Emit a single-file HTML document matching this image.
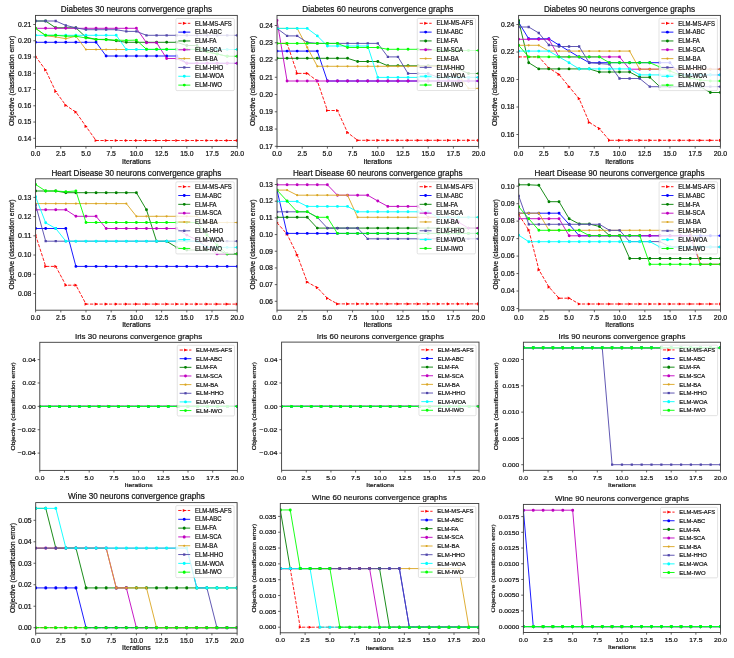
<!DOCTYPE html>
<html><head><meta charset="utf-8"><style>
html,body{margin:0;padding:0;background:#fff;}
svg{display:block;will-change:transform;}
text{font-family:"Liberation Sans", sans-serif;fill:#111;stroke:#111;stroke-width:0.2px;}
</style></head><body>
<svg width="734" height="658" viewBox="0 0 734 658">
<rect width="734" height="658" fill="#fff"/>
<text x="136.40" y="12.10" font-size="8.20" text-anchor="middle" textLength="151.21" lengthAdjust="spacingAndGlyphs">Diabetes 30 neurons convergence graphs</text>
<clipPath id="c0"><rect x="35.5" y="15.4" width="201.80" height="131.00"/></clipPath>
<g clip-path="url(#c0)">
<polyline points="35.50,56.30 45.59,70.00 55.68,91.50 65.77,105.30 75.86,112.10 85.95,126.40 96.04,140.50 106.13,140.50 116.22,140.50 126.31,140.50 136.40,140.50 146.49,140.50 156.58,140.50 166.67,140.50 176.76,140.50 186.85,140.50 196.94,140.50 207.03,140.50 217.12,140.50 227.21,140.50 237.30,140.50" fill="none" stroke="#ff0000" stroke-width="0.9" stroke-dasharray="3.3,1.45"/>
<path d="M34.10,54.70L37.20,56.30L34.10,57.90ZM44.19,68.40L47.29,70.00L44.19,71.60ZM54.28,89.90L57.38,91.50L54.28,93.10ZM64.37,103.70L67.47,105.30L64.37,106.90ZM74.46,110.50L77.56,112.10L74.46,113.70ZM84.55,124.80L87.65,126.40L84.55,128.00ZM94.64,138.90L97.74,140.50L94.64,142.10ZM104.73,138.90L107.83,140.50L104.73,142.10ZM114.82,138.90L117.92,140.50L114.82,142.10ZM124.91,138.90L128.01,140.50L124.91,142.10ZM135.00,138.90L138.10,140.50L135.00,142.10ZM145.09,138.90L148.19,140.50L145.09,142.10ZM155.18,138.90L158.28,140.50L155.18,142.10ZM165.27,138.90L168.37,140.50L165.27,142.10ZM175.36,138.90L178.46,140.50L175.36,142.10ZM185.45,138.90L188.55,140.50L185.45,142.10ZM195.54,138.90L198.64,140.50L195.54,142.10ZM205.63,138.90L208.73,140.50L205.63,142.10ZM215.72,138.90L218.82,140.50L215.72,142.10ZM225.81,138.90L228.91,140.50L225.81,142.10ZM235.90,138.90L239.00,140.50L235.90,142.10Z" fill="#ff0000"/>
<polyline points="35.50,42.30 45.59,42.30 55.68,42.30 65.77,42.30 75.86,42.30 85.95,42.30 96.04,42.30 106.13,56.00 116.22,56.00 126.31,56.00 136.40,56.00 146.49,56.00 156.58,56.00 166.67,56.00 176.76,56.00 186.85,63.30 196.94,63.30 207.03,63.30 217.12,63.30 227.21,63.30 237.30,63.30" fill="none" stroke="#0000ff" stroke-width="0.9"/>
<path d="M34.05,42.30a1.45,1.45 0 1,0 2.90,0a1.45,1.45 0 1,0 -2.90,0M44.14,42.30a1.45,1.45 0 1,0 2.90,0a1.45,1.45 0 1,0 -2.90,0M54.23,42.30a1.45,1.45 0 1,0 2.90,0a1.45,1.45 0 1,0 -2.90,0M64.32,42.30a1.45,1.45 0 1,0 2.90,0a1.45,1.45 0 1,0 -2.90,0M74.41,42.30a1.45,1.45 0 1,0 2.90,0a1.45,1.45 0 1,0 -2.90,0M84.50,42.30a1.45,1.45 0 1,0 2.90,0a1.45,1.45 0 1,0 -2.90,0M94.59,42.30a1.45,1.45 0 1,0 2.90,0a1.45,1.45 0 1,0 -2.90,0M104.68,56.00a1.45,1.45 0 1,0 2.90,0a1.45,1.45 0 1,0 -2.90,0M114.77,56.00a1.45,1.45 0 1,0 2.90,0a1.45,1.45 0 1,0 -2.90,0M124.86,56.00a1.45,1.45 0 1,0 2.90,0a1.45,1.45 0 1,0 -2.90,0M134.95,56.00a1.45,1.45 0 1,0 2.90,0a1.45,1.45 0 1,0 -2.90,0M145.04,56.00a1.45,1.45 0 1,0 2.90,0a1.45,1.45 0 1,0 -2.90,0M155.13,56.00a1.45,1.45 0 1,0 2.90,0a1.45,1.45 0 1,0 -2.90,0M165.22,56.00a1.45,1.45 0 1,0 2.90,0a1.45,1.45 0 1,0 -2.90,0M175.31,56.00a1.45,1.45 0 1,0 2.90,0a1.45,1.45 0 1,0 -2.90,0M185.40,63.30a1.45,1.45 0 1,0 2.90,0a1.45,1.45 0 1,0 -2.90,0M195.49,63.30a1.45,1.45 0 1,0 2.90,0a1.45,1.45 0 1,0 -2.90,0M205.58,63.30a1.45,1.45 0 1,0 2.90,0a1.45,1.45 0 1,0 -2.90,0M215.67,63.30a1.45,1.45 0 1,0 2.90,0a1.45,1.45 0 1,0 -2.90,0M225.76,63.30a1.45,1.45 0 1,0 2.90,0a1.45,1.45 0 1,0 -2.90,0M235.85,63.30a1.45,1.45 0 1,0 2.90,0a1.45,1.45 0 1,0 -2.90,0" fill="#0000ff"/>
<polyline points="35.50,21.00 45.59,21.00 55.68,27.80 65.77,27.80 75.86,27.80 85.95,37.20 96.04,39.40 106.13,39.40 116.22,40.80 126.31,42.30 136.40,42.30 146.49,42.30 156.58,42.30 166.67,42.30 176.76,42.30 186.85,45.50 196.94,45.50 207.03,51.80 217.12,54.00 227.21,56.30 237.30,56.30" fill="none" stroke="#008000" stroke-width="0.9"/>
<path d="M34.05,21.00a1.45,1.45 0 1,0 2.90,0a1.45,1.45 0 1,0 -2.90,0M44.14,21.00a1.45,1.45 0 1,0 2.90,0a1.45,1.45 0 1,0 -2.90,0M54.23,27.80a1.45,1.45 0 1,0 2.90,0a1.45,1.45 0 1,0 -2.90,0M64.32,27.80a1.45,1.45 0 1,0 2.90,0a1.45,1.45 0 1,0 -2.90,0M74.41,27.80a1.45,1.45 0 1,0 2.90,0a1.45,1.45 0 1,0 -2.90,0M84.50,37.20a1.45,1.45 0 1,0 2.90,0a1.45,1.45 0 1,0 -2.90,0M94.59,39.40a1.45,1.45 0 1,0 2.90,0a1.45,1.45 0 1,0 -2.90,0M104.68,39.40a1.45,1.45 0 1,0 2.90,0a1.45,1.45 0 1,0 -2.90,0M114.77,40.80a1.45,1.45 0 1,0 2.90,0a1.45,1.45 0 1,0 -2.90,0M124.86,42.30a1.45,1.45 0 1,0 2.90,0a1.45,1.45 0 1,0 -2.90,0M134.95,42.30a1.45,1.45 0 1,0 2.90,0a1.45,1.45 0 1,0 -2.90,0M145.04,42.30a1.45,1.45 0 1,0 2.90,0a1.45,1.45 0 1,0 -2.90,0M155.13,42.30a1.45,1.45 0 1,0 2.90,0a1.45,1.45 0 1,0 -2.90,0M165.22,42.30a1.45,1.45 0 1,0 2.90,0a1.45,1.45 0 1,0 -2.90,0M175.31,42.30a1.45,1.45 0 1,0 2.90,0a1.45,1.45 0 1,0 -2.90,0M185.40,45.50a1.45,1.45 0 1,0 2.90,0a1.45,1.45 0 1,0 -2.90,0M195.49,45.50a1.45,1.45 0 1,0 2.90,0a1.45,1.45 0 1,0 -2.90,0M205.58,51.80a1.45,1.45 0 1,0 2.90,0a1.45,1.45 0 1,0 -2.90,0M215.67,54.00a1.45,1.45 0 1,0 2.90,0a1.45,1.45 0 1,0 -2.90,0M225.76,56.30a1.45,1.45 0 1,0 2.90,0a1.45,1.45 0 1,0 -2.90,0M235.85,56.30a1.45,1.45 0 1,0 2.90,0a1.45,1.45 0 1,0 -2.90,0" fill="#008000"/>
<polyline points="35.50,28.30 45.59,28.30 55.68,28.30 65.77,28.30 75.86,28.30 85.95,28.30 96.04,28.30 106.13,28.30 116.22,28.30 126.31,28.30 136.40,28.30 146.49,42.70 156.58,42.70 166.67,58.50 176.76,58.50 186.85,63.30 196.94,63.30 207.03,63.30 217.12,63.30 227.21,63.30 237.30,63.30" fill="none" stroke="#c000c0" stroke-width="0.9"/>
<path d="M34.05,28.30a1.45,1.45 0 1,0 2.90,0a1.45,1.45 0 1,0 -2.90,0M44.14,28.30a1.45,1.45 0 1,0 2.90,0a1.45,1.45 0 1,0 -2.90,0M54.23,28.30a1.45,1.45 0 1,0 2.90,0a1.45,1.45 0 1,0 -2.90,0M64.32,28.30a1.45,1.45 0 1,0 2.90,0a1.45,1.45 0 1,0 -2.90,0M74.41,28.30a1.45,1.45 0 1,0 2.90,0a1.45,1.45 0 1,0 -2.90,0M84.50,28.30a1.45,1.45 0 1,0 2.90,0a1.45,1.45 0 1,0 -2.90,0M94.59,28.30a1.45,1.45 0 1,0 2.90,0a1.45,1.45 0 1,0 -2.90,0M104.68,28.30a1.45,1.45 0 1,0 2.90,0a1.45,1.45 0 1,0 -2.90,0M114.77,28.30a1.45,1.45 0 1,0 2.90,0a1.45,1.45 0 1,0 -2.90,0M124.86,28.30a1.45,1.45 0 1,0 2.90,0a1.45,1.45 0 1,0 -2.90,0M134.95,28.30a1.45,1.45 0 1,0 2.90,0a1.45,1.45 0 1,0 -2.90,0M145.04,42.70a1.45,1.45 0 1,0 2.90,0a1.45,1.45 0 1,0 -2.90,0M155.13,42.70a1.45,1.45 0 1,0 2.90,0a1.45,1.45 0 1,0 -2.90,0M165.22,58.50a1.45,1.45 0 1,0 2.90,0a1.45,1.45 0 1,0 -2.90,0M175.31,58.50a1.45,1.45 0 1,0 2.90,0a1.45,1.45 0 1,0 -2.90,0M185.40,63.30a1.45,1.45 0 1,0 2.90,0a1.45,1.45 0 1,0 -2.90,0M195.49,63.30a1.45,1.45 0 1,0 2.90,0a1.45,1.45 0 1,0 -2.90,0M205.58,63.30a1.45,1.45 0 1,0 2.90,0a1.45,1.45 0 1,0 -2.90,0M215.67,63.30a1.45,1.45 0 1,0 2.90,0a1.45,1.45 0 1,0 -2.90,0M225.76,63.30a1.45,1.45 0 1,0 2.90,0a1.45,1.45 0 1,0 -2.90,0M235.85,63.30a1.45,1.45 0 1,0 2.90,0a1.45,1.45 0 1,0 -2.90,0" fill="#c000c0"/>
<polyline points="35.50,28.30 45.59,35.80 55.68,36.90 65.77,38.70 75.86,36.20 85.95,49.50 96.04,49.50 106.13,49.50 116.22,49.50 126.31,49.50 136.40,49.50 146.49,49.50 156.58,49.50 166.67,49.50 176.76,49.50 186.85,49.50 196.94,49.50 207.03,49.50 217.12,49.50 227.21,49.50 237.30,49.50" fill="none" stroke="#daa520" stroke-width="0.9"/>
<path d="M34.40,28.30a1.10,1.10 0 1,0 2.20,0a1.10,1.10 0 1,0 -2.20,0M44.49,35.80a1.10,1.10 0 1,0 2.20,0a1.10,1.10 0 1,0 -2.20,0M54.58,36.90a1.10,1.10 0 1,0 2.20,0a1.10,1.10 0 1,0 -2.20,0M64.67,38.70a1.10,1.10 0 1,0 2.20,0a1.10,1.10 0 1,0 -2.20,0M74.76,36.20a1.10,1.10 0 1,0 2.20,0a1.10,1.10 0 1,0 -2.20,0M84.85,49.50a1.10,1.10 0 1,0 2.20,0a1.10,1.10 0 1,0 -2.20,0M94.94,49.50a1.10,1.10 0 1,0 2.20,0a1.10,1.10 0 1,0 -2.20,0M105.03,49.50a1.10,1.10 0 1,0 2.20,0a1.10,1.10 0 1,0 -2.20,0M115.12,49.50a1.10,1.10 0 1,0 2.20,0a1.10,1.10 0 1,0 -2.20,0M125.21,49.50a1.10,1.10 0 1,0 2.20,0a1.10,1.10 0 1,0 -2.20,0M135.30,49.50a1.10,1.10 0 1,0 2.20,0a1.10,1.10 0 1,0 -2.20,0M145.39,49.50a1.10,1.10 0 1,0 2.20,0a1.10,1.10 0 1,0 -2.20,0M155.48,49.50a1.10,1.10 0 1,0 2.20,0a1.10,1.10 0 1,0 -2.20,0M165.57,49.50a1.10,1.10 0 1,0 2.20,0a1.10,1.10 0 1,0 -2.20,0M175.66,49.50a1.10,1.10 0 1,0 2.20,0a1.10,1.10 0 1,0 -2.20,0M185.75,49.50a1.10,1.10 0 1,0 2.20,0a1.10,1.10 0 1,0 -2.20,0M195.84,49.50a1.10,1.10 0 1,0 2.20,0a1.10,1.10 0 1,0 -2.20,0M205.93,49.50a1.10,1.10 0 1,0 2.20,0a1.10,1.10 0 1,0 -2.20,0M216.02,49.50a1.10,1.10 0 1,0 2.20,0a1.10,1.10 0 1,0 -2.20,0M226.11,49.50a1.10,1.10 0 1,0 2.20,0a1.10,1.10 0 1,0 -2.20,0M236.20,49.50a1.10,1.10 0 1,0 2.20,0a1.10,1.10 0 1,0 -2.20,0" fill="#daa520"/>
<polyline points="35.50,21.00 45.59,21.00 55.68,21.00 65.77,25.40 75.86,27.80 85.95,29.70 96.04,29.70 106.13,29.70 116.22,29.70 126.31,31.40 136.40,31.40 146.49,35.30 156.58,35.30 166.67,35.30 176.76,35.30 186.85,35.30 196.94,35.30 207.03,35.30 217.12,35.30 227.21,35.30 237.30,35.30" fill="none" stroke="#5046aa" stroke-width="0.9"/>
<path d="M34.35,19.85h2.30v2.30h-2.30ZM44.44,19.85h2.30v2.30h-2.30ZM54.53,19.85h2.30v2.30h-2.30ZM64.62,24.25h2.30v2.30h-2.30ZM74.71,26.65h2.30v2.30h-2.30ZM84.80,28.55h2.30v2.30h-2.30ZM94.89,28.55h2.30v2.30h-2.30ZM104.98,28.55h2.30v2.30h-2.30ZM115.07,28.55h2.30v2.30h-2.30ZM125.16,30.25h2.30v2.30h-2.30ZM135.25,30.25h2.30v2.30h-2.30ZM145.34,34.15h2.30v2.30h-2.30ZM155.43,34.15h2.30v2.30h-2.30ZM165.52,34.15h2.30v2.30h-2.30ZM175.61,34.15h2.30v2.30h-2.30ZM185.70,34.15h2.30v2.30h-2.30ZM195.79,34.15h2.30v2.30h-2.30ZM205.88,34.15h2.30v2.30h-2.30ZM215.97,34.15h2.30v2.30h-2.30ZM226.06,34.15h2.30v2.30h-2.30ZM236.15,34.15h2.30v2.30h-2.30Z" fill="#5046aa"/>
<polyline points="35.50,35.30 45.59,35.30 55.68,35.30 65.77,35.30 75.86,35.30 85.95,35.30 96.04,35.30 106.13,35.30 116.22,35.30 126.31,49.50 136.40,49.50 146.49,49.50 156.58,49.50 166.67,49.50 176.76,49.50 186.85,49.50 196.94,49.50 207.03,49.50 217.12,49.50 227.21,49.50 237.30,49.50" fill="none" stroke="#00ffff" stroke-width="0.9"/>
<path d="M34.05,35.30a1.45,1.45 0 1,0 2.90,0a1.45,1.45 0 1,0 -2.90,0M44.14,35.30a1.45,1.45 0 1,0 2.90,0a1.45,1.45 0 1,0 -2.90,0M54.23,35.30a1.45,1.45 0 1,0 2.90,0a1.45,1.45 0 1,0 -2.90,0M64.32,35.30a1.45,1.45 0 1,0 2.90,0a1.45,1.45 0 1,0 -2.90,0M74.41,35.30a1.45,1.45 0 1,0 2.90,0a1.45,1.45 0 1,0 -2.90,0M84.50,35.30a1.45,1.45 0 1,0 2.90,0a1.45,1.45 0 1,0 -2.90,0M94.59,35.30a1.45,1.45 0 1,0 2.90,0a1.45,1.45 0 1,0 -2.90,0M104.68,35.30a1.45,1.45 0 1,0 2.90,0a1.45,1.45 0 1,0 -2.90,0M114.77,35.30a1.45,1.45 0 1,0 2.90,0a1.45,1.45 0 1,0 -2.90,0M124.86,49.50a1.45,1.45 0 1,0 2.90,0a1.45,1.45 0 1,0 -2.90,0M134.95,49.50a1.45,1.45 0 1,0 2.90,0a1.45,1.45 0 1,0 -2.90,0M145.04,49.50a1.45,1.45 0 1,0 2.90,0a1.45,1.45 0 1,0 -2.90,0M155.13,49.50a1.45,1.45 0 1,0 2.90,0a1.45,1.45 0 1,0 -2.90,0M165.22,49.50a1.45,1.45 0 1,0 2.90,0a1.45,1.45 0 1,0 -2.90,0M175.31,49.50a1.45,1.45 0 1,0 2.90,0a1.45,1.45 0 1,0 -2.90,0M185.40,49.50a1.45,1.45 0 1,0 2.90,0a1.45,1.45 0 1,0 -2.90,0M195.49,49.50a1.45,1.45 0 1,0 2.90,0a1.45,1.45 0 1,0 -2.90,0M205.58,49.50a1.45,1.45 0 1,0 2.90,0a1.45,1.45 0 1,0 -2.90,0M215.67,49.50a1.45,1.45 0 1,0 2.90,0a1.45,1.45 0 1,0 -2.90,0M225.76,49.50a1.45,1.45 0 1,0 2.90,0a1.45,1.45 0 1,0 -2.90,0M235.85,49.50a1.45,1.45 0 1,0 2.90,0a1.45,1.45 0 1,0 -2.90,0" fill="#00ffff"/>
<polyline points="35.50,28.30 45.59,35.30 55.68,35.30 65.77,36.20 75.86,36.20 85.95,38.00 96.04,39.40 106.13,39.80 116.22,40.10 126.31,40.40 136.40,40.10 146.49,49.30 156.58,49.30 166.67,49.30 176.76,49.30 186.85,49.30 196.94,49.30 207.03,51.80 217.12,54.00 227.21,56.30 237.30,56.30" fill="none" stroke="#00ff00" stroke-width="0.9"/>
<path d="M34.05,28.30a1.45,1.45 0 1,0 2.90,0a1.45,1.45 0 1,0 -2.90,0M44.14,35.30a1.45,1.45 0 1,0 2.90,0a1.45,1.45 0 1,0 -2.90,0M54.23,35.30a1.45,1.45 0 1,0 2.90,0a1.45,1.45 0 1,0 -2.90,0M64.32,36.20a1.45,1.45 0 1,0 2.90,0a1.45,1.45 0 1,0 -2.90,0M74.41,36.20a1.45,1.45 0 1,0 2.90,0a1.45,1.45 0 1,0 -2.90,0M84.50,38.00a1.45,1.45 0 1,0 2.90,0a1.45,1.45 0 1,0 -2.90,0M94.59,39.40a1.45,1.45 0 1,0 2.90,0a1.45,1.45 0 1,0 -2.90,0M104.68,39.80a1.45,1.45 0 1,0 2.90,0a1.45,1.45 0 1,0 -2.90,0M114.77,40.10a1.45,1.45 0 1,0 2.90,0a1.45,1.45 0 1,0 -2.90,0M124.86,40.40a1.45,1.45 0 1,0 2.90,0a1.45,1.45 0 1,0 -2.90,0M134.95,40.10a1.45,1.45 0 1,0 2.90,0a1.45,1.45 0 1,0 -2.90,0M145.04,49.30a1.45,1.45 0 1,0 2.90,0a1.45,1.45 0 1,0 -2.90,0M155.13,49.30a1.45,1.45 0 1,0 2.90,0a1.45,1.45 0 1,0 -2.90,0M165.22,49.30a1.45,1.45 0 1,0 2.90,0a1.45,1.45 0 1,0 -2.90,0M175.31,49.30a1.45,1.45 0 1,0 2.90,0a1.45,1.45 0 1,0 -2.90,0M185.40,49.30a1.45,1.45 0 1,0 2.90,0a1.45,1.45 0 1,0 -2.90,0M195.49,49.30a1.45,1.45 0 1,0 2.90,0a1.45,1.45 0 1,0 -2.90,0M205.58,51.80a1.45,1.45 0 1,0 2.90,0a1.45,1.45 0 1,0 -2.90,0M215.67,54.00a1.45,1.45 0 1,0 2.90,0a1.45,1.45 0 1,0 -2.90,0M225.76,56.30a1.45,1.45 0 1,0 2.90,0a1.45,1.45 0 1,0 -2.90,0M235.85,56.30a1.45,1.45 0 1,0 2.90,0a1.45,1.45 0 1,0 -2.90,0" fill="#00ff00"/>
</g>
<rect x="35.5" y="15.4" width="201.80" height="131.00" fill="none" stroke="#3a3a3a" stroke-width="0.9"/>
<line x1="35.50" y1="146.4" x2="35.50" y2="148.60" stroke="#3a3a3a" stroke-width="0.8"/>
<text x="35.50" y="156.00" font-size="6.30" text-anchor="middle" textLength="9.54" lengthAdjust="spacingAndGlyphs">0.0</text>
<line x1="60.73" y1="146.4" x2="60.73" y2="148.60" stroke="#3a3a3a" stroke-width="0.8"/>
<text x="60.73" y="156.00" font-size="6.30" text-anchor="middle" textLength="9.54" lengthAdjust="spacingAndGlyphs">2.5</text>
<line x1="85.95" y1="146.4" x2="85.95" y2="148.60" stroke="#3a3a3a" stroke-width="0.8"/>
<text x="85.95" y="156.00" font-size="6.30" text-anchor="middle" textLength="9.54" lengthAdjust="spacingAndGlyphs">5.0</text>
<line x1="111.18" y1="146.4" x2="111.18" y2="148.60" stroke="#3a3a3a" stroke-width="0.8"/>
<text x="111.18" y="156.00" font-size="6.30" text-anchor="middle" textLength="9.54" lengthAdjust="spacingAndGlyphs">7.5</text>
<line x1="136.40" y1="146.4" x2="136.40" y2="148.60" stroke="#3a3a3a" stroke-width="0.8"/>
<text x="136.40" y="156.00" font-size="6.30" text-anchor="middle" textLength="13.36" lengthAdjust="spacingAndGlyphs">10.0</text>
<line x1="161.62" y1="146.4" x2="161.62" y2="148.60" stroke="#3a3a3a" stroke-width="0.8"/>
<text x="161.62" y="156.00" font-size="6.30" text-anchor="middle" textLength="13.36" lengthAdjust="spacingAndGlyphs">12.5</text>
<line x1="186.85" y1="146.4" x2="186.85" y2="148.60" stroke="#3a3a3a" stroke-width="0.8"/>
<text x="186.85" y="156.00" font-size="6.30" text-anchor="middle" textLength="13.36" lengthAdjust="spacingAndGlyphs">15.0</text>
<line x1="212.08" y1="146.4" x2="212.08" y2="148.60" stroke="#3a3a3a" stroke-width="0.8"/>
<text x="212.08" y="156.00" font-size="6.30" text-anchor="middle" textLength="13.36" lengthAdjust="spacingAndGlyphs">17.5</text>
<line x1="237.30" y1="146.4" x2="237.30" y2="148.60" stroke="#3a3a3a" stroke-width="0.8"/>
<text x="237.30" y="156.00" font-size="6.30" text-anchor="middle" textLength="13.36" lengthAdjust="spacingAndGlyphs">20.0</text>
<text x="136.40" y="163.60" font-size="6.30" text-anchor="middle" textLength="28.58" lengthAdjust="spacingAndGlyphs">Iterations</text>
<line x1="33.30" y1="138.30" x2="35.5" y2="138.30" stroke="#3a3a3a" stroke-width="0.8"/>
<text x="31.30" y="140.60" font-size="6.30" text-anchor="end" textLength="13.36" lengthAdjust="spacingAndGlyphs">0.14</text>
<line x1="33.30" y1="122.04" x2="35.5" y2="122.04" stroke="#3a3a3a" stroke-width="0.8"/>
<text x="31.30" y="124.34" font-size="6.30" text-anchor="end" textLength="13.36" lengthAdjust="spacingAndGlyphs">0.15</text>
<line x1="33.30" y1="105.79" x2="35.5" y2="105.79" stroke="#3a3a3a" stroke-width="0.8"/>
<text x="31.30" y="108.09" font-size="6.30" text-anchor="end" textLength="13.36" lengthAdjust="spacingAndGlyphs">0.16</text>
<line x1="33.30" y1="89.53" x2="35.5" y2="89.53" stroke="#3a3a3a" stroke-width="0.8"/>
<text x="31.30" y="91.83" font-size="6.30" text-anchor="end" textLength="13.36" lengthAdjust="spacingAndGlyphs">0.17</text>
<line x1="33.30" y1="73.27" x2="35.5" y2="73.27" stroke="#3a3a3a" stroke-width="0.8"/>
<text x="31.30" y="75.57" font-size="6.30" text-anchor="end" textLength="13.36" lengthAdjust="spacingAndGlyphs">0.18</text>
<line x1="33.30" y1="57.01" x2="35.5" y2="57.01" stroke="#3a3a3a" stroke-width="0.8"/>
<text x="31.30" y="59.31" font-size="6.30" text-anchor="end" textLength="13.36" lengthAdjust="spacingAndGlyphs">0.19</text>
<line x1="33.30" y1="40.76" x2="35.5" y2="40.76" stroke="#3a3a3a" stroke-width="0.8"/>
<text x="31.30" y="43.06" font-size="6.30" text-anchor="end" textLength="13.36" lengthAdjust="spacingAndGlyphs">0.20</text>
<line x1="33.30" y1="24.50" x2="35.5" y2="24.50" stroke="#3a3a3a" stroke-width="0.8"/>
<text x="31.30" y="26.80" font-size="6.30" text-anchor="end" textLength="13.36" lengthAdjust="spacingAndGlyphs">0.21</text>
<g><text x="0" y="0" font-size="6.30" text-anchor="middle" textLength="90.28" lengthAdjust="spacingAndGlyphs" transform="translate(14.30,80.90) rotate(-90)">Objective (classification error)</text></g>
<rect x="175.90" y="18.40" width="58.40" height="72.20" rx="1.2" fill="#fff" fill-opacity="0.8" stroke="#ccc" stroke-opacity="0.8" stroke-width="0.7"/>
<line x1="178.30" y1="23.30" x2="190.30" y2="23.30" stroke="#ff0000" stroke-width="0.9" stroke-dasharray="3.3,1.45"/>
<path d="M182.90,21.70L186.00,23.30L182.90,24.90Z" fill="#ff0000"/>
<text x="195.10" y="25.50" font-size="6.30" text-anchor="start" textLength="36.75" lengthAdjust="spacingAndGlyphs">ELM-MS-AFS</text>
<line x1="178.30" y1="32.13" x2="190.30" y2="32.13" stroke="#0000ff" stroke-width="0.9"/>
<path d="M182.85,32.13a1.45,1.45 0 1,0 2.90,0a1.45,1.45 0 1,0 -2.90,0" fill="#0000ff"/>
<text x="195.10" y="34.33" font-size="6.30" text-anchor="start" textLength="26.65" lengthAdjust="spacingAndGlyphs">ELM-ABC</text>
<line x1="178.30" y1="40.96" x2="190.30" y2="40.96" stroke="#008000" stroke-width="0.9"/>
<path d="M182.85,40.96a1.45,1.45 0 1,0 2.90,0a1.45,1.45 0 1,0 -2.90,0" fill="#008000"/>
<text x="195.10" y="43.16" font-size="6.30" text-anchor="start" textLength="21.48" lengthAdjust="spacingAndGlyphs">ELM-FA</text>
<line x1="178.30" y1="49.79" x2="190.30" y2="49.79" stroke="#c000c0" stroke-width="0.9"/>
<path d="M182.85,49.79a1.45,1.45 0 1,0 2.90,0a1.45,1.45 0 1,0 -2.90,0" fill="#c000c0"/>
<text x="195.10" y="51.99" font-size="6.30" text-anchor="start" textLength="26.58" lengthAdjust="spacingAndGlyphs">ELM-SCA</text>
<line x1="178.30" y1="58.62" x2="190.30" y2="58.62" stroke="#daa520" stroke-width="0.9"/>
<path d="M183.20,58.62a1.10,1.10 0 1,0 2.20,0a1.10,1.10 0 1,0 -2.20,0" fill="#daa520"/>
<text x="195.10" y="60.82" font-size="6.30" text-anchor="start" textLength="22.48" lengthAdjust="spacingAndGlyphs">ELM-BA</text>
<line x1="178.30" y1="67.45" x2="190.30" y2="67.45" stroke="#5046aa" stroke-width="0.9"/>
<path d="M183.15,66.30h2.30v2.30h-2.30Z" fill="#5046aa"/>
<text x="195.10" y="69.65" font-size="6.30" text-anchor="start" textLength="28.22" lengthAdjust="spacingAndGlyphs">ELM-HHO</text>
<line x1="178.30" y1="76.28" x2="190.30" y2="76.28" stroke="#00ffff" stroke-width="0.9"/>
<path d="M182.85,76.28a1.45,1.45 0 1,0 2.90,0a1.45,1.45 0 1,0 -2.90,0" fill="#00ffff"/>
<text x="195.10" y="78.48" font-size="6.30" text-anchor="start" textLength="28.89" lengthAdjust="spacingAndGlyphs">ELM-WOA</text>
<line x1="178.30" y1="85.11" x2="190.30" y2="85.11" stroke="#00ff00" stroke-width="0.9"/>
<path d="M182.85,85.11a1.45,1.45 0 1,0 2.90,0a1.45,1.45 0 1,0 -2.90,0" fill="#00ff00"/>
<text x="195.10" y="87.31" font-size="6.30" text-anchor="start" textLength="26.90" lengthAdjust="spacingAndGlyphs">ELM-IWO</text>
<text x="377.80" y="12.10" font-size="8.19" text-anchor="middle" textLength="151.06" lengthAdjust="spacingAndGlyphs">Diabetes 60 neurons convergence graphs</text>
<clipPath id="c1"><rect x="277.0" y="15.4" width="201.60" height="131.00"/></clipPath>
<g clip-path="url(#c1)">
<polyline points="277.00,43.40 287.08,43.40 297.16,73.40 307.24,73.40 317.32,80.90 327.40,110.50 337.48,110.50 347.56,132.60 357.64,140.30 367.72,140.30 377.80,140.30 387.88,140.30 397.96,140.30 408.04,140.30 418.12,140.30 428.20,140.30 438.28,140.30 448.36,140.30 458.44,140.30 468.52,140.30 478.60,140.30" fill="none" stroke="#ff0000" stroke-width="0.9" stroke-dasharray="3.3,1.45"/>
<path d="M275.60,41.80L278.70,43.40L275.60,45.00ZM285.68,41.80L288.78,43.40L285.68,45.00ZM295.76,71.80L298.86,73.40L295.76,75.00ZM305.84,71.80L308.94,73.40L305.84,75.00ZM315.92,79.30L319.02,80.90L315.92,82.50ZM326.00,108.90L329.10,110.50L326.00,112.10ZM336.08,108.90L339.18,110.50L336.08,112.10ZM346.16,131.00L349.26,132.60L346.16,134.20ZM356.24,138.70L359.34,140.30L356.24,141.90ZM366.32,138.70L369.42,140.30L366.32,141.90ZM376.40,138.70L379.50,140.30L376.40,141.90ZM386.48,138.70L389.58,140.30L386.48,141.90ZM396.56,138.70L399.66,140.30L396.56,141.90ZM406.64,138.70L409.74,140.30L406.64,141.90ZM416.72,138.70L419.82,140.30L416.72,141.90ZM426.80,138.70L429.90,140.30L426.80,141.90ZM436.88,138.70L439.98,140.30L436.88,141.90ZM446.96,138.70L450.06,140.30L446.96,141.90ZM457.04,138.70L460.14,140.30L457.04,141.90ZM467.12,138.70L470.22,140.30L467.12,141.90ZM477.20,138.70L480.30,140.30L477.20,141.90Z" fill="#ff0000"/>
<polyline points="277.00,51.10 287.08,51.10 297.16,51.10 307.24,51.10 317.32,51.10 327.40,81.00 337.48,81.00 347.56,81.00 357.64,81.00 367.72,81.00 377.80,81.00 387.88,81.00 397.96,81.00 408.04,81.00 418.12,81.00 428.20,81.00 438.28,81.00 448.36,81.00 458.44,81.00 468.52,81.00 478.60,81.00" fill="none" stroke="#0000ff" stroke-width="0.9"/>
<path d="M275.55,51.10a1.45,1.45 0 1,0 2.90,0a1.45,1.45 0 1,0 -2.90,0M285.63,51.10a1.45,1.45 0 1,0 2.90,0a1.45,1.45 0 1,0 -2.90,0M295.71,51.10a1.45,1.45 0 1,0 2.90,0a1.45,1.45 0 1,0 -2.90,0M305.79,51.10a1.45,1.45 0 1,0 2.90,0a1.45,1.45 0 1,0 -2.90,0M315.87,51.10a1.45,1.45 0 1,0 2.90,0a1.45,1.45 0 1,0 -2.90,0M325.95,81.00a1.45,1.45 0 1,0 2.90,0a1.45,1.45 0 1,0 -2.90,0M336.03,81.00a1.45,1.45 0 1,0 2.90,0a1.45,1.45 0 1,0 -2.90,0M346.11,81.00a1.45,1.45 0 1,0 2.90,0a1.45,1.45 0 1,0 -2.90,0M356.19,81.00a1.45,1.45 0 1,0 2.90,0a1.45,1.45 0 1,0 -2.90,0M366.27,81.00a1.45,1.45 0 1,0 2.90,0a1.45,1.45 0 1,0 -2.90,0M376.35,81.00a1.45,1.45 0 1,0 2.90,0a1.45,1.45 0 1,0 -2.90,0M386.43,81.00a1.45,1.45 0 1,0 2.90,0a1.45,1.45 0 1,0 -2.90,0M396.51,81.00a1.45,1.45 0 1,0 2.90,0a1.45,1.45 0 1,0 -2.90,0M406.59,81.00a1.45,1.45 0 1,0 2.90,0a1.45,1.45 0 1,0 -2.90,0M416.67,81.00a1.45,1.45 0 1,0 2.90,0a1.45,1.45 0 1,0 -2.90,0M426.75,81.00a1.45,1.45 0 1,0 2.90,0a1.45,1.45 0 1,0 -2.90,0M436.83,81.00a1.45,1.45 0 1,0 2.90,0a1.45,1.45 0 1,0 -2.90,0M446.91,81.00a1.45,1.45 0 1,0 2.90,0a1.45,1.45 0 1,0 -2.90,0M456.99,81.00a1.45,1.45 0 1,0 2.90,0a1.45,1.45 0 1,0 -2.90,0M467.07,81.00a1.45,1.45 0 1,0 2.90,0a1.45,1.45 0 1,0 -2.90,0M477.15,81.00a1.45,1.45 0 1,0 2.90,0a1.45,1.45 0 1,0 -2.90,0" fill="#0000ff"/>
<polyline points="277.00,58.30 287.08,58.30 297.16,58.30 307.24,58.30 317.32,58.30 327.40,58.30 337.48,58.30 347.56,58.30 357.64,61.50 367.72,61.50 377.80,61.50 387.88,65.80 397.96,65.80 408.04,65.80 418.12,65.80 428.20,65.80 438.28,65.80 448.36,65.80 458.44,69.00 468.52,73.50 478.60,73.50" fill="none" stroke="#008000" stroke-width="0.9"/>
<path d="M275.55,58.30a1.45,1.45 0 1,0 2.90,0a1.45,1.45 0 1,0 -2.90,0M285.63,58.30a1.45,1.45 0 1,0 2.90,0a1.45,1.45 0 1,0 -2.90,0M295.71,58.30a1.45,1.45 0 1,0 2.90,0a1.45,1.45 0 1,0 -2.90,0M305.79,58.30a1.45,1.45 0 1,0 2.90,0a1.45,1.45 0 1,0 -2.90,0M315.87,58.30a1.45,1.45 0 1,0 2.90,0a1.45,1.45 0 1,0 -2.90,0M325.95,58.30a1.45,1.45 0 1,0 2.90,0a1.45,1.45 0 1,0 -2.90,0M336.03,58.30a1.45,1.45 0 1,0 2.90,0a1.45,1.45 0 1,0 -2.90,0M346.11,58.30a1.45,1.45 0 1,0 2.90,0a1.45,1.45 0 1,0 -2.90,0M356.19,61.50a1.45,1.45 0 1,0 2.90,0a1.45,1.45 0 1,0 -2.90,0M366.27,61.50a1.45,1.45 0 1,0 2.90,0a1.45,1.45 0 1,0 -2.90,0M376.35,61.50a1.45,1.45 0 1,0 2.90,0a1.45,1.45 0 1,0 -2.90,0M386.43,65.80a1.45,1.45 0 1,0 2.90,0a1.45,1.45 0 1,0 -2.90,0M396.51,65.80a1.45,1.45 0 1,0 2.90,0a1.45,1.45 0 1,0 -2.90,0M406.59,65.80a1.45,1.45 0 1,0 2.90,0a1.45,1.45 0 1,0 -2.90,0M416.67,65.80a1.45,1.45 0 1,0 2.90,0a1.45,1.45 0 1,0 -2.90,0M426.75,65.80a1.45,1.45 0 1,0 2.90,0a1.45,1.45 0 1,0 -2.90,0M436.83,65.80a1.45,1.45 0 1,0 2.90,0a1.45,1.45 0 1,0 -2.90,0M446.91,65.80a1.45,1.45 0 1,0 2.90,0a1.45,1.45 0 1,0 -2.90,0M456.99,69.00a1.45,1.45 0 1,0 2.90,0a1.45,1.45 0 1,0 -2.90,0M467.07,73.50a1.45,1.45 0 1,0 2.90,0a1.45,1.45 0 1,0 -2.90,0M477.15,73.50a1.45,1.45 0 1,0 2.90,0a1.45,1.45 0 1,0 -2.90,0" fill="#008000"/>
<polyline points="277.00,20.50 287.08,81.00 297.16,81.00 307.24,81.00 317.32,81.00 327.40,81.00 337.48,81.00 347.56,81.00 357.64,81.00 367.72,81.00 377.80,81.00 387.88,81.00 397.96,81.00 408.04,81.00 418.12,81.00 428.20,81.00 438.28,81.00 448.36,81.00 458.44,81.00 468.52,81.00 478.60,81.00" fill="none" stroke="#c000c0" stroke-width="0.9"/>
<path d="M275.55,20.50a1.45,1.45 0 1,0 2.90,0a1.45,1.45 0 1,0 -2.90,0M285.63,81.00a1.45,1.45 0 1,0 2.90,0a1.45,1.45 0 1,0 -2.90,0M295.71,81.00a1.45,1.45 0 1,0 2.90,0a1.45,1.45 0 1,0 -2.90,0M305.79,81.00a1.45,1.45 0 1,0 2.90,0a1.45,1.45 0 1,0 -2.90,0M315.87,81.00a1.45,1.45 0 1,0 2.90,0a1.45,1.45 0 1,0 -2.90,0M325.95,81.00a1.45,1.45 0 1,0 2.90,0a1.45,1.45 0 1,0 -2.90,0M336.03,81.00a1.45,1.45 0 1,0 2.90,0a1.45,1.45 0 1,0 -2.90,0M346.11,81.00a1.45,1.45 0 1,0 2.90,0a1.45,1.45 0 1,0 -2.90,0M356.19,81.00a1.45,1.45 0 1,0 2.90,0a1.45,1.45 0 1,0 -2.90,0M366.27,81.00a1.45,1.45 0 1,0 2.90,0a1.45,1.45 0 1,0 -2.90,0M376.35,81.00a1.45,1.45 0 1,0 2.90,0a1.45,1.45 0 1,0 -2.90,0M386.43,81.00a1.45,1.45 0 1,0 2.90,0a1.45,1.45 0 1,0 -2.90,0M396.51,81.00a1.45,1.45 0 1,0 2.90,0a1.45,1.45 0 1,0 -2.90,0M406.59,81.00a1.45,1.45 0 1,0 2.90,0a1.45,1.45 0 1,0 -2.90,0M416.67,81.00a1.45,1.45 0 1,0 2.90,0a1.45,1.45 0 1,0 -2.90,0M426.75,81.00a1.45,1.45 0 1,0 2.90,0a1.45,1.45 0 1,0 -2.90,0M436.83,81.00a1.45,1.45 0 1,0 2.90,0a1.45,1.45 0 1,0 -2.90,0M446.91,81.00a1.45,1.45 0 1,0 2.90,0a1.45,1.45 0 1,0 -2.90,0M456.99,81.00a1.45,1.45 0 1,0 2.90,0a1.45,1.45 0 1,0 -2.90,0M467.07,81.00a1.45,1.45 0 1,0 2.90,0a1.45,1.45 0 1,0 -2.90,0M477.15,81.00a1.45,1.45 0 1,0 2.90,0a1.45,1.45 0 1,0 -2.90,0" fill="#c000c0"/>
<polyline points="277.00,28.40 287.08,28.40 297.16,28.40 307.24,47.40 317.32,66.30 327.40,66.30 337.48,66.30 347.56,66.30 357.64,66.30 367.72,66.30 377.80,66.30 387.88,66.30 397.96,66.30 408.04,66.30 418.12,66.30 428.20,66.30 438.28,66.30 448.36,66.30 458.44,75.00 468.52,88.40 478.60,88.40" fill="none" stroke="#daa520" stroke-width="0.9"/>
<path d="M275.90,28.40a1.10,1.10 0 1,0 2.20,0a1.10,1.10 0 1,0 -2.20,0M285.98,28.40a1.10,1.10 0 1,0 2.20,0a1.10,1.10 0 1,0 -2.20,0M296.06,28.40a1.10,1.10 0 1,0 2.20,0a1.10,1.10 0 1,0 -2.20,0M306.14,47.40a1.10,1.10 0 1,0 2.20,0a1.10,1.10 0 1,0 -2.20,0M316.22,66.30a1.10,1.10 0 1,0 2.20,0a1.10,1.10 0 1,0 -2.20,0M326.30,66.30a1.10,1.10 0 1,0 2.20,0a1.10,1.10 0 1,0 -2.20,0M336.38,66.30a1.10,1.10 0 1,0 2.20,0a1.10,1.10 0 1,0 -2.20,0M346.46,66.30a1.10,1.10 0 1,0 2.20,0a1.10,1.10 0 1,0 -2.20,0M356.54,66.30a1.10,1.10 0 1,0 2.20,0a1.10,1.10 0 1,0 -2.20,0M366.62,66.30a1.10,1.10 0 1,0 2.20,0a1.10,1.10 0 1,0 -2.20,0M376.70,66.30a1.10,1.10 0 1,0 2.20,0a1.10,1.10 0 1,0 -2.20,0M386.78,66.30a1.10,1.10 0 1,0 2.20,0a1.10,1.10 0 1,0 -2.20,0M396.86,66.30a1.10,1.10 0 1,0 2.20,0a1.10,1.10 0 1,0 -2.20,0M406.94,66.30a1.10,1.10 0 1,0 2.20,0a1.10,1.10 0 1,0 -2.20,0M417.02,66.30a1.10,1.10 0 1,0 2.20,0a1.10,1.10 0 1,0 -2.20,0M427.10,66.30a1.10,1.10 0 1,0 2.20,0a1.10,1.10 0 1,0 -2.20,0M437.18,66.30a1.10,1.10 0 1,0 2.20,0a1.10,1.10 0 1,0 -2.20,0M447.26,66.30a1.10,1.10 0 1,0 2.20,0a1.10,1.10 0 1,0 -2.20,0M457.34,75.00a1.10,1.10 0 1,0 2.20,0a1.10,1.10 0 1,0 -2.20,0M467.42,88.40a1.10,1.10 0 1,0 2.20,0a1.10,1.10 0 1,0 -2.20,0M477.50,88.40a1.10,1.10 0 1,0 2.20,0a1.10,1.10 0 1,0 -2.20,0" fill="#daa520"/>
<polyline points="277.00,28.40 287.08,35.90 297.16,35.90 307.24,42.40 317.32,43.40 327.40,43.40 337.48,43.40 347.56,43.40 357.64,43.40 367.72,43.40 377.80,43.40 387.88,56.90 397.96,56.90 408.04,73.50 418.12,73.50 428.20,73.50 438.28,77.40 448.36,77.40 458.44,77.40 468.52,77.40 478.60,77.40" fill="none" stroke="#5046aa" stroke-width="0.9"/>
<path d="M275.85,27.25h2.30v2.30h-2.30ZM285.93,34.75h2.30v2.30h-2.30ZM296.01,34.75h2.30v2.30h-2.30ZM306.09,41.25h2.30v2.30h-2.30ZM316.17,42.25h2.30v2.30h-2.30ZM326.25,42.25h2.30v2.30h-2.30ZM336.33,42.25h2.30v2.30h-2.30ZM346.41,42.25h2.30v2.30h-2.30ZM356.49,42.25h2.30v2.30h-2.30ZM366.57,42.25h2.30v2.30h-2.30ZM376.65,42.25h2.30v2.30h-2.30ZM386.73,55.75h2.30v2.30h-2.30ZM396.81,55.75h2.30v2.30h-2.30ZM406.89,72.35h2.30v2.30h-2.30ZM416.97,72.35h2.30v2.30h-2.30ZM427.05,72.35h2.30v2.30h-2.30ZM437.13,76.25h2.30v2.30h-2.30ZM447.21,76.25h2.30v2.30h-2.30ZM457.29,76.25h2.30v2.30h-2.30ZM467.37,76.25h2.30v2.30h-2.30ZM477.45,76.25h2.30v2.30h-2.30Z" fill="#5046aa"/>
<polyline points="277.00,28.40 287.08,28.40 297.16,28.40 307.24,28.40 317.32,35.90 327.40,46.00 337.48,46.00 347.56,46.00 357.64,46.00 367.72,46.00 377.80,77.40 387.88,77.40 397.96,77.40 408.04,77.40 418.12,77.40 428.20,77.40 438.28,77.40 448.36,77.40 458.44,77.40 468.52,77.40 478.60,77.40" fill="none" stroke="#00ffff" stroke-width="0.9"/>
<path d="M275.55,28.40a1.45,1.45 0 1,0 2.90,0a1.45,1.45 0 1,0 -2.90,0M285.63,28.40a1.45,1.45 0 1,0 2.90,0a1.45,1.45 0 1,0 -2.90,0M295.71,28.40a1.45,1.45 0 1,0 2.90,0a1.45,1.45 0 1,0 -2.90,0M305.79,28.40a1.45,1.45 0 1,0 2.90,0a1.45,1.45 0 1,0 -2.90,0M315.87,35.90a1.45,1.45 0 1,0 2.90,0a1.45,1.45 0 1,0 -2.90,0M325.95,46.00a1.45,1.45 0 1,0 2.90,0a1.45,1.45 0 1,0 -2.90,0M336.03,46.00a1.45,1.45 0 1,0 2.90,0a1.45,1.45 0 1,0 -2.90,0M346.11,46.00a1.45,1.45 0 1,0 2.90,0a1.45,1.45 0 1,0 -2.90,0M356.19,46.00a1.45,1.45 0 1,0 2.90,0a1.45,1.45 0 1,0 -2.90,0M366.27,46.00a1.45,1.45 0 1,0 2.90,0a1.45,1.45 0 1,0 -2.90,0M376.35,77.40a1.45,1.45 0 1,0 2.90,0a1.45,1.45 0 1,0 -2.90,0M386.43,77.40a1.45,1.45 0 1,0 2.90,0a1.45,1.45 0 1,0 -2.90,0M396.51,77.40a1.45,1.45 0 1,0 2.90,0a1.45,1.45 0 1,0 -2.90,0M406.59,77.40a1.45,1.45 0 1,0 2.90,0a1.45,1.45 0 1,0 -2.90,0M416.67,77.40a1.45,1.45 0 1,0 2.90,0a1.45,1.45 0 1,0 -2.90,0M426.75,77.40a1.45,1.45 0 1,0 2.90,0a1.45,1.45 0 1,0 -2.90,0M436.83,77.40a1.45,1.45 0 1,0 2.90,0a1.45,1.45 0 1,0 -2.90,0M446.91,77.40a1.45,1.45 0 1,0 2.90,0a1.45,1.45 0 1,0 -2.90,0M456.99,77.40a1.45,1.45 0 1,0 2.90,0a1.45,1.45 0 1,0 -2.90,0M467.07,77.40a1.45,1.45 0 1,0 2.90,0a1.45,1.45 0 1,0 -2.90,0M477.15,77.40a1.45,1.45 0 1,0 2.90,0a1.45,1.45 0 1,0 -2.90,0" fill="#00ffff"/>
<polyline points="277.00,43.40 287.08,43.40 297.16,43.40 307.24,43.40 317.32,43.40 327.40,43.40 337.48,43.40 347.56,47.50 357.64,47.50 367.72,47.50 377.80,47.50 387.88,49.30 397.96,49.30 408.04,49.30 418.12,49.30 428.20,49.30 438.28,50.50 448.36,50.50 458.44,50.50 468.52,50.50 478.60,50.50" fill="none" stroke="#00ff00" stroke-width="0.9"/>
<path d="M275.55,43.40a1.45,1.45 0 1,0 2.90,0a1.45,1.45 0 1,0 -2.90,0M285.63,43.40a1.45,1.45 0 1,0 2.90,0a1.45,1.45 0 1,0 -2.90,0M295.71,43.40a1.45,1.45 0 1,0 2.90,0a1.45,1.45 0 1,0 -2.90,0M305.79,43.40a1.45,1.45 0 1,0 2.90,0a1.45,1.45 0 1,0 -2.90,0M315.87,43.40a1.45,1.45 0 1,0 2.90,0a1.45,1.45 0 1,0 -2.90,0M325.95,43.40a1.45,1.45 0 1,0 2.90,0a1.45,1.45 0 1,0 -2.90,0M336.03,43.40a1.45,1.45 0 1,0 2.90,0a1.45,1.45 0 1,0 -2.90,0M346.11,47.50a1.45,1.45 0 1,0 2.90,0a1.45,1.45 0 1,0 -2.90,0M356.19,47.50a1.45,1.45 0 1,0 2.90,0a1.45,1.45 0 1,0 -2.90,0M366.27,47.50a1.45,1.45 0 1,0 2.90,0a1.45,1.45 0 1,0 -2.90,0M376.35,47.50a1.45,1.45 0 1,0 2.90,0a1.45,1.45 0 1,0 -2.90,0M386.43,49.30a1.45,1.45 0 1,0 2.90,0a1.45,1.45 0 1,0 -2.90,0M396.51,49.30a1.45,1.45 0 1,0 2.90,0a1.45,1.45 0 1,0 -2.90,0M406.59,49.30a1.45,1.45 0 1,0 2.90,0a1.45,1.45 0 1,0 -2.90,0M416.67,49.30a1.45,1.45 0 1,0 2.90,0a1.45,1.45 0 1,0 -2.90,0M426.75,49.30a1.45,1.45 0 1,0 2.90,0a1.45,1.45 0 1,0 -2.90,0M436.83,50.50a1.45,1.45 0 1,0 2.90,0a1.45,1.45 0 1,0 -2.90,0M446.91,50.50a1.45,1.45 0 1,0 2.90,0a1.45,1.45 0 1,0 -2.90,0M456.99,50.50a1.45,1.45 0 1,0 2.90,0a1.45,1.45 0 1,0 -2.90,0M467.07,50.50a1.45,1.45 0 1,0 2.90,0a1.45,1.45 0 1,0 -2.90,0M477.15,50.50a1.45,1.45 0 1,0 2.90,0a1.45,1.45 0 1,0 -2.90,0" fill="#00ff00"/>
</g>
<rect x="277.0" y="15.4" width="201.60" height="131.00" fill="none" stroke="#3a3a3a" stroke-width="0.9"/>
<line x1="277.00" y1="146.4" x2="277.00" y2="148.60" stroke="#3a3a3a" stroke-width="0.8"/>
<text x="277.00" y="155.99" font-size="6.29" text-anchor="middle" textLength="9.53" lengthAdjust="spacingAndGlyphs">0.0</text>
<line x1="302.20" y1="146.4" x2="302.20" y2="148.60" stroke="#3a3a3a" stroke-width="0.8"/>
<text x="302.20" y="155.99" font-size="6.29" text-anchor="middle" textLength="9.53" lengthAdjust="spacingAndGlyphs">2.5</text>
<line x1="327.40" y1="146.4" x2="327.40" y2="148.60" stroke="#3a3a3a" stroke-width="0.8"/>
<text x="327.40" y="155.99" font-size="6.29" text-anchor="middle" textLength="9.53" lengthAdjust="spacingAndGlyphs">5.0</text>
<line x1="352.60" y1="146.4" x2="352.60" y2="148.60" stroke="#3a3a3a" stroke-width="0.8"/>
<text x="352.60" y="155.99" font-size="6.29" text-anchor="middle" textLength="9.53" lengthAdjust="spacingAndGlyphs">7.5</text>
<line x1="377.80" y1="146.4" x2="377.80" y2="148.60" stroke="#3a3a3a" stroke-width="0.8"/>
<text x="377.80" y="155.99" font-size="6.29" text-anchor="middle" textLength="13.35" lengthAdjust="spacingAndGlyphs">10.0</text>
<line x1="403.00" y1="146.4" x2="403.00" y2="148.60" stroke="#3a3a3a" stroke-width="0.8"/>
<text x="403.00" y="155.99" font-size="6.29" text-anchor="middle" textLength="13.35" lengthAdjust="spacingAndGlyphs">12.5</text>
<line x1="428.20" y1="146.4" x2="428.20" y2="148.60" stroke="#3a3a3a" stroke-width="0.8"/>
<text x="428.20" y="155.99" font-size="6.29" text-anchor="middle" textLength="13.35" lengthAdjust="spacingAndGlyphs">15.0</text>
<line x1="453.40" y1="146.4" x2="453.40" y2="148.60" stroke="#3a3a3a" stroke-width="0.8"/>
<text x="453.40" y="155.99" font-size="6.29" text-anchor="middle" textLength="13.35" lengthAdjust="spacingAndGlyphs">17.5</text>
<line x1="478.60" y1="146.4" x2="478.60" y2="148.60" stroke="#3a3a3a" stroke-width="0.8"/>
<text x="478.60" y="155.99" font-size="6.29" text-anchor="middle" textLength="13.35" lengthAdjust="spacingAndGlyphs">20.0</text>
<text x="377.80" y="163.58" font-size="6.29" text-anchor="middle" textLength="28.55" lengthAdjust="spacingAndGlyphs">Iterations</text>
<line x1="274.80" y1="146.30" x2="277.0" y2="146.30" stroke="#3a3a3a" stroke-width="0.8"/>
<text x="272.80" y="148.60" font-size="6.29" text-anchor="end" textLength="13.35" lengthAdjust="spacingAndGlyphs">0.17</text>
<line x1="274.80" y1="129.04" x2="277.0" y2="129.04" stroke="#3a3a3a" stroke-width="0.8"/>
<text x="272.80" y="131.34" font-size="6.29" text-anchor="end" textLength="13.35" lengthAdjust="spacingAndGlyphs">0.18</text>
<line x1="274.80" y1="111.79" x2="277.0" y2="111.79" stroke="#3a3a3a" stroke-width="0.8"/>
<text x="272.80" y="114.08" font-size="6.29" text-anchor="end" textLength="13.35" lengthAdjust="spacingAndGlyphs">0.19</text>
<line x1="274.80" y1="94.53" x2="277.0" y2="94.53" stroke="#3a3a3a" stroke-width="0.8"/>
<text x="272.80" y="96.83" font-size="6.29" text-anchor="end" textLength="13.35" lengthAdjust="spacingAndGlyphs">0.20</text>
<line x1="274.80" y1="77.27" x2="277.0" y2="77.27" stroke="#3a3a3a" stroke-width="0.8"/>
<text x="272.80" y="79.57" font-size="6.29" text-anchor="end" textLength="13.35" lengthAdjust="spacingAndGlyphs">0.21</text>
<line x1="274.80" y1="60.01" x2="277.0" y2="60.01" stroke="#3a3a3a" stroke-width="0.8"/>
<text x="272.80" y="62.31" font-size="6.29" text-anchor="end" textLength="13.35" lengthAdjust="spacingAndGlyphs">0.22</text>
<line x1="274.80" y1="42.76" x2="277.0" y2="42.76" stroke="#3a3a3a" stroke-width="0.8"/>
<text x="272.80" y="45.05" font-size="6.29" text-anchor="end" textLength="13.35" lengthAdjust="spacingAndGlyphs">0.23</text>
<line x1="274.80" y1="25.50" x2="277.0" y2="25.50" stroke="#3a3a3a" stroke-width="0.8"/>
<text x="272.80" y="27.80" font-size="6.29" text-anchor="end" textLength="13.35" lengthAdjust="spacingAndGlyphs">0.24</text>
<g><text x="0" y="0" font-size="6.29" text-anchor="middle" textLength="90.19" lengthAdjust="spacingAndGlyphs" transform="translate(255.30,80.90) rotate(-90)">Objective (classification error)</text></g>
<rect x="417.26" y="18.40" width="58.34" height="72.13" rx="1.2" fill="#fff" fill-opacity="0.8" stroke="#ccc" stroke-opacity="0.8" stroke-width="0.7"/>
<line x1="419.66" y1="23.29" x2="431.65" y2="23.29" stroke="#ff0000" stroke-width="0.9" stroke-dasharray="3.3,1.45"/>
<path d="M424.25,21.69L427.35,23.29L424.25,24.89Z" fill="#ff0000"/>
<text x="436.44" y="25.49" font-size="6.29" text-anchor="start" textLength="36.72" lengthAdjust="spacingAndGlyphs">ELM-MS-AFS</text>
<line x1="419.66" y1="32.11" x2="431.65" y2="32.11" stroke="#0000ff" stroke-width="0.9"/>
<path d="M424.20,32.11a1.45,1.45 0 1,0 2.90,0a1.45,1.45 0 1,0 -2.90,0" fill="#0000ff"/>
<text x="436.44" y="34.31" font-size="6.29" text-anchor="start" textLength="26.62" lengthAdjust="spacingAndGlyphs">ELM-ABC</text>
<line x1="419.66" y1="40.93" x2="431.65" y2="40.93" stroke="#008000" stroke-width="0.9"/>
<path d="M424.20,40.93a1.45,1.45 0 1,0 2.90,0a1.45,1.45 0 1,0 -2.90,0" fill="#008000"/>
<text x="436.44" y="43.13" font-size="6.29" text-anchor="start" textLength="21.46" lengthAdjust="spacingAndGlyphs">ELM-FA</text>
<line x1="419.66" y1="49.76" x2="431.65" y2="49.76" stroke="#c000c0" stroke-width="0.9"/>
<path d="M424.20,49.76a1.45,1.45 0 1,0 2.90,0a1.45,1.45 0 1,0 -2.90,0" fill="#c000c0"/>
<text x="436.44" y="51.95" font-size="6.29" text-anchor="start" textLength="26.55" lengthAdjust="spacingAndGlyphs">ELM-SCA</text>
<line x1="419.66" y1="58.58" x2="431.65" y2="58.58" stroke="#daa520" stroke-width="0.9"/>
<path d="M424.55,58.58a1.10,1.10 0 1,0 2.20,0a1.10,1.10 0 1,0 -2.20,0" fill="#daa520"/>
<text x="436.44" y="60.77" font-size="6.29" text-anchor="start" textLength="22.46" lengthAdjust="spacingAndGlyphs">ELM-BA</text>
<line x1="419.66" y1="67.40" x2="431.65" y2="67.40" stroke="#5046aa" stroke-width="0.9"/>
<path d="M424.50,66.25h2.30v2.30h-2.30Z" fill="#5046aa"/>
<text x="436.44" y="69.60" font-size="6.29" text-anchor="start" textLength="28.19" lengthAdjust="spacingAndGlyphs">ELM-HHO</text>
<line x1="419.66" y1="76.22" x2="431.65" y2="76.22" stroke="#00ffff" stroke-width="0.9"/>
<path d="M424.20,76.22a1.45,1.45 0 1,0 2.90,0a1.45,1.45 0 1,0 -2.90,0" fill="#00ffff"/>
<text x="436.44" y="78.42" font-size="6.29" text-anchor="start" textLength="28.86" lengthAdjust="spacingAndGlyphs">ELM-WOA</text>
<line x1="419.66" y1="85.04" x2="431.65" y2="85.04" stroke="#00ff00" stroke-width="0.9"/>
<path d="M424.20,85.04a1.45,1.45 0 1,0 2.90,0a1.45,1.45 0 1,0 -2.90,0" fill="#00ff00"/>
<text x="436.44" y="87.24" font-size="6.29" text-anchor="start" textLength="26.87" lengthAdjust="spacingAndGlyphs">ELM-IWO</text>
<text x="619.50" y="12.10" font-size="8.20" text-anchor="middle" textLength="151.21" lengthAdjust="spacingAndGlyphs">Diabetes 90 neurons convergence graphs</text>
<clipPath id="c2"><rect x="518.6" y="15.4" width="201.80" height="131.00"/></clipPath>
<g clip-path="url(#c2)">
<polyline points="518.60,56.90 528.69,56.90 538.78,56.90 548.87,68.00 558.96,74.40 569.05,86.70 579.14,98.70 589.23,122.40 599.32,128.60 609.41,140.30 619.50,140.30 629.59,140.30 639.68,140.30 649.77,140.30 659.86,140.30 669.95,140.30 680.04,140.30 690.13,140.30 700.22,140.30 710.31,140.30 720.40,140.30" fill="none" stroke="#ff0000" stroke-width="0.9" stroke-dasharray="3.3,1.45"/>
<path d="M517.20,55.30L520.30,56.90L517.20,58.50ZM527.29,55.30L530.39,56.90L527.29,58.50ZM537.38,55.30L540.48,56.90L537.38,58.50ZM547.47,66.40L550.57,68.00L547.47,69.60ZM557.56,72.80L560.66,74.40L557.56,76.00ZM567.65,85.10L570.75,86.70L567.65,88.30ZM577.74,97.10L580.84,98.70L577.74,100.30ZM587.83,120.80L590.93,122.40L587.83,124.00ZM597.92,127.00L601.02,128.60L597.92,130.20ZM608.01,138.70L611.11,140.30L608.01,141.90ZM618.10,138.70L621.20,140.30L618.10,141.90ZM628.19,138.70L631.29,140.30L628.19,141.90ZM638.28,138.70L641.38,140.30L638.28,141.90ZM648.37,138.70L651.47,140.30L648.37,141.90ZM658.46,138.70L661.56,140.30L658.46,141.90ZM668.55,138.70L671.65,140.30L668.55,141.90ZM678.64,138.70L681.74,140.30L678.64,141.90ZM688.73,138.70L691.83,140.30L688.73,141.90ZM698.82,138.70L701.92,140.30L698.82,141.90ZM708.91,138.70L712.01,140.30L708.91,141.90ZM719.00,138.70L722.10,140.30L719.00,141.90Z" fill="#ff0000"/>
<polyline points="518.60,22.20 528.69,38.80 538.78,38.80 548.87,38.80 558.96,45.00 569.05,51.00 579.14,57.00 589.23,62.70 599.32,62.70 609.41,62.70 619.50,62.70 629.59,62.70 639.68,62.70 649.77,62.70 659.86,62.70 669.95,62.70 680.04,74.90 690.13,74.90 700.22,74.90 710.31,74.90 720.40,74.90" fill="none" stroke="#0000ff" stroke-width="0.9"/>
<path d="M517.15,22.20a1.45,1.45 0 1,0 2.90,0a1.45,1.45 0 1,0 -2.90,0M527.24,38.80a1.45,1.45 0 1,0 2.90,0a1.45,1.45 0 1,0 -2.90,0M537.33,38.80a1.45,1.45 0 1,0 2.90,0a1.45,1.45 0 1,0 -2.90,0M547.42,38.80a1.45,1.45 0 1,0 2.90,0a1.45,1.45 0 1,0 -2.90,0M557.51,45.00a1.45,1.45 0 1,0 2.90,0a1.45,1.45 0 1,0 -2.90,0M567.60,51.00a1.45,1.45 0 1,0 2.90,0a1.45,1.45 0 1,0 -2.90,0M577.69,57.00a1.45,1.45 0 1,0 2.90,0a1.45,1.45 0 1,0 -2.90,0M587.78,62.70a1.45,1.45 0 1,0 2.90,0a1.45,1.45 0 1,0 -2.90,0M597.87,62.70a1.45,1.45 0 1,0 2.90,0a1.45,1.45 0 1,0 -2.90,0M607.96,62.70a1.45,1.45 0 1,0 2.90,0a1.45,1.45 0 1,0 -2.90,0M618.05,62.70a1.45,1.45 0 1,0 2.90,0a1.45,1.45 0 1,0 -2.90,0M628.14,62.70a1.45,1.45 0 1,0 2.90,0a1.45,1.45 0 1,0 -2.90,0M638.23,62.70a1.45,1.45 0 1,0 2.90,0a1.45,1.45 0 1,0 -2.90,0M648.32,62.70a1.45,1.45 0 1,0 2.90,0a1.45,1.45 0 1,0 -2.90,0M658.41,62.70a1.45,1.45 0 1,0 2.90,0a1.45,1.45 0 1,0 -2.90,0M668.50,62.70a1.45,1.45 0 1,0 2.90,0a1.45,1.45 0 1,0 -2.90,0M678.59,74.90a1.45,1.45 0 1,0 2.90,0a1.45,1.45 0 1,0 -2.90,0M688.68,74.90a1.45,1.45 0 1,0 2.90,0a1.45,1.45 0 1,0 -2.90,0M698.77,74.90a1.45,1.45 0 1,0 2.90,0a1.45,1.45 0 1,0 -2.90,0M708.86,74.90a1.45,1.45 0 1,0 2.90,0a1.45,1.45 0 1,0 -2.90,0M718.95,74.90a1.45,1.45 0 1,0 2.90,0a1.45,1.45 0 1,0 -2.90,0" fill="#0000ff"/>
<polyline points="518.60,20.50 528.69,62.70 538.78,68.90 548.87,68.90 558.96,68.90 569.05,68.90 579.14,68.90 589.23,68.90 599.32,72.00 609.41,72.00 619.50,72.00 629.59,72.00 639.68,77.30 649.77,77.30 659.86,86.70 669.95,86.70 680.04,86.70 690.13,86.70 700.22,86.70 710.31,92.50 720.40,92.50" fill="none" stroke="#008000" stroke-width="0.9"/>
<path d="M517.15,20.50a1.45,1.45 0 1,0 2.90,0a1.45,1.45 0 1,0 -2.90,0M527.24,62.70a1.45,1.45 0 1,0 2.90,0a1.45,1.45 0 1,0 -2.90,0M537.33,68.90a1.45,1.45 0 1,0 2.90,0a1.45,1.45 0 1,0 -2.90,0M547.42,68.90a1.45,1.45 0 1,0 2.90,0a1.45,1.45 0 1,0 -2.90,0M557.51,68.90a1.45,1.45 0 1,0 2.90,0a1.45,1.45 0 1,0 -2.90,0M567.60,68.90a1.45,1.45 0 1,0 2.90,0a1.45,1.45 0 1,0 -2.90,0M577.69,68.90a1.45,1.45 0 1,0 2.90,0a1.45,1.45 0 1,0 -2.90,0M587.78,68.90a1.45,1.45 0 1,0 2.90,0a1.45,1.45 0 1,0 -2.90,0M597.87,72.00a1.45,1.45 0 1,0 2.90,0a1.45,1.45 0 1,0 -2.90,0M607.96,72.00a1.45,1.45 0 1,0 2.90,0a1.45,1.45 0 1,0 -2.90,0M618.05,72.00a1.45,1.45 0 1,0 2.90,0a1.45,1.45 0 1,0 -2.90,0M628.14,72.00a1.45,1.45 0 1,0 2.90,0a1.45,1.45 0 1,0 -2.90,0M638.23,77.30a1.45,1.45 0 1,0 2.90,0a1.45,1.45 0 1,0 -2.90,0M648.32,77.30a1.45,1.45 0 1,0 2.90,0a1.45,1.45 0 1,0 -2.90,0M658.41,86.70a1.45,1.45 0 1,0 2.90,0a1.45,1.45 0 1,0 -2.90,0M668.50,86.70a1.45,1.45 0 1,0 2.90,0a1.45,1.45 0 1,0 -2.90,0M678.59,86.70a1.45,1.45 0 1,0 2.90,0a1.45,1.45 0 1,0 -2.90,0M688.68,86.70a1.45,1.45 0 1,0 2.90,0a1.45,1.45 0 1,0 -2.90,0M698.77,86.70a1.45,1.45 0 1,0 2.90,0a1.45,1.45 0 1,0 -2.90,0M708.86,92.50a1.45,1.45 0 1,0 2.90,0a1.45,1.45 0 1,0 -2.90,0M718.95,92.50a1.45,1.45 0 1,0 2.90,0a1.45,1.45 0 1,0 -2.90,0" fill="#008000"/>
<polyline points="518.60,39.30 528.69,39.30 538.78,39.30 548.87,39.30 558.96,56.90 569.05,56.90 579.14,56.90 589.23,56.90 599.32,56.90 609.41,56.90 619.50,56.90 629.59,69.20 639.68,69.20 649.77,69.20 659.86,69.20 669.95,69.20 680.04,69.20 690.13,69.20 700.22,69.20 710.31,69.20 720.40,69.20" fill="none" stroke="#c000c0" stroke-width="0.9"/>
<path d="M517.15,39.30a1.45,1.45 0 1,0 2.90,0a1.45,1.45 0 1,0 -2.90,0M527.24,39.30a1.45,1.45 0 1,0 2.90,0a1.45,1.45 0 1,0 -2.90,0M537.33,39.30a1.45,1.45 0 1,0 2.90,0a1.45,1.45 0 1,0 -2.90,0M547.42,39.30a1.45,1.45 0 1,0 2.90,0a1.45,1.45 0 1,0 -2.90,0M557.51,56.90a1.45,1.45 0 1,0 2.90,0a1.45,1.45 0 1,0 -2.90,0M567.60,56.90a1.45,1.45 0 1,0 2.90,0a1.45,1.45 0 1,0 -2.90,0M577.69,56.90a1.45,1.45 0 1,0 2.90,0a1.45,1.45 0 1,0 -2.90,0M587.78,56.90a1.45,1.45 0 1,0 2.90,0a1.45,1.45 0 1,0 -2.90,0M597.87,56.90a1.45,1.45 0 1,0 2.90,0a1.45,1.45 0 1,0 -2.90,0M607.96,56.90a1.45,1.45 0 1,0 2.90,0a1.45,1.45 0 1,0 -2.90,0M618.05,56.90a1.45,1.45 0 1,0 2.90,0a1.45,1.45 0 1,0 -2.90,0M628.14,69.20a1.45,1.45 0 1,0 2.90,0a1.45,1.45 0 1,0 -2.90,0M638.23,69.20a1.45,1.45 0 1,0 2.90,0a1.45,1.45 0 1,0 -2.90,0M648.32,69.20a1.45,1.45 0 1,0 2.90,0a1.45,1.45 0 1,0 -2.90,0M658.41,69.20a1.45,1.45 0 1,0 2.90,0a1.45,1.45 0 1,0 -2.90,0M668.50,69.20a1.45,1.45 0 1,0 2.90,0a1.45,1.45 0 1,0 -2.90,0M678.59,69.20a1.45,1.45 0 1,0 2.90,0a1.45,1.45 0 1,0 -2.90,0M688.68,69.20a1.45,1.45 0 1,0 2.90,0a1.45,1.45 0 1,0 -2.90,0M698.77,69.20a1.45,1.45 0 1,0 2.90,0a1.45,1.45 0 1,0 -2.90,0M708.86,69.20a1.45,1.45 0 1,0 2.90,0a1.45,1.45 0 1,0 -2.90,0M718.95,69.20a1.45,1.45 0 1,0 2.90,0a1.45,1.45 0 1,0 -2.90,0" fill="#c000c0"/>
<polyline points="518.60,45.30 528.69,45.30 538.78,45.30 548.87,51.10 558.96,51.10 569.05,51.10 579.14,51.10 589.23,51.10 599.32,51.10 609.41,51.10 619.50,51.10 629.59,51.10 639.68,69.20 649.77,69.20 659.86,69.20 669.95,69.20 680.04,69.20 690.13,69.20 700.22,69.20 710.31,69.20 720.40,69.20" fill="none" stroke="#daa520" stroke-width="0.9"/>
<path d="M517.50,45.30a1.10,1.10 0 1,0 2.20,0a1.10,1.10 0 1,0 -2.20,0M527.59,45.30a1.10,1.10 0 1,0 2.20,0a1.10,1.10 0 1,0 -2.20,0M537.68,45.30a1.10,1.10 0 1,0 2.20,0a1.10,1.10 0 1,0 -2.20,0M547.77,51.10a1.10,1.10 0 1,0 2.20,0a1.10,1.10 0 1,0 -2.20,0M557.86,51.10a1.10,1.10 0 1,0 2.20,0a1.10,1.10 0 1,0 -2.20,0M567.95,51.10a1.10,1.10 0 1,0 2.20,0a1.10,1.10 0 1,0 -2.20,0M578.04,51.10a1.10,1.10 0 1,0 2.20,0a1.10,1.10 0 1,0 -2.20,0M588.13,51.10a1.10,1.10 0 1,0 2.20,0a1.10,1.10 0 1,0 -2.20,0M598.22,51.10a1.10,1.10 0 1,0 2.20,0a1.10,1.10 0 1,0 -2.20,0M608.31,51.10a1.10,1.10 0 1,0 2.20,0a1.10,1.10 0 1,0 -2.20,0M618.40,51.10a1.10,1.10 0 1,0 2.20,0a1.10,1.10 0 1,0 -2.20,0M628.49,51.10a1.10,1.10 0 1,0 2.20,0a1.10,1.10 0 1,0 -2.20,0M638.58,69.20a1.10,1.10 0 1,0 2.20,0a1.10,1.10 0 1,0 -2.20,0M648.67,69.20a1.10,1.10 0 1,0 2.20,0a1.10,1.10 0 1,0 -2.20,0M658.76,69.20a1.10,1.10 0 1,0 2.20,0a1.10,1.10 0 1,0 -2.20,0M668.85,69.20a1.10,1.10 0 1,0 2.20,0a1.10,1.10 0 1,0 -2.20,0M678.94,69.20a1.10,1.10 0 1,0 2.20,0a1.10,1.10 0 1,0 -2.20,0M689.03,69.20a1.10,1.10 0 1,0 2.20,0a1.10,1.10 0 1,0 -2.20,0M699.12,69.20a1.10,1.10 0 1,0 2.20,0a1.10,1.10 0 1,0 -2.20,0M709.21,69.20a1.10,1.10 0 1,0 2.20,0a1.10,1.10 0 1,0 -2.20,0M719.30,69.20a1.10,1.10 0 1,0 2.20,0a1.10,1.10 0 1,0 -2.20,0" fill="#daa520"/>
<polyline points="518.60,27.00 528.69,27.00 538.78,33.00 548.87,45.00 558.96,46.50 569.05,46.50 579.14,46.50 589.23,62.70 599.32,63.50 609.41,64.30 619.50,78.50 629.59,78.50 639.68,78.50 649.77,86.70 659.86,86.70 669.95,86.70 680.04,86.70 690.13,86.70 700.22,86.70 710.31,86.70 720.40,86.70" fill="none" stroke="#5046aa" stroke-width="0.9"/>
<path d="M517.45,25.85h2.30v2.30h-2.30ZM527.54,25.85h2.30v2.30h-2.30ZM537.63,31.85h2.30v2.30h-2.30ZM547.72,43.85h2.30v2.30h-2.30ZM557.81,45.35h2.30v2.30h-2.30ZM567.90,45.35h2.30v2.30h-2.30ZM577.99,45.35h2.30v2.30h-2.30ZM588.08,61.55h2.30v2.30h-2.30ZM598.17,62.35h2.30v2.30h-2.30ZM608.26,63.15h2.30v2.30h-2.30ZM618.35,77.35h2.30v2.30h-2.30ZM628.44,77.35h2.30v2.30h-2.30ZM638.53,77.35h2.30v2.30h-2.30ZM648.62,85.55h2.30v2.30h-2.30ZM658.71,85.55h2.30v2.30h-2.30ZM668.80,85.55h2.30v2.30h-2.30ZM678.89,85.55h2.30v2.30h-2.30ZM688.98,85.55h2.30v2.30h-2.30ZM699.07,85.55h2.30v2.30h-2.30ZM709.16,85.55h2.30v2.30h-2.30ZM719.25,85.55h2.30v2.30h-2.30Z" fill="#5046aa"/>
<polyline points="518.60,51.10 528.69,51.10 538.78,51.10 548.87,51.10 558.96,56.90 569.05,62.70 579.14,68.90 589.23,68.90 599.32,68.90 609.41,68.90 619.50,68.90 629.59,68.90 639.68,74.90 649.77,74.90 659.86,74.90 669.95,74.90 680.04,74.90 690.13,74.90 700.22,74.90 710.31,74.90 720.40,74.90" fill="none" stroke="#00ffff" stroke-width="0.9"/>
<path d="M517.15,51.10a1.45,1.45 0 1,0 2.90,0a1.45,1.45 0 1,0 -2.90,0M527.24,51.10a1.45,1.45 0 1,0 2.90,0a1.45,1.45 0 1,0 -2.90,0M537.33,51.10a1.45,1.45 0 1,0 2.90,0a1.45,1.45 0 1,0 -2.90,0M547.42,51.10a1.45,1.45 0 1,0 2.90,0a1.45,1.45 0 1,0 -2.90,0M557.51,56.90a1.45,1.45 0 1,0 2.90,0a1.45,1.45 0 1,0 -2.90,0M567.60,62.70a1.45,1.45 0 1,0 2.90,0a1.45,1.45 0 1,0 -2.90,0M577.69,68.90a1.45,1.45 0 1,0 2.90,0a1.45,1.45 0 1,0 -2.90,0M587.78,68.90a1.45,1.45 0 1,0 2.90,0a1.45,1.45 0 1,0 -2.90,0M597.87,68.90a1.45,1.45 0 1,0 2.90,0a1.45,1.45 0 1,0 -2.90,0M607.96,68.90a1.45,1.45 0 1,0 2.90,0a1.45,1.45 0 1,0 -2.90,0M618.05,68.90a1.45,1.45 0 1,0 2.90,0a1.45,1.45 0 1,0 -2.90,0M628.14,68.90a1.45,1.45 0 1,0 2.90,0a1.45,1.45 0 1,0 -2.90,0M638.23,74.90a1.45,1.45 0 1,0 2.90,0a1.45,1.45 0 1,0 -2.90,0M648.32,74.90a1.45,1.45 0 1,0 2.90,0a1.45,1.45 0 1,0 -2.90,0M658.41,74.90a1.45,1.45 0 1,0 2.90,0a1.45,1.45 0 1,0 -2.90,0M668.50,74.90a1.45,1.45 0 1,0 2.90,0a1.45,1.45 0 1,0 -2.90,0M678.59,74.90a1.45,1.45 0 1,0 2.90,0a1.45,1.45 0 1,0 -2.90,0M688.68,74.90a1.45,1.45 0 1,0 2.90,0a1.45,1.45 0 1,0 -2.90,0M698.77,74.90a1.45,1.45 0 1,0 2.90,0a1.45,1.45 0 1,0 -2.90,0M708.86,74.90a1.45,1.45 0 1,0 2.90,0a1.45,1.45 0 1,0 -2.90,0M718.95,74.90a1.45,1.45 0 1,0 2.90,0a1.45,1.45 0 1,0 -2.90,0" fill="#00ffff"/>
<polyline points="518.60,45.30 528.69,56.90 538.78,56.90 548.87,56.90 558.96,56.90 569.05,56.90 579.14,56.90 589.23,56.90 599.32,56.90 609.41,62.70 619.50,62.70 629.59,62.70 639.68,62.70 649.77,62.70 659.86,67.00 669.95,71.00 680.04,75.00 690.13,78.00 700.22,80.00 710.31,81.00 720.40,81.00" fill="none" stroke="#00ff00" stroke-width="0.9"/>
<path d="M517.15,45.30a1.45,1.45 0 1,0 2.90,0a1.45,1.45 0 1,0 -2.90,0M527.24,56.90a1.45,1.45 0 1,0 2.90,0a1.45,1.45 0 1,0 -2.90,0M537.33,56.90a1.45,1.45 0 1,0 2.90,0a1.45,1.45 0 1,0 -2.90,0M547.42,56.90a1.45,1.45 0 1,0 2.90,0a1.45,1.45 0 1,0 -2.90,0M557.51,56.90a1.45,1.45 0 1,0 2.90,0a1.45,1.45 0 1,0 -2.90,0M567.60,56.90a1.45,1.45 0 1,0 2.90,0a1.45,1.45 0 1,0 -2.90,0M577.69,56.90a1.45,1.45 0 1,0 2.90,0a1.45,1.45 0 1,0 -2.90,0M587.78,56.90a1.45,1.45 0 1,0 2.90,0a1.45,1.45 0 1,0 -2.90,0M597.87,56.90a1.45,1.45 0 1,0 2.90,0a1.45,1.45 0 1,0 -2.90,0M607.96,62.70a1.45,1.45 0 1,0 2.90,0a1.45,1.45 0 1,0 -2.90,0M618.05,62.70a1.45,1.45 0 1,0 2.90,0a1.45,1.45 0 1,0 -2.90,0M628.14,62.70a1.45,1.45 0 1,0 2.90,0a1.45,1.45 0 1,0 -2.90,0M638.23,62.70a1.45,1.45 0 1,0 2.90,0a1.45,1.45 0 1,0 -2.90,0M648.32,62.70a1.45,1.45 0 1,0 2.90,0a1.45,1.45 0 1,0 -2.90,0M658.41,67.00a1.45,1.45 0 1,0 2.90,0a1.45,1.45 0 1,0 -2.90,0M668.50,71.00a1.45,1.45 0 1,0 2.90,0a1.45,1.45 0 1,0 -2.90,0M678.59,75.00a1.45,1.45 0 1,0 2.90,0a1.45,1.45 0 1,0 -2.90,0M688.68,78.00a1.45,1.45 0 1,0 2.90,0a1.45,1.45 0 1,0 -2.90,0M698.77,80.00a1.45,1.45 0 1,0 2.90,0a1.45,1.45 0 1,0 -2.90,0M708.86,81.00a1.45,1.45 0 1,0 2.90,0a1.45,1.45 0 1,0 -2.90,0M718.95,81.00a1.45,1.45 0 1,0 2.90,0a1.45,1.45 0 1,0 -2.90,0" fill="#00ff00"/>
</g>
<rect x="518.6" y="15.4" width="201.80" height="131.00" fill="none" stroke="#3a3a3a" stroke-width="0.9"/>
<line x1="518.60" y1="146.4" x2="518.60" y2="148.60" stroke="#3a3a3a" stroke-width="0.8"/>
<text x="518.60" y="156.00" font-size="6.30" text-anchor="middle" textLength="9.54" lengthAdjust="spacingAndGlyphs">0.0</text>
<line x1="543.83" y1="146.4" x2="543.83" y2="148.60" stroke="#3a3a3a" stroke-width="0.8"/>
<text x="543.83" y="156.00" font-size="6.30" text-anchor="middle" textLength="9.54" lengthAdjust="spacingAndGlyphs">2.5</text>
<line x1="569.05" y1="146.4" x2="569.05" y2="148.60" stroke="#3a3a3a" stroke-width="0.8"/>
<text x="569.05" y="156.00" font-size="6.30" text-anchor="middle" textLength="9.54" lengthAdjust="spacingAndGlyphs">5.0</text>
<line x1="594.27" y1="146.4" x2="594.27" y2="148.60" stroke="#3a3a3a" stroke-width="0.8"/>
<text x="594.27" y="156.00" font-size="6.30" text-anchor="middle" textLength="9.54" lengthAdjust="spacingAndGlyphs">7.5</text>
<line x1="619.50" y1="146.4" x2="619.50" y2="148.60" stroke="#3a3a3a" stroke-width="0.8"/>
<text x="619.50" y="156.00" font-size="6.30" text-anchor="middle" textLength="13.36" lengthAdjust="spacingAndGlyphs">10.0</text>
<line x1="644.73" y1="146.4" x2="644.73" y2="148.60" stroke="#3a3a3a" stroke-width="0.8"/>
<text x="644.73" y="156.00" font-size="6.30" text-anchor="middle" textLength="13.36" lengthAdjust="spacingAndGlyphs">12.5</text>
<line x1="669.95" y1="146.4" x2="669.95" y2="148.60" stroke="#3a3a3a" stroke-width="0.8"/>
<text x="669.95" y="156.00" font-size="6.30" text-anchor="middle" textLength="13.36" lengthAdjust="spacingAndGlyphs">15.0</text>
<line x1="695.17" y1="146.4" x2="695.17" y2="148.60" stroke="#3a3a3a" stroke-width="0.8"/>
<text x="695.17" y="156.00" font-size="6.30" text-anchor="middle" textLength="13.36" lengthAdjust="spacingAndGlyphs">17.5</text>
<line x1="720.40" y1="146.4" x2="720.40" y2="148.60" stroke="#3a3a3a" stroke-width="0.8"/>
<text x="720.40" y="156.00" font-size="6.30" text-anchor="middle" textLength="13.36" lengthAdjust="spacingAndGlyphs">20.0</text>
<text x="619.50" y="163.60" font-size="6.30" text-anchor="middle" textLength="28.58" lengthAdjust="spacingAndGlyphs">Iterations</text>
<line x1="516.40" y1="134.50" x2="518.6" y2="134.50" stroke="#3a3a3a" stroke-width="0.8"/>
<text x="514.40" y="136.80" font-size="6.30" text-anchor="end" textLength="13.36" lengthAdjust="spacingAndGlyphs">0.16</text>
<line x1="516.40" y1="107.00" x2="518.6" y2="107.00" stroke="#3a3a3a" stroke-width="0.8"/>
<text x="514.40" y="109.30" font-size="6.30" text-anchor="end" textLength="13.36" lengthAdjust="spacingAndGlyphs">0.18</text>
<line x1="516.40" y1="79.50" x2="518.6" y2="79.50" stroke="#3a3a3a" stroke-width="0.8"/>
<text x="514.40" y="81.80" font-size="6.30" text-anchor="end" textLength="13.36" lengthAdjust="spacingAndGlyphs">0.20</text>
<line x1="516.40" y1="52.00" x2="518.6" y2="52.00" stroke="#3a3a3a" stroke-width="0.8"/>
<text x="514.40" y="54.30" font-size="6.30" text-anchor="end" textLength="13.36" lengthAdjust="spacingAndGlyphs">0.22</text>
<line x1="516.40" y1="24.50" x2="518.6" y2="24.50" stroke="#3a3a3a" stroke-width="0.8"/>
<text x="514.40" y="26.80" font-size="6.30" text-anchor="end" textLength="13.36" lengthAdjust="spacingAndGlyphs">0.24</text>
<g><text x="0" y="0" font-size="6.30" text-anchor="middle" textLength="90.28" lengthAdjust="spacingAndGlyphs" transform="translate(497.10,80.90) rotate(-90)">Objective (classification error)</text></g>
<rect x="659.00" y="18.40" width="58.40" height="72.20" rx="1.2" fill="#fff" fill-opacity="0.8" stroke="#ccc" stroke-opacity="0.8" stroke-width="0.7"/>
<line x1="661.40" y1="23.30" x2="673.40" y2="23.30" stroke="#ff0000" stroke-width="0.9" stroke-dasharray="3.3,1.45"/>
<path d="M666.00,21.70L669.10,23.30L666.00,24.90Z" fill="#ff0000"/>
<text x="678.20" y="25.50" font-size="6.30" text-anchor="start" textLength="36.75" lengthAdjust="spacingAndGlyphs">ELM-MS-AFS</text>
<line x1="661.40" y1="32.13" x2="673.40" y2="32.13" stroke="#0000ff" stroke-width="0.9"/>
<path d="M665.95,32.13a1.45,1.45 0 1,0 2.90,0a1.45,1.45 0 1,0 -2.90,0" fill="#0000ff"/>
<text x="678.20" y="34.33" font-size="6.30" text-anchor="start" textLength="26.65" lengthAdjust="spacingAndGlyphs">ELM-ABC</text>
<line x1="661.40" y1="40.96" x2="673.40" y2="40.96" stroke="#008000" stroke-width="0.9"/>
<path d="M665.95,40.96a1.45,1.45 0 1,0 2.90,0a1.45,1.45 0 1,0 -2.90,0" fill="#008000"/>
<text x="678.20" y="43.16" font-size="6.30" text-anchor="start" textLength="21.48" lengthAdjust="spacingAndGlyphs">ELM-FA</text>
<line x1="661.40" y1="49.79" x2="673.40" y2="49.79" stroke="#c000c0" stroke-width="0.9"/>
<path d="M665.95,49.79a1.45,1.45 0 1,0 2.90,0a1.45,1.45 0 1,0 -2.90,0" fill="#c000c0"/>
<text x="678.20" y="51.99" font-size="6.30" text-anchor="start" textLength="26.58" lengthAdjust="spacingAndGlyphs">ELM-SCA</text>
<line x1="661.40" y1="58.62" x2="673.40" y2="58.62" stroke="#daa520" stroke-width="0.9"/>
<path d="M666.30,58.62a1.10,1.10 0 1,0 2.20,0a1.10,1.10 0 1,0 -2.20,0" fill="#daa520"/>
<text x="678.20" y="60.82" font-size="6.30" text-anchor="start" textLength="22.48" lengthAdjust="spacingAndGlyphs">ELM-BA</text>
<line x1="661.40" y1="67.45" x2="673.40" y2="67.45" stroke="#5046aa" stroke-width="0.9"/>
<path d="M666.25,66.30h2.30v2.30h-2.30Z" fill="#5046aa"/>
<text x="678.20" y="69.65" font-size="6.30" text-anchor="start" textLength="28.22" lengthAdjust="spacingAndGlyphs">ELM-HHO</text>
<line x1="661.40" y1="76.28" x2="673.40" y2="76.28" stroke="#00ffff" stroke-width="0.9"/>
<path d="M665.95,76.28a1.45,1.45 0 1,0 2.90,0a1.45,1.45 0 1,0 -2.90,0" fill="#00ffff"/>
<text x="678.20" y="78.48" font-size="6.30" text-anchor="start" textLength="28.89" lengthAdjust="spacingAndGlyphs">ELM-WOA</text>
<line x1="661.40" y1="85.11" x2="673.40" y2="85.11" stroke="#00ff00" stroke-width="0.9"/>
<path d="M665.95,85.11a1.45,1.45 0 1,0 2.90,0a1.45,1.45 0 1,0 -2.90,0" fill="#00ff00"/>
<text x="678.20" y="87.31" font-size="6.30" text-anchor="start" textLength="26.90" lengthAdjust="spacingAndGlyphs">ELM-IWO</text>
<text x="136.40" y="175.50" font-size="8.19" text-anchor="middle" textLength="169.81" lengthAdjust="spacingAndGlyphs">Heart Disease 30 neurons convergence graphs</text>
<clipPath id="c3"><rect x="35.6" y="178.8" width="201.60" height="131.40"/></clipPath>
<g clip-path="url(#c3)">
<polyline points="35.60,235.10 45.68,266.40 55.76,266.40 65.84,285.20 75.92,285.20 86.00,304.10 96.08,304.10 106.16,304.10 116.24,304.10 126.32,304.10 136.40,304.10 146.48,304.10 156.56,304.10 166.64,304.10 176.72,304.10 186.80,304.10 196.88,304.10 206.96,304.10 217.04,304.10 227.12,304.10 237.20,304.10" fill="none" stroke="#ff0000" stroke-width="0.9" stroke-dasharray="3.3,1.45"/>
<path d="M34.20,233.50L37.30,235.10L34.20,236.70ZM44.28,264.80L47.38,266.40L44.28,268.00ZM54.36,264.80L57.46,266.40L54.36,268.00ZM64.44,283.60L67.54,285.20L64.44,286.80ZM74.52,283.60L77.62,285.20L74.52,286.80ZM84.60,302.50L87.70,304.10L84.60,305.70ZM94.68,302.50L97.78,304.10L94.68,305.70ZM104.76,302.50L107.86,304.10L104.76,305.70ZM114.84,302.50L117.94,304.10L114.84,305.70ZM124.92,302.50L128.02,304.10L124.92,305.70ZM135.00,302.50L138.10,304.10L135.00,305.70ZM145.08,302.50L148.18,304.10L145.08,305.70ZM155.16,302.50L158.26,304.10L155.16,305.70ZM165.24,302.50L168.34,304.10L165.24,305.70ZM175.32,302.50L178.42,304.10L175.32,305.70ZM185.40,302.50L188.50,304.10L185.40,305.70ZM195.48,302.50L198.58,304.10L195.48,305.70ZM205.56,302.50L208.66,304.10L205.56,305.70ZM215.64,302.50L218.74,304.10L215.64,305.70ZM225.72,302.50L228.82,304.10L225.72,305.70ZM235.80,302.50L238.90,304.10L235.80,305.70Z" fill="#ff0000"/>
<polyline points="35.60,228.50 45.68,228.50 55.76,228.50 65.84,228.50 75.92,266.40 86.00,266.40 96.08,266.40 106.16,266.40 116.24,266.40 126.32,266.40 136.40,266.40 146.48,266.40 156.56,266.40 166.64,266.40 176.72,266.40 186.80,266.40 196.88,266.40 206.96,266.40 217.04,266.40 227.12,266.40 237.20,266.40" fill="none" stroke="#0000ff" stroke-width="0.9"/>
<path d="M34.15,228.50a1.45,1.45 0 1,0 2.90,0a1.45,1.45 0 1,0 -2.90,0M44.23,228.50a1.45,1.45 0 1,0 2.90,0a1.45,1.45 0 1,0 -2.90,0M54.31,228.50a1.45,1.45 0 1,0 2.90,0a1.45,1.45 0 1,0 -2.90,0M64.39,228.50a1.45,1.45 0 1,0 2.90,0a1.45,1.45 0 1,0 -2.90,0M74.47,266.40a1.45,1.45 0 1,0 2.90,0a1.45,1.45 0 1,0 -2.90,0M84.55,266.40a1.45,1.45 0 1,0 2.90,0a1.45,1.45 0 1,0 -2.90,0M94.63,266.40a1.45,1.45 0 1,0 2.90,0a1.45,1.45 0 1,0 -2.90,0M104.71,266.40a1.45,1.45 0 1,0 2.90,0a1.45,1.45 0 1,0 -2.90,0M114.79,266.40a1.45,1.45 0 1,0 2.90,0a1.45,1.45 0 1,0 -2.90,0M124.87,266.40a1.45,1.45 0 1,0 2.90,0a1.45,1.45 0 1,0 -2.90,0M134.95,266.40a1.45,1.45 0 1,0 2.90,0a1.45,1.45 0 1,0 -2.90,0M145.03,266.40a1.45,1.45 0 1,0 2.90,0a1.45,1.45 0 1,0 -2.90,0M155.11,266.40a1.45,1.45 0 1,0 2.90,0a1.45,1.45 0 1,0 -2.90,0M165.19,266.40a1.45,1.45 0 1,0 2.90,0a1.45,1.45 0 1,0 -2.90,0M175.27,266.40a1.45,1.45 0 1,0 2.90,0a1.45,1.45 0 1,0 -2.90,0M185.35,266.40a1.45,1.45 0 1,0 2.90,0a1.45,1.45 0 1,0 -2.90,0M195.43,266.40a1.45,1.45 0 1,0 2.90,0a1.45,1.45 0 1,0 -2.90,0M205.51,266.40a1.45,1.45 0 1,0 2.90,0a1.45,1.45 0 1,0 -2.90,0M215.59,266.40a1.45,1.45 0 1,0 2.90,0a1.45,1.45 0 1,0 -2.90,0M225.67,266.40a1.45,1.45 0 1,0 2.90,0a1.45,1.45 0 1,0 -2.90,0M235.75,266.40a1.45,1.45 0 1,0 2.90,0a1.45,1.45 0 1,0 -2.90,0" fill="#0000ff"/>
<polyline points="35.60,191.00 45.68,191.00 55.76,191.00 65.84,192.70 75.92,192.70 86.00,192.70 96.08,192.70 106.16,192.70 116.24,192.70 126.32,192.70 136.40,192.70 146.48,209.80 156.56,241.30 166.64,241.30 176.72,247.40 186.80,250.00 196.88,250.00 206.96,250.00 217.04,250.00 227.12,253.90 237.20,253.90" fill="none" stroke="#008000" stroke-width="0.9"/>
<path d="M34.15,191.00a1.45,1.45 0 1,0 2.90,0a1.45,1.45 0 1,0 -2.90,0M44.23,191.00a1.45,1.45 0 1,0 2.90,0a1.45,1.45 0 1,0 -2.90,0M54.31,191.00a1.45,1.45 0 1,0 2.90,0a1.45,1.45 0 1,0 -2.90,0M64.39,192.70a1.45,1.45 0 1,0 2.90,0a1.45,1.45 0 1,0 -2.90,0M74.47,192.70a1.45,1.45 0 1,0 2.90,0a1.45,1.45 0 1,0 -2.90,0M84.55,192.70a1.45,1.45 0 1,0 2.90,0a1.45,1.45 0 1,0 -2.90,0M94.63,192.70a1.45,1.45 0 1,0 2.90,0a1.45,1.45 0 1,0 -2.90,0M104.71,192.70a1.45,1.45 0 1,0 2.90,0a1.45,1.45 0 1,0 -2.90,0M114.79,192.70a1.45,1.45 0 1,0 2.90,0a1.45,1.45 0 1,0 -2.90,0M124.87,192.70a1.45,1.45 0 1,0 2.90,0a1.45,1.45 0 1,0 -2.90,0M134.95,192.70a1.45,1.45 0 1,0 2.90,0a1.45,1.45 0 1,0 -2.90,0M145.03,209.80a1.45,1.45 0 1,0 2.90,0a1.45,1.45 0 1,0 -2.90,0M155.11,241.30a1.45,1.45 0 1,0 2.90,0a1.45,1.45 0 1,0 -2.90,0M165.19,241.30a1.45,1.45 0 1,0 2.90,0a1.45,1.45 0 1,0 -2.90,0M175.27,247.40a1.45,1.45 0 1,0 2.90,0a1.45,1.45 0 1,0 -2.90,0M185.35,250.00a1.45,1.45 0 1,0 2.90,0a1.45,1.45 0 1,0 -2.90,0M195.43,250.00a1.45,1.45 0 1,0 2.90,0a1.45,1.45 0 1,0 -2.90,0M205.51,250.00a1.45,1.45 0 1,0 2.90,0a1.45,1.45 0 1,0 -2.90,0M215.59,250.00a1.45,1.45 0 1,0 2.90,0a1.45,1.45 0 1,0 -2.90,0M225.67,253.90a1.45,1.45 0 1,0 2.90,0a1.45,1.45 0 1,0 -2.90,0M235.75,253.90a1.45,1.45 0 1,0 2.90,0a1.45,1.45 0 1,0 -2.90,0" fill="#008000"/>
<polyline points="35.60,209.80 45.68,209.80 55.76,209.80 65.84,209.80 75.92,216.30 86.00,216.30 96.08,216.30 106.16,228.50 116.24,228.50 126.32,228.50 136.40,228.50 146.48,228.50 156.56,228.50 166.64,228.50 176.72,228.50 186.80,235.10 196.88,240.00 206.96,247.00 217.04,253.90 227.12,253.90 237.20,253.90" fill="none" stroke="#c000c0" stroke-width="0.9"/>
<path d="M34.15,209.80a1.45,1.45 0 1,0 2.90,0a1.45,1.45 0 1,0 -2.90,0M44.23,209.80a1.45,1.45 0 1,0 2.90,0a1.45,1.45 0 1,0 -2.90,0M54.31,209.80a1.45,1.45 0 1,0 2.90,0a1.45,1.45 0 1,0 -2.90,0M64.39,209.80a1.45,1.45 0 1,0 2.90,0a1.45,1.45 0 1,0 -2.90,0M74.47,216.30a1.45,1.45 0 1,0 2.90,0a1.45,1.45 0 1,0 -2.90,0M84.55,216.30a1.45,1.45 0 1,0 2.90,0a1.45,1.45 0 1,0 -2.90,0M94.63,216.30a1.45,1.45 0 1,0 2.90,0a1.45,1.45 0 1,0 -2.90,0M104.71,228.50a1.45,1.45 0 1,0 2.90,0a1.45,1.45 0 1,0 -2.90,0M114.79,228.50a1.45,1.45 0 1,0 2.90,0a1.45,1.45 0 1,0 -2.90,0M124.87,228.50a1.45,1.45 0 1,0 2.90,0a1.45,1.45 0 1,0 -2.90,0M134.95,228.50a1.45,1.45 0 1,0 2.90,0a1.45,1.45 0 1,0 -2.90,0M145.03,228.50a1.45,1.45 0 1,0 2.90,0a1.45,1.45 0 1,0 -2.90,0M155.11,228.50a1.45,1.45 0 1,0 2.90,0a1.45,1.45 0 1,0 -2.90,0M165.19,228.50a1.45,1.45 0 1,0 2.90,0a1.45,1.45 0 1,0 -2.90,0M175.27,228.50a1.45,1.45 0 1,0 2.90,0a1.45,1.45 0 1,0 -2.90,0M185.35,235.10a1.45,1.45 0 1,0 2.90,0a1.45,1.45 0 1,0 -2.90,0M195.43,240.00a1.45,1.45 0 1,0 2.90,0a1.45,1.45 0 1,0 -2.90,0M205.51,247.00a1.45,1.45 0 1,0 2.90,0a1.45,1.45 0 1,0 -2.90,0M215.59,253.90a1.45,1.45 0 1,0 2.90,0a1.45,1.45 0 1,0 -2.90,0M225.67,253.90a1.45,1.45 0 1,0 2.90,0a1.45,1.45 0 1,0 -2.90,0M235.75,253.90a1.45,1.45 0 1,0 2.90,0a1.45,1.45 0 1,0 -2.90,0" fill="#c000c0"/>
<polyline points="35.60,203.60 45.68,203.60 55.76,203.60 65.84,203.60 75.92,203.60 86.00,203.60 96.08,203.60 106.16,203.60 116.24,203.60 126.32,203.60 136.40,216.30 146.48,216.30 156.56,216.30 166.64,216.30 176.72,216.30 186.80,216.30 196.88,216.30 206.96,222.50 217.04,222.50 227.12,222.50 237.20,222.50" fill="none" stroke="#daa520" stroke-width="0.9"/>
<path d="M34.50,203.60a1.10,1.10 0 1,0 2.20,0a1.10,1.10 0 1,0 -2.20,0M44.58,203.60a1.10,1.10 0 1,0 2.20,0a1.10,1.10 0 1,0 -2.20,0M54.66,203.60a1.10,1.10 0 1,0 2.20,0a1.10,1.10 0 1,0 -2.20,0M64.74,203.60a1.10,1.10 0 1,0 2.20,0a1.10,1.10 0 1,0 -2.20,0M74.82,203.60a1.10,1.10 0 1,0 2.20,0a1.10,1.10 0 1,0 -2.20,0M84.90,203.60a1.10,1.10 0 1,0 2.20,0a1.10,1.10 0 1,0 -2.20,0M94.98,203.60a1.10,1.10 0 1,0 2.20,0a1.10,1.10 0 1,0 -2.20,0M105.06,203.60a1.10,1.10 0 1,0 2.20,0a1.10,1.10 0 1,0 -2.20,0M115.14,203.60a1.10,1.10 0 1,0 2.20,0a1.10,1.10 0 1,0 -2.20,0M125.22,203.60a1.10,1.10 0 1,0 2.20,0a1.10,1.10 0 1,0 -2.20,0M135.30,216.30a1.10,1.10 0 1,0 2.20,0a1.10,1.10 0 1,0 -2.20,0M145.38,216.30a1.10,1.10 0 1,0 2.20,0a1.10,1.10 0 1,0 -2.20,0M155.46,216.30a1.10,1.10 0 1,0 2.20,0a1.10,1.10 0 1,0 -2.20,0M165.54,216.30a1.10,1.10 0 1,0 2.20,0a1.10,1.10 0 1,0 -2.20,0M175.62,216.30a1.10,1.10 0 1,0 2.20,0a1.10,1.10 0 1,0 -2.20,0M185.70,216.30a1.10,1.10 0 1,0 2.20,0a1.10,1.10 0 1,0 -2.20,0M195.78,216.30a1.10,1.10 0 1,0 2.20,0a1.10,1.10 0 1,0 -2.20,0M205.86,222.50a1.10,1.10 0 1,0 2.20,0a1.10,1.10 0 1,0 -2.20,0M215.94,222.50a1.10,1.10 0 1,0 2.20,0a1.10,1.10 0 1,0 -2.20,0M226.02,222.50a1.10,1.10 0 1,0 2.20,0a1.10,1.10 0 1,0 -2.20,0M236.10,222.50a1.10,1.10 0 1,0 2.20,0a1.10,1.10 0 1,0 -2.20,0" fill="#daa520"/>
<polyline points="35.60,205.00 45.68,241.20 55.76,241.20 65.84,241.20 75.92,241.20 86.00,241.20 96.08,241.20 106.16,241.20 116.24,241.20 126.32,241.20 136.40,241.20 146.48,241.20 156.56,241.20 166.64,241.20 176.72,241.20 186.80,241.20 196.88,241.20 206.96,241.20 217.04,241.20 227.12,241.20 237.20,241.20" fill="none" stroke="#5046aa" stroke-width="0.9"/>
<path d="M34.45,203.85h2.30v2.30h-2.30ZM44.53,240.05h2.30v2.30h-2.30ZM54.61,240.05h2.30v2.30h-2.30ZM64.69,240.05h2.30v2.30h-2.30ZM74.77,240.05h2.30v2.30h-2.30ZM84.85,240.05h2.30v2.30h-2.30ZM94.93,240.05h2.30v2.30h-2.30ZM105.01,240.05h2.30v2.30h-2.30ZM115.09,240.05h2.30v2.30h-2.30ZM125.17,240.05h2.30v2.30h-2.30ZM135.25,240.05h2.30v2.30h-2.30ZM145.33,240.05h2.30v2.30h-2.30ZM155.41,240.05h2.30v2.30h-2.30ZM165.49,240.05h2.30v2.30h-2.30ZM175.57,240.05h2.30v2.30h-2.30ZM185.65,240.05h2.30v2.30h-2.30ZM195.73,240.05h2.30v2.30h-2.30ZM205.81,240.05h2.30v2.30h-2.30ZM215.89,240.05h2.30v2.30h-2.30ZM225.97,240.05h2.30v2.30h-2.30ZM236.05,240.05h2.30v2.30h-2.30Z" fill="#5046aa"/>
<polyline points="35.60,196.80 45.68,222.80 55.76,228.50 65.84,241.20 75.92,241.20 86.00,241.20 96.08,241.20 106.16,241.20 116.24,241.20 126.32,241.20 136.40,241.20 146.48,241.20 156.56,241.20 166.64,241.20 176.72,241.20 186.80,241.20 196.88,241.20 206.96,247.40 217.04,247.40 227.12,247.40 237.20,247.40" fill="none" stroke="#00ffff" stroke-width="0.9"/>
<path d="M34.15,196.80a1.45,1.45 0 1,0 2.90,0a1.45,1.45 0 1,0 -2.90,0M44.23,222.80a1.45,1.45 0 1,0 2.90,0a1.45,1.45 0 1,0 -2.90,0M54.31,228.50a1.45,1.45 0 1,0 2.90,0a1.45,1.45 0 1,0 -2.90,0M64.39,241.20a1.45,1.45 0 1,0 2.90,0a1.45,1.45 0 1,0 -2.90,0M74.47,241.20a1.45,1.45 0 1,0 2.90,0a1.45,1.45 0 1,0 -2.90,0M84.55,241.20a1.45,1.45 0 1,0 2.90,0a1.45,1.45 0 1,0 -2.90,0M94.63,241.20a1.45,1.45 0 1,0 2.90,0a1.45,1.45 0 1,0 -2.90,0M104.71,241.20a1.45,1.45 0 1,0 2.90,0a1.45,1.45 0 1,0 -2.90,0M114.79,241.20a1.45,1.45 0 1,0 2.90,0a1.45,1.45 0 1,0 -2.90,0M124.87,241.20a1.45,1.45 0 1,0 2.90,0a1.45,1.45 0 1,0 -2.90,0M134.95,241.20a1.45,1.45 0 1,0 2.90,0a1.45,1.45 0 1,0 -2.90,0M145.03,241.20a1.45,1.45 0 1,0 2.90,0a1.45,1.45 0 1,0 -2.90,0M155.11,241.20a1.45,1.45 0 1,0 2.90,0a1.45,1.45 0 1,0 -2.90,0M165.19,241.20a1.45,1.45 0 1,0 2.90,0a1.45,1.45 0 1,0 -2.90,0M175.27,241.20a1.45,1.45 0 1,0 2.90,0a1.45,1.45 0 1,0 -2.90,0M185.35,241.20a1.45,1.45 0 1,0 2.90,0a1.45,1.45 0 1,0 -2.90,0M195.43,241.20a1.45,1.45 0 1,0 2.90,0a1.45,1.45 0 1,0 -2.90,0M205.51,247.40a1.45,1.45 0 1,0 2.90,0a1.45,1.45 0 1,0 -2.90,0M215.59,247.40a1.45,1.45 0 1,0 2.90,0a1.45,1.45 0 1,0 -2.90,0M225.67,247.40a1.45,1.45 0 1,0 2.90,0a1.45,1.45 0 1,0 -2.90,0M235.75,247.40a1.45,1.45 0 1,0 2.90,0a1.45,1.45 0 1,0 -2.90,0" fill="#00ffff"/>
<polyline points="35.60,184.50 45.68,191.00 55.76,191.00 65.84,191.70 75.92,191.00 86.00,222.50 96.08,222.50 106.16,222.50 116.24,222.50 126.32,222.50 136.40,222.50 146.48,222.50 156.56,222.50 166.64,222.50 176.72,222.50 186.80,222.50 196.88,222.50 206.96,235.00 217.04,245.00 227.12,253.90 237.20,253.90" fill="none" stroke="#00ff00" stroke-width="0.9"/>
<path d="M34.15,184.50a1.45,1.45 0 1,0 2.90,0a1.45,1.45 0 1,0 -2.90,0M44.23,191.00a1.45,1.45 0 1,0 2.90,0a1.45,1.45 0 1,0 -2.90,0M54.31,191.00a1.45,1.45 0 1,0 2.90,0a1.45,1.45 0 1,0 -2.90,0M64.39,191.70a1.45,1.45 0 1,0 2.90,0a1.45,1.45 0 1,0 -2.90,0M74.47,191.00a1.45,1.45 0 1,0 2.90,0a1.45,1.45 0 1,0 -2.90,0M84.55,222.50a1.45,1.45 0 1,0 2.90,0a1.45,1.45 0 1,0 -2.90,0M94.63,222.50a1.45,1.45 0 1,0 2.90,0a1.45,1.45 0 1,0 -2.90,0M104.71,222.50a1.45,1.45 0 1,0 2.90,0a1.45,1.45 0 1,0 -2.90,0M114.79,222.50a1.45,1.45 0 1,0 2.90,0a1.45,1.45 0 1,0 -2.90,0M124.87,222.50a1.45,1.45 0 1,0 2.90,0a1.45,1.45 0 1,0 -2.90,0M134.95,222.50a1.45,1.45 0 1,0 2.90,0a1.45,1.45 0 1,0 -2.90,0M145.03,222.50a1.45,1.45 0 1,0 2.90,0a1.45,1.45 0 1,0 -2.90,0M155.11,222.50a1.45,1.45 0 1,0 2.90,0a1.45,1.45 0 1,0 -2.90,0M165.19,222.50a1.45,1.45 0 1,0 2.90,0a1.45,1.45 0 1,0 -2.90,0M175.27,222.50a1.45,1.45 0 1,0 2.90,0a1.45,1.45 0 1,0 -2.90,0M185.35,222.50a1.45,1.45 0 1,0 2.90,0a1.45,1.45 0 1,0 -2.90,0M195.43,222.50a1.45,1.45 0 1,0 2.90,0a1.45,1.45 0 1,0 -2.90,0M205.51,235.00a1.45,1.45 0 1,0 2.90,0a1.45,1.45 0 1,0 -2.90,0M215.59,245.00a1.45,1.45 0 1,0 2.90,0a1.45,1.45 0 1,0 -2.90,0M225.67,253.90a1.45,1.45 0 1,0 2.90,0a1.45,1.45 0 1,0 -2.90,0M235.75,253.90a1.45,1.45 0 1,0 2.90,0a1.45,1.45 0 1,0 -2.90,0" fill="#00ff00"/>
</g>
<rect x="35.6" y="178.8" width="201.60" height="131.40" fill="none" stroke="#3a3a3a" stroke-width="0.9"/>
<line x1="35.60" y1="310.2" x2="35.60" y2="312.40" stroke="#3a3a3a" stroke-width="0.8"/>
<text x="35.60" y="319.79" font-size="6.29" text-anchor="middle" textLength="9.53" lengthAdjust="spacingAndGlyphs">0.0</text>
<line x1="60.80" y1="310.2" x2="60.80" y2="312.40" stroke="#3a3a3a" stroke-width="0.8"/>
<text x="60.80" y="319.79" font-size="6.29" text-anchor="middle" textLength="9.53" lengthAdjust="spacingAndGlyphs">2.5</text>
<line x1="86.00" y1="310.2" x2="86.00" y2="312.40" stroke="#3a3a3a" stroke-width="0.8"/>
<text x="86.00" y="319.79" font-size="6.29" text-anchor="middle" textLength="9.53" lengthAdjust="spacingAndGlyphs">5.0</text>
<line x1="111.20" y1="310.2" x2="111.20" y2="312.40" stroke="#3a3a3a" stroke-width="0.8"/>
<text x="111.20" y="319.79" font-size="6.29" text-anchor="middle" textLength="9.53" lengthAdjust="spacingAndGlyphs">7.5</text>
<line x1="136.40" y1="310.2" x2="136.40" y2="312.40" stroke="#3a3a3a" stroke-width="0.8"/>
<text x="136.40" y="319.79" font-size="6.29" text-anchor="middle" textLength="13.35" lengthAdjust="spacingAndGlyphs">10.0</text>
<line x1="161.60" y1="310.2" x2="161.60" y2="312.40" stroke="#3a3a3a" stroke-width="0.8"/>
<text x="161.60" y="319.79" font-size="6.29" text-anchor="middle" textLength="13.35" lengthAdjust="spacingAndGlyphs">12.5</text>
<line x1="186.80" y1="310.2" x2="186.80" y2="312.40" stroke="#3a3a3a" stroke-width="0.8"/>
<text x="186.80" y="319.79" font-size="6.29" text-anchor="middle" textLength="13.35" lengthAdjust="spacingAndGlyphs">15.0</text>
<line x1="212.00" y1="310.2" x2="212.00" y2="312.40" stroke="#3a3a3a" stroke-width="0.8"/>
<text x="212.00" y="319.79" font-size="6.29" text-anchor="middle" textLength="13.35" lengthAdjust="spacingAndGlyphs">17.5</text>
<line x1="237.20" y1="310.2" x2="237.20" y2="312.40" stroke="#3a3a3a" stroke-width="0.8"/>
<text x="237.20" y="319.79" font-size="6.29" text-anchor="middle" textLength="13.35" lengthAdjust="spacingAndGlyphs">20.0</text>
<text x="136.40" y="327.38" font-size="6.29" text-anchor="middle" textLength="28.55" lengthAdjust="spacingAndGlyphs">Iterations</text>
<line x1="33.40" y1="293.50" x2="35.6" y2="293.50" stroke="#3a3a3a" stroke-width="0.8"/>
<text x="31.40" y="295.80" font-size="6.29" text-anchor="end" textLength="13.35" lengthAdjust="spacingAndGlyphs">0.08</text>
<line x1="33.40" y1="274.28" x2="35.6" y2="274.28" stroke="#3a3a3a" stroke-width="0.8"/>
<text x="31.40" y="276.58" font-size="6.29" text-anchor="end" textLength="13.35" lengthAdjust="spacingAndGlyphs">0.09</text>
<line x1="33.40" y1="255.06" x2="35.6" y2="255.06" stroke="#3a3a3a" stroke-width="0.8"/>
<text x="31.40" y="257.36" font-size="6.29" text-anchor="end" textLength="13.35" lengthAdjust="spacingAndGlyphs">0.10</text>
<line x1="33.40" y1="235.84" x2="35.6" y2="235.84" stroke="#3a3a3a" stroke-width="0.8"/>
<text x="31.40" y="238.14" font-size="6.29" text-anchor="end" textLength="13.35" lengthAdjust="spacingAndGlyphs">0.11</text>
<line x1="33.40" y1="216.62" x2="35.6" y2="216.62" stroke="#3a3a3a" stroke-width="0.8"/>
<text x="31.40" y="218.92" font-size="6.29" text-anchor="end" textLength="13.35" lengthAdjust="spacingAndGlyphs">0.12</text>
<line x1="33.40" y1="197.40" x2="35.6" y2="197.40" stroke="#3a3a3a" stroke-width="0.8"/>
<text x="31.40" y="199.70" font-size="6.29" text-anchor="end" textLength="13.35" lengthAdjust="spacingAndGlyphs">0.13</text>
<g><text x="0" y="0" font-size="6.29" text-anchor="middle" textLength="90.19" lengthAdjust="spacingAndGlyphs" transform="translate(14.10,244.50) rotate(-90)">Objective (classification error)</text></g>
<rect x="175.86" y="181.80" width="58.34" height="72.13" rx="1.2" fill="#fff" fill-opacity="0.8" stroke="#ccc" stroke-opacity="0.8" stroke-width="0.7"/>
<line x1="178.26" y1="186.69" x2="190.25" y2="186.69" stroke="#ff0000" stroke-width="0.9" stroke-dasharray="3.3,1.45"/>
<path d="M182.85,185.09L185.95,186.69L182.85,188.29Z" fill="#ff0000"/>
<text x="195.04" y="188.89" font-size="6.29" text-anchor="start" textLength="36.72" lengthAdjust="spacingAndGlyphs">ELM-MS-AFS</text>
<line x1="178.26" y1="195.51" x2="190.25" y2="195.51" stroke="#0000ff" stroke-width="0.9"/>
<path d="M182.80,195.51a1.45,1.45 0 1,0 2.90,0a1.45,1.45 0 1,0 -2.90,0" fill="#0000ff"/>
<text x="195.04" y="197.71" font-size="6.29" text-anchor="start" textLength="26.62" lengthAdjust="spacingAndGlyphs">ELM-ABC</text>
<line x1="178.26" y1="204.33" x2="190.25" y2="204.33" stroke="#008000" stroke-width="0.9"/>
<path d="M182.80,204.33a1.45,1.45 0 1,0 2.90,0a1.45,1.45 0 1,0 -2.90,0" fill="#008000"/>
<text x="195.04" y="206.53" font-size="6.29" text-anchor="start" textLength="21.46" lengthAdjust="spacingAndGlyphs">ELM-FA</text>
<line x1="178.26" y1="213.16" x2="190.25" y2="213.16" stroke="#c000c0" stroke-width="0.9"/>
<path d="M182.80,213.16a1.45,1.45 0 1,0 2.90,0a1.45,1.45 0 1,0 -2.90,0" fill="#c000c0"/>
<text x="195.04" y="215.35" font-size="6.29" text-anchor="start" textLength="26.55" lengthAdjust="spacingAndGlyphs">ELM-SCA</text>
<line x1="178.26" y1="221.98" x2="190.25" y2="221.98" stroke="#daa520" stroke-width="0.9"/>
<path d="M183.15,221.98a1.10,1.10 0 1,0 2.20,0a1.10,1.10 0 1,0 -2.20,0" fill="#daa520"/>
<text x="195.04" y="224.17" font-size="6.29" text-anchor="start" textLength="22.46" lengthAdjust="spacingAndGlyphs">ELM-BA</text>
<line x1="178.26" y1="230.80" x2="190.25" y2="230.80" stroke="#5046aa" stroke-width="0.9"/>
<path d="M183.10,229.65h2.30v2.30h-2.30Z" fill="#5046aa"/>
<text x="195.04" y="233.00" font-size="6.29" text-anchor="start" textLength="28.19" lengthAdjust="spacingAndGlyphs">ELM-HHO</text>
<line x1="178.26" y1="239.62" x2="190.25" y2="239.62" stroke="#00ffff" stroke-width="0.9"/>
<path d="M182.80,239.62a1.45,1.45 0 1,0 2.90,0a1.45,1.45 0 1,0 -2.90,0" fill="#00ffff"/>
<text x="195.04" y="241.82" font-size="6.29" text-anchor="start" textLength="28.86" lengthAdjust="spacingAndGlyphs">ELM-WOA</text>
<line x1="178.26" y1="248.44" x2="190.25" y2="248.44" stroke="#00ff00" stroke-width="0.9"/>
<path d="M182.80,248.44a1.45,1.45 0 1,0 2.90,0a1.45,1.45 0 1,0 -2.90,0" fill="#00ff00"/>
<text x="195.04" y="250.64" font-size="6.29" text-anchor="start" textLength="26.87" lengthAdjust="spacingAndGlyphs">ELM-IWO</text>
<text x="377.75" y="175.50" font-size="8.19" text-anchor="middle" textLength="169.72" lengthAdjust="spacingAndGlyphs">Heart Disease 60 neurons convergence graphs</text>
<clipPath id="c4"><rect x="277.0" y="178.8" width="201.50" height="131.40"/></clipPath>
<g clip-path="url(#c4)">
<polyline points="277.00,222.70 287.07,234.20 297.15,254.80 307.23,282.10 317.30,287.70 327.38,298.30 337.45,303.90 347.52,303.90 357.60,303.90 367.68,303.90 377.75,303.90 387.82,303.90 397.90,303.90 407.98,303.90 418.05,303.90 428.12,303.90 438.20,303.90 448.27,303.90 458.35,303.90 468.43,303.90 478.50,303.90" fill="none" stroke="#ff0000" stroke-width="0.9" stroke-dasharray="3.3,1.45"/>
<path d="M275.60,221.10L278.70,222.70L275.60,224.30ZM285.68,232.60L288.77,234.20L285.68,235.80ZM295.75,253.20L298.85,254.80L295.75,256.40ZM305.83,280.50L308.92,282.10L305.83,283.70ZM315.90,286.10L319.00,287.70L315.90,289.30ZM325.98,296.70L329.07,298.30L325.98,299.90ZM336.05,302.30L339.15,303.90L336.05,305.50ZM346.13,302.30L349.22,303.90L346.13,305.50ZM356.20,302.30L359.30,303.90L356.20,305.50ZM366.28,302.30L369.37,303.90L366.28,305.50ZM376.35,302.30L379.45,303.90L376.35,305.50ZM386.43,302.30L389.52,303.90L386.43,305.50ZM396.50,302.30L399.60,303.90L396.50,305.50ZM406.58,302.30L409.67,303.90L406.58,305.50ZM416.65,302.30L419.75,303.90L416.65,305.50ZM426.73,302.30L429.82,303.90L426.73,305.50ZM436.80,302.30L439.90,303.90L436.80,305.50ZM446.88,302.30L449.97,303.90L446.88,305.50ZM456.95,302.30L460.05,303.90L456.95,305.50ZM467.03,302.30L470.12,303.90L467.03,305.50ZM477.10,302.30L480.20,303.90L477.10,305.50Z" fill="#ff0000"/>
<polyline points="277.00,190.10 287.07,233.40 297.15,233.40 307.23,233.40 317.30,233.40 327.38,233.40 337.45,233.40 347.52,233.40 357.60,233.40 367.68,233.40 377.75,233.40 387.82,233.40 397.90,233.40 407.98,233.40 418.05,233.40 428.12,233.40 438.20,233.40 448.27,233.40 458.35,233.40 468.43,233.40 478.50,233.40" fill="none" stroke="#0000ff" stroke-width="0.9"/>
<path d="M275.55,190.10a1.45,1.45 0 1,0 2.90,0a1.45,1.45 0 1,0 -2.90,0M285.63,233.40a1.45,1.45 0 1,0 2.90,0a1.45,1.45 0 1,0 -2.90,0M295.70,233.40a1.45,1.45 0 1,0 2.90,0a1.45,1.45 0 1,0 -2.90,0M305.78,233.40a1.45,1.45 0 1,0 2.90,0a1.45,1.45 0 1,0 -2.90,0M315.85,233.40a1.45,1.45 0 1,0 2.90,0a1.45,1.45 0 1,0 -2.90,0M325.93,233.40a1.45,1.45 0 1,0 2.90,0a1.45,1.45 0 1,0 -2.90,0M336.00,233.40a1.45,1.45 0 1,0 2.90,0a1.45,1.45 0 1,0 -2.90,0M346.08,233.40a1.45,1.45 0 1,0 2.90,0a1.45,1.45 0 1,0 -2.90,0M356.15,233.40a1.45,1.45 0 1,0 2.90,0a1.45,1.45 0 1,0 -2.90,0M366.23,233.40a1.45,1.45 0 1,0 2.90,0a1.45,1.45 0 1,0 -2.90,0M376.30,233.40a1.45,1.45 0 1,0 2.90,0a1.45,1.45 0 1,0 -2.90,0M386.38,233.40a1.45,1.45 0 1,0 2.90,0a1.45,1.45 0 1,0 -2.90,0M396.45,233.40a1.45,1.45 0 1,0 2.90,0a1.45,1.45 0 1,0 -2.90,0M406.53,233.40a1.45,1.45 0 1,0 2.90,0a1.45,1.45 0 1,0 -2.90,0M416.60,233.40a1.45,1.45 0 1,0 2.90,0a1.45,1.45 0 1,0 -2.90,0M426.68,233.40a1.45,1.45 0 1,0 2.90,0a1.45,1.45 0 1,0 -2.90,0M436.75,233.40a1.45,1.45 0 1,0 2.90,0a1.45,1.45 0 1,0 -2.90,0M446.83,233.40a1.45,1.45 0 1,0 2.90,0a1.45,1.45 0 1,0 -2.90,0M456.90,233.40a1.45,1.45 0 1,0 2.90,0a1.45,1.45 0 1,0 -2.90,0M466.98,233.40a1.45,1.45 0 1,0 2.90,0a1.45,1.45 0 1,0 -2.90,0M477.05,233.40a1.45,1.45 0 1,0 2.90,0a1.45,1.45 0 1,0 -2.90,0" fill="#0000ff"/>
<polyline points="277.00,217.30 287.07,217.30 297.15,217.30 307.23,217.30 317.30,228.10 327.38,228.10 337.45,228.10 347.52,228.10 357.60,228.10 367.68,228.10 377.75,228.10 387.82,228.10 397.90,228.10 407.98,228.10 418.05,228.10 428.12,228.10 438.20,228.10 448.27,228.10 458.35,228.10 468.43,228.10 478.50,228.10" fill="none" stroke="#008000" stroke-width="0.9"/>
<path d="M275.55,217.30a1.45,1.45 0 1,0 2.90,0a1.45,1.45 0 1,0 -2.90,0M285.63,217.30a1.45,1.45 0 1,0 2.90,0a1.45,1.45 0 1,0 -2.90,0M295.70,217.30a1.45,1.45 0 1,0 2.90,0a1.45,1.45 0 1,0 -2.90,0M305.78,217.30a1.45,1.45 0 1,0 2.90,0a1.45,1.45 0 1,0 -2.90,0M315.85,228.10a1.45,1.45 0 1,0 2.90,0a1.45,1.45 0 1,0 -2.90,0M325.93,228.10a1.45,1.45 0 1,0 2.90,0a1.45,1.45 0 1,0 -2.90,0M336.00,228.10a1.45,1.45 0 1,0 2.90,0a1.45,1.45 0 1,0 -2.90,0M346.08,228.10a1.45,1.45 0 1,0 2.90,0a1.45,1.45 0 1,0 -2.90,0M356.15,228.10a1.45,1.45 0 1,0 2.90,0a1.45,1.45 0 1,0 -2.90,0M366.23,228.10a1.45,1.45 0 1,0 2.90,0a1.45,1.45 0 1,0 -2.90,0M376.30,228.10a1.45,1.45 0 1,0 2.90,0a1.45,1.45 0 1,0 -2.90,0M386.38,228.10a1.45,1.45 0 1,0 2.90,0a1.45,1.45 0 1,0 -2.90,0M396.45,228.10a1.45,1.45 0 1,0 2.90,0a1.45,1.45 0 1,0 -2.90,0M406.53,228.10a1.45,1.45 0 1,0 2.90,0a1.45,1.45 0 1,0 -2.90,0M416.60,228.10a1.45,1.45 0 1,0 2.90,0a1.45,1.45 0 1,0 -2.90,0M426.68,228.10a1.45,1.45 0 1,0 2.90,0a1.45,1.45 0 1,0 -2.90,0M436.75,228.10a1.45,1.45 0 1,0 2.90,0a1.45,1.45 0 1,0 -2.90,0M446.83,228.10a1.45,1.45 0 1,0 2.90,0a1.45,1.45 0 1,0 -2.90,0M456.90,228.10a1.45,1.45 0 1,0 2.90,0a1.45,1.45 0 1,0 -2.90,0M466.98,228.10a1.45,1.45 0 1,0 2.90,0a1.45,1.45 0 1,0 -2.90,0M477.05,228.10a1.45,1.45 0 1,0 2.90,0a1.45,1.45 0 1,0 -2.90,0" fill="#008000"/>
<polyline points="277.00,184.80 287.07,184.80 297.15,184.80 307.23,184.80 317.30,184.80 327.38,184.80 337.45,195.20 347.52,195.20 357.60,195.20 367.68,195.20 377.75,201.00 387.82,206.40 397.90,206.40 407.98,206.40 418.05,206.40 428.12,217.30 438.20,217.30 448.27,217.30 458.35,222.00 468.43,228.10 478.50,228.10" fill="none" stroke="#c000c0" stroke-width="0.9"/>
<path d="M275.55,184.80a1.45,1.45 0 1,0 2.90,0a1.45,1.45 0 1,0 -2.90,0M285.63,184.80a1.45,1.45 0 1,0 2.90,0a1.45,1.45 0 1,0 -2.90,0M295.70,184.80a1.45,1.45 0 1,0 2.90,0a1.45,1.45 0 1,0 -2.90,0M305.78,184.80a1.45,1.45 0 1,0 2.90,0a1.45,1.45 0 1,0 -2.90,0M315.85,184.80a1.45,1.45 0 1,0 2.90,0a1.45,1.45 0 1,0 -2.90,0M325.93,184.80a1.45,1.45 0 1,0 2.90,0a1.45,1.45 0 1,0 -2.90,0M336.00,195.20a1.45,1.45 0 1,0 2.90,0a1.45,1.45 0 1,0 -2.90,0M346.08,195.20a1.45,1.45 0 1,0 2.90,0a1.45,1.45 0 1,0 -2.90,0M356.15,195.20a1.45,1.45 0 1,0 2.90,0a1.45,1.45 0 1,0 -2.90,0M366.23,195.20a1.45,1.45 0 1,0 2.90,0a1.45,1.45 0 1,0 -2.90,0M376.30,201.00a1.45,1.45 0 1,0 2.90,0a1.45,1.45 0 1,0 -2.90,0M386.38,206.40a1.45,1.45 0 1,0 2.90,0a1.45,1.45 0 1,0 -2.90,0M396.45,206.40a1.45,1.45 0 1,0 2.90,0a1.45,1.45 0 1,0 -2.90,0M406.53,206.40a1.45,1.45 0 1,0 2.90,0a1.45,1.45 0 1,0 -2.90,0M416.60,206.40a1.45,1.45 0 1,0 2.90,0a1.45,1.45 0 1,0 -2.90,0M426.68,217.30a1.45,1.45 0 1,0 2.90,0a1.45,1.45 0 1,0 -2.90,0M436.75,217.30a1.45,1.45 0 1,0 2.90,0a1.45,1.45 0 1,0 -2.90,0M446.83,217.30a1.45,1.45 0 1,0 2.90,0a1.45,1.45 0 1,0 -2.90,0M456.90,222.00a1.45,1.45 0 1,0 2.90,0a1.45,1.45 0 1,0 -2.90,0M466.98,228.10a1.45,1.45 0 1,0 2.90,0a1.45,1.45 0 1,0 -2.90,0M477.05,228.10a1.45,1.45 0 1,0 2.90,0a1.45,1.45 0 1,0 -2.90,0" fill="#c000c0"/>
<polyline points="277.00,190.10 287.07,190.10 297.15,195.20 307.23,195.20 317.30,195.20 327.38,195.20 337.45,195.20 347.52,195.20 357.60,217.30 367.68,217.30 377.75,217.30 387.82,217.30 397.90,217.30 407.98,217.30 418.05,217.30 428.12,217.30 438.20,217.30 448.27,217.30 458.35,217.30 468.43,217.30 478.50,217.30" fill="none" stroke="#daa520" stroke-width="0.9"/>
<path d="M275.90,190.10a1.10,1.10 0 1,0 2.20,0a1.10,1.10 0 1,0 -2.20,0M285.98,190.10a1.10,1.10 0 1,0 2.20,0a1.10,1.10 0 1,0 -2.20,0M296.05,195.20a1.10,1.10 0 1,0 2.20,0a1.10,1.10 0 1,0 -2.20,0M306.13,195.20a1.10,1.10 0 1,0 2.20,0a1.10,1.10 0 1,0 -2.20,0M316.20,195.20a1.10,1.10 0 1,0 2.20,0a1.10,1.10 0 1,0 -2.20,0M326.28,195.20a1.10,1.10 0 1,0 2.20,0a1.10,1.10 0 1,0 -2.20,0M336.35,195.20a1.10,1.10 0 1,0 2.20,0a1.10,1.10 0 1,0 -2.20,0M346.43,195.20a1.10,1.10 0 1,0 2.20,0a1.10,1.10 0 1,0 -2.20,0M356.50,217.30a1.10,1.10 0 1,0 2.20,0a1.10,1.10 0 1,0 -2.20,0M366.58,217.30a1.10,1.10 0 1,0 2.20,0a1.10,1.10 0 1,0 -2.20,0M376.65,217.30a1.10,1.10 0 1,0 2.20,0a1.10,1.10 0 1,0 -2.20,0M386.73,217.30a1.10,1.10 0 1,0 2.20,0a1.10,1.10 0 1,0 -2.20,0M396.80,217.30a1.10,1.10 0 1,0 2.20,0a1.10,1.10 0 1,0 -2.20,0M406.88,217.30a1.10,1.10 0 1,0 2.20,0a1.10,1.10 0 1,0 -2.20,0M416.95,217.30a1.10,1.10 0 1,0 2.20,0a1.10,1.10 0 1,0 -2.20,0M427.03,217.30a1.10,1.10 0 1,0 2.20,0a1.10,1.10 0 1,0 -2.20,0M437.10,217.30a1.10,1.10 0 1,0 2.20,0a1.10,1.10 0 1,0 -2.20,0M447.18,217.30a1.10,1.10 0 1,0 2.20,0a1.10,1.10 0 1,0 -2.20,0M457.25,217.30a1.10,1.10 0 1,0 2.20,0a1.10,1.10 0 1,0 -2.20,0M467.33,217.30a1.10,1.10 0 1,0 2.20,0a1.10,1.10 0 1,0 -2.20,0M477.40,217.30a1.10,1.10 0 1,0 2.20,0a1.10,1.10 0 1,0 -2.20,0" fill="#daa520"/>
<polyline points="277.00,211.80 287.07,211.80 297.15,211.80 307.23,211.80 317.30,217.30 327.38,228.10 337.45,228.10 347.52,228.10 357.60,228.10 367.68,238.80 377.75,238.80 387.82,238.80 397.90,238.80 407.98,238.80 418.05,238.80 428.12,238.80 438.20,238.80 448.27,238.80 458.35,238.80 468.43,238.80 478.50,238.80" fill="none" stroke="#5046aa" stroke-width="0.9"/>
<path d="M275.85,210.65h2.30v2.30h-2.30ZM285.93,210.65h2.30v2.30h-2.30ZM296.00,210.65h2.30v2.30h-2.30ZM306.08,210.65h2.30v2.30h-2.30ZM316.15,216.15h2.30v2.30h-2.30ZM326.23,226.95h2.30v2.30h-2.30ZM336.30,226.95h2.30v2.30h-2.30ZM346.38,226.95h2.30v2.30h-2.30ZM356.45,226.95h2.30v2.30h-2.30ZM366.53,237.65h2.30v2.30h-2.30ZM376.60,237.65h2.30v2.30h-2.30ZM386.68,237.65h2.30v2.30h-2.30ZM396.75,237.65h2.30v2.30h-2.30ZM406.83,237.65h2.30v2.30h-2.30ZM416.90,237.65h2.30v2.30h-2.30ZM426.98,237.65h2.30v2.30h-2.30ZM437.05,237.65h2.30v2.30h-2.30ZM447.13,237.65h2.30v2.30h-2.30ZM457.20,237.65h2.30v2.30h-2.30ZM467.28,237.65h2.30v2.30h-2.30ZM477.35,237.65h2.30v2.30h-2.30Z" fill="#5046aa"/>
<polyline points="277.00,201.40 287.07,201.40 297.15,201.40 307.23,206.40 317.30,206.40 327.38,206.40 337.45,206.40 347.52,206.40 357.60,211.80 367.68,211.80 377.75,211.80 387.82,211.80 397.90,211.80 407.98,211.80 418.05,211.80 428.12,211.80 438.20,217.30 448.27,217.30 458.35,217.30 468.43,217.30 478.50,217.30" fill="none" stroke="#00ffff" stroke-width="0.9"/>
<path d="M275.55,201.40a1.45,1.45 0 1,0 2.90,0a1.45,1.45 0 1,0 -2.90,0M285.63,201.40a1.45,1.45 0 1,0 2.90,0a1.45,1.45 0 1,0 -2.90,0M295.70,201.40a1.45,1.45 0 1,0 2.90,0a1.45,1.45 0 1,0 -2.90,0M305.78,206.40a1.45,1.45 0 1,0 2.90,0a1.45,1.45 0 1,0 -2.90,0M315.85,206.40a1.45,1.45 0 1,0 2.90,0a1.45,1.45 0 1,0 -2.90,0M325.93,206.40a1.45,1.45 0 1,0 2.90,0a1.45,1.45 0 1,0 -2.90,0M336.00,206.40a1.45,1.45 0 1,0 2.90,0a1.45,1.45 0 1,0 -2.90,0M346.08,206.40a1.45,1.45 0 1,0 2.90,0a1.45,1.45 0 1,0 -2.90,0M356.15,211.80a1.45,1.45 0 1,0 2.90,0a1.45,1.45 0 1,0 -2.90,0M366.23,211.80a1.45,1.45 0 1,0 2.90,0a1.45,1.45 0 1,0 -2.90,0M376.30,211.80a1.45,1.45 0 1,0 2.90,0a1.45,1.45 0 1,0 -2.90,0M386.38,211.80a1.45,1.45 0 1,0 2.90,0a1.45,1.45 0 1,0 -2.90,0M396.45,211.80a1.45,1.45 0 1,0 2.90,0a1.45,1.45 0 1,0 -2.90,0M406.53,211.80a1.45,1.45 0 1,0 2.90,0a1.45,1.45 0 1,0 -2.90,0M416.60,211.80a1.45,1.45 0 1,0 2.90,0a1.45,1.45 0 1,0 -2.90,0M426.68,211.80a1.45,1.45 0 1,0 2.90,0a1.45,1.45 0 1,0 -2.90,0M436.75,217.30a1.45,1.45 0 1,0 2.90,0a1.45,1.45 0 1,0 -2.90,0M446.83,217.30a1.45,1.45 0 1,0 2.90,0a1.45,1.45 0 1,0 -2.90,0M456.90,217.30a1.45,1.45 0 1,0 2.90,0a1.45,1.45 0 1,0 -2.90,0M466.98,217.30a1.45,1.45 0 1,0 2.90,0a1.45,1.45 0 1,0 -2.90,0M477.05,217.30a1.45,1.45 0 1,0 2.90,0a1.45,1.45 0 1,0 -2.90,0" fill="#00ffff"/>
<polyline points="277.00,190.10 287.07,201.00 297.15,211.80 307.23,211.80 317.30,217.30 327.38,217.30 337.45,233.40 347.52,233.40 357.60,233.40 367.68,233.40 377.75,233.40 387.82,233.40 397.90,233.40 407.98,233.40 418.05,233.40 428.12,233.40 438.20,233.40 448.27,233.40 458.35,233.40 468.43,233.40 478.50,233.40" fill="none" stroke="#00ff00" stroke-width="0.9"/>
<path d="M275.55,190.10a1.45,1.45 0 1,0 2.90,0a1.45,1.45 0 1,0 -2.90,0M285.63,201.00a1.45,1.45 0 1,0 2.90,0a1.45,1.45 0 1,0 -2.90,0M295.70,211.80a1.45,1.45 0 1,0 2.90,0a1.45,1.45 0 1,0 -2.90,0M305.78,211.80a1.45,1.45 0 1,0 2.90,0a1.45,1.45 0 1,0 -2.90,0M315.85,217.30a1.45,1.45 0 1,0 2.90,0a1.45,1.45 0 1,0 -2.90,0M325.93,217.30a1.45,1.45 0 1,0 2.90,0a1.45,1.45 0 1,0 -2.90,0M336.00,233.40a1.45,1.45 0 1,0 2.90,0a1.45,1.45 0 1,0 -2.90,0M346.08,233.40a1.45,1.45 0 1,0 2.90,0a1.45,1.45 0 1,0 -2.90,0M356.15,233.40a1.45,1.45 0 1,0 2.90,0a1.45,1.45 0 1,0 -2.90,0M366.23,233.40a1.45,1.45 0 1,0 2.90,0a1.45,1.45 0 1,0 -2.90,0M376.30,233.40a1.45,1.45 0 1,0 2.90,0a1.45,1.45 0 1,0 -2.90,0M386.38,233.40a1.45,1.45 0 1,0 2.90,0a1.45,1.45 0 1,0 -2.90,0M396.45,233.40a1.45,1.45 0 1,0 2.90,0a1.45,1.45 0 1,0 -2.90,0M406.53,233.40a1.45,1.45 0 1,0 2.90,0a1.45,1.45 0 1,0 -2.90,0M416.60,233.40a1.45,1.45 0 1,0 2.90,0a1.45,1.45 0 1,0 -2.90,0M426.68,233.40a1.45,1.45 0 1,0 2.90,0a1.45,1.45 0 1,0 -2.90,0M436.75,233.40a1.45,1.45 0 1,0 2.90,0a1.45,1.45 0 1,0 -2.90,0M446.83,233.40a1.45,1.45 0 1,0 2.90,0a1.45,1.45 0 1,0 -2.90,0M456.90,233.40a1.45,1.45 0 1,0 2.90,0a1.45,1.45 0 1,0 -2.90,0M466.98,233.40a1.45,1.45 0 1,0 2.90,0a1.45,1.45 0 1,0 -2.90,0M477.05,233.40a1.45,1.45 0 1,0 2.90,0a1.45,1.45 0 1,0 -2.90,0" fill="#00ff00"/>
</g>
<rect x="277.0" y="178.8" width="201.50" height="131.40" fill="none" stroke="#3a3a3a" stroke-width="0.9"/>
<line x1="277.00" y1="310.2" x2="277.00" y2="312.40" stroke="#3a3a3a" stroke-width="0.8"/>
<text x="277.00" y="319.79" font-size="6.29" text-anchor="middle" textLength="9.53" lengthAdjust="spacingAndGlyphs">0.0</text>
<line x1="302.19" y1="310.2" x2="302.19" y2="312.40" stroke="#3a3a3a" stroke-width="0.8"/>
<text x="302.19" y="319.79" font-size="6.29" text-anchor="middle" textLength="9.53" lengthAdjust="spacingAndGlyphs">2.5</text>
<line x1="327.38" y1="310.2" x2="327.38" y2="312.40" stroke="#3a3a3a" stroke-width="0.8"/>
<text x="327.38" y="319.79" font-size="6.29" text-anchor="middle" textLength="9.53" lengthAdjust="spacingAndGlyphs">5.0</text>
<line x1="352.56" y1="310.2" x2="352.56" y2="312.40" stroke="#3a3a3a" stroke-width="0.8"/>
<text x="352.56" y="319.79" font-size="6.29" text-anchor="middle" textLength="9.53" lengthAdjust="spacingAndGlyphs">7.5</text>
<line x1="377.75" y1="310.2" x2="377.75" y2="312.40" stroke="#3a3a3a" stroke-width="0.8"/>
<text x="377.75" y="319.79" font-size="6.29" text-anchor="middle" textLength="13.34" lengthAdjust="spacingAndGlyphs">10.0</text>
<line x1="402.94" y1="310.2" x2="402.94" y2="312.40" stroke="#3a3a3a" stroke-width="0.8"/>
<text x="402.94" y="319.79" font-size="6.29" text-anchor="middle" textLength="13.34" lengthAdjust="spacingAndGlyphs">12.5</text>
<line x1="428.12" y1="310.2" x2="428.12" y2="312.40" stroke="#3a3a3a" stroke-width="0.8"/>
<text x="428.12" y="319.79" font-size="6.29" text-anchor="middle" textLength="13.34" lengthAdjust="spacingAndGlyphs">15.0</text>
<line x1="453.31" y1="310.2" x2="453.31" y2="312.40" stroke="#3a3a3a" stroke-width="0.8"/>
<text x="453.31" y="319.79" font-size="6.29" text-anchor="middle" textLength="13.34" lengthAdjust="spacingAndGlyphs">17.5</text>
<line x1="478.50" y1="310.2" x2="478.50" y2="312.40" stroke="#3a3a3a" stroke-width="0.8"/>
<text x="478.50" y="319.79" font-size="6.29" text-anchor="middle" textLength="13.34" lengthAdjust="spacingAndGlyphs">20.0</text>
<text x="377.75" y="327.37" font-size="6.29" text-anchor="middle" textLength="28.53" lengthAdjust="spacingAndGlyphs">Iterations</text>
<line x1="274.80" y1="301.30" x2="277.0" y2="301.30" stroke="#3a3a3a" stroke-width="0.8"/>
<text x="272.81" y="303.60" font-size="6.29" text-anchor="end" textLength="13.34" lengthAdjust="spacingAndGlyphs">0.06</text>
<line x1="274.80" y1="284.61" x2="277.0" y2="284.61" stroke="#3a3a3a" stroke-width="0.8"/>
<text x="272.81" y="286.91" font-size="6.29" text-anchor="end" textLength="13.34" lengthAdjust="spacingAndGlyphs">0.07</text>
<line x1="274.80" y1="267.93" x2="277.0" y2="267.93" stroke="#3a3a3a" stroke-width="0.8"/>
<text x="272.81" y="270.23" font-size="6.29" text-anchor="end" textLength="13.34" lengthAdjust="spacingAndGlyphs">0.08</text>
<line x1="274.80" y1="251.24" x2="277.0" y2="251.24" stroke="#3a3a3a" stroke-width="0.8"/>
<text x="272.81" y="253.54" font-size="6.29" text-anchor="end" textLength="13.34" lengthAdjust="spacingAndGlyphs">0.09</text>
<line x1="274.80" y1="234.56" x2="277.0" y2="234.56" stroke="#3a3a3a" stroke-width="0.8"/>
<text x="272.81" y="236.85" font-size="6.29" text-anchor="end" textLength="13.34" lengthAdjust="spacingAndGlyphs">0.10</text>
<line x1="274.80" y1="217.87" x2="277.0" y2="217.87" stroke="#3a3a3a" stroke-width="0.8"/>
<text x="272.81" y="220.17" font-size="6.29" text-anchor="end" textLength="13.34" lengthAdjust="spacingAndGlyphs">0.11</text>
<line x1="274.80" y1="201.19" x2="277.0" y2="201.19" stroke="#3a3a3a" stroke-width="0.8"/>
<text x="272.81" y="203.48" font-size="6.29" text-anchor="end" textLength="13.34" lengthAdjust="spacingAndGlyphs">0.12</text>
<line x1="274.80" y1="184.50" x2="277.0" y2="184.50" stroke="#3a3a3a" stroke-width="0.8"/>
<text x="272.81" y="186.80" font-size="6.29" text-anchor="end" textLength="13.34" lengthAdjust="spacingAndGlyphs">0.13</text>
<g><text x="0" y="0" font-size="6.29" text-anchor="middle" textLength="90.15" lengthAdjust="spacingAndGlyphs" transform="translate(255.00,244.50) rotate(-90)">Objective (classification error)</text></g>
<rect x="417.19" y="181.80" width="58.31" height="72.09" rx="1.2" fill="#fff" fill-opacity="0.8" stroke="#ccc" stroke-opacity="0.8" stroke-width="0.7"/>
<line x1="419.59" y1="186.69" x2="431.57" y2="186.69" stroke="#ff0000" stroke-width="0.9" stroke-dasharray="3.3,1.45"/>
<path d="M424.18,185.09L427.28,186.69L424.18,188.29Z" fill="#ff0000"/>
<text x="436.36" y="188.88" font-size="6.29" text-anchor="start" textLength="36.70" lengthAdjust="spacingAndGlyphs">ELM-MS-AFS</text>
<line x1="419.59" y1="195.51" x2="431.57" y2="195.51" stroke="#0000ff" stroke-width="0.9"/>
<path d="M424.13,195.51a1.45,1.45 0 1,0 2.90,0a1.45,1.45 0 1,0 -2.90,0" fill="#0000ff"/>
<text x="436.36" y="197.70" font-size="6.29" text-anchor="start" textLength="26.61" lengthAdjust="spacingAndGlyphs">ELM-ABC</text>
<line x1="419.59" y1="204.32" x2="431.57" y2="204.32" stroke="#008000" stroke-width="0.9"/>
<path d="M424.13,204.32a1.45,1.45 0 1,0 2.90,0a1.45,1.45 0 1,0 -2.90,0" fill="#008000"/>
<text x="436.36" y="206.52" font-size="6.29" text-anchor="start" textLength="21.45" lengthAdjust="spacingAndGlyphs">ELM-FA</text>
<line x1="419.59" y1="213.14" x2="431.57" y2="213.14" stroke="#c000c0" stroke-width="0.9"/>
<path d="M424.13,213.14a1.45,1.45 0 1,0 2.90,0a1.45,1.45 0 1,0 -2.90,0" fill="#c000c0"/>
<text x="436.36" y="215.34" font-size="6.29" text-anchor="start" textLength="26.54" lengthAdjust="spacingAndGlyphs">ELM-SCA</text>
<line x1="419.59" y1="221.96" x2="431.57" y2="221.96" stroke="#daa520" stroke-width="0.9"/>
<path d="M424.48,221.96a1.10,1.10 0 1,0 2.20,0a1.10,1.10 0 1,0 -2.20,0" fill="#daa520"/>
<text x="436.36" y="224.15" font-size="6.29" text-anchor="start" textLength="22.45" lengthAdjust="spacingAndGlyphs">ELM-BA</text>
<line x1="419.59" y1="230.77" x2="431.57" y2="230.77" stroke="#5046aa" stroke-width="0.9"/>
<path d="M424.43,229.62h2.30v2.30h-2.30Z" fill="#5046aa"/>
<text x="436.36" y="232.97" font-size="6.29" text-anchor="start" textLength="28.18" lengthAdjust="spacingAndGlyphs">ELM-HHO</text>
<line x1="419.59" y1="239.59" x2="431.57" y2="239.59" stroke="#00ffff" stroke-width="0.9"/>
<path d="M424.13,239.59a1.45,1.45 0 1,0 2.90,0a1.45,1.45 0 1,0 -2.90,0" fill="#00ffff"/>
<text x="436.36" y="241.79" font-size="6.29" text-anchor="start" textLength="28.84" lengthAdjust="spacingAndGlyphs">ELM-WOA</text>
<line x1="419.59" y1="248.41" x2="431.57" y2="248.41" stroke="#00ff00" stroke-width="0.9"/>
<path d="M424.13,248.41a1.45,1.45 0 1,0 2.90,0a1.45,1.45 0 1,0 -2.90,0" fill="#00ff00"/>
<text x="436.36" y="250.60" font-size="6.29" text-anchor="start" textLength="26.86" lengthAdjust="spacingAndGlyphs">ELM-IWO</text>
<text x="619.60" y="175.50" font-size="8.20" text-anchor="middle" textLength="169.98" lengthAdjust="spacingAndGlyphs">Heart Disease 90 neurons convergence graphs</text>
<clipPath id="c5"><rect x="518.7" y="178.8" width="201.80" height="131.20"/></clipPath>
<g clip-path="url(#c5)">
<polyline points="518.70,214.70 528.79,230.10 538.88,269.80 548.97,287.10 559.06,298.20 569.15,298.20 579.24,304.00 589.33,304.00 599.42,304.00 609.51,304.00 619.60,304.00 629.69,304.00 639.78,304.00 649.87,304.00 659.96,304.00 670.05,304.00 680.14,304.00 690.23,304.00 700.32,304.00 710.41,304.00 720.50,304.00" fill="none" stroke="#ff0000" stroke-width="0.9" stroke-dasharray="3.3,1.45"/>
<path d="M517.30,213.10L520.40,214.70L517.30,216.30ZM527.39,228.50L530.49,230.10L527.39,231.70ZM537.48,268.20L540.58,269.80L537.48,271.40ZM547.57,285.50L550.67,287.10L547.57,288.70ZM557.66,296.60L560.76,298.20L557.66,299.80ZM567.75,296.60L570.85,298.20L567.75,299.80ZM577.84,302.40L580.94,304.00L577.84,305.60ZM587.93,302.40L591.03,304.00L587.93,305.60ZM598.02,302.40L601.12,304.00L598.02,305.60ZM608.11,302.40L611.21,304.00L608.11,305.60ZM618.20,302.40L621.30,304.00L618.20,305.60ZM628.29,302.40L631.39,304.00L628.29,305.60ZM638.38,302.40L641.48,304.00L638.38,305.60ZM648.47,302.40L651.57,304.00L648.47,305.60ZM658.56,302.40L661.66,304.00L658.56,305.60ZM668.65,302.40L671.75,304.00L668.65,305.60ZM678.74,302.40L681.84,304.00L678.74,305.60ZM688.83,302.40L691.93,304.00L688.83,305.60ZM698.92,302.40L702.02,304.00L698.92,305.60ZM709.01,302.40L712.11,304.00L709.01,305.60ZM719.10,302.40L722.20,304.00L719.10,305.60Z" fill="#ff0000"/>
<polyline points="518.70,213.20 528.79,213.20 538.88,213.20 548.97,213.20 559.06,213.20 569.15,224.30 579.24,235.80 589.33,235.80 599.42,235.80 609.51,235.80 619.60,235.80 629.69,235.80 639.78,235.80 649.87,235.80 659.96,235.80 670.05,235.80 680.14,235.80 690.23,235.80 700.32,235.80 710.41,235.80 720.50,235.80" fill="none" stroke="#0000ff" stroke-width="0.9"/>
<path d="M517.25,213.20a1.45,1.45 0 1,0 2.90,0a1.45,1.45 0 1,0 -2.90,0M527.34,213.20a1.45,1.45 0 1,0 2.90,0a1.45,1.45 0 1,0 -2.90,0M537.43,213.20a1.45,1.45 0 1,0 2.90,0a1.45,1.45 0 1,0 -2.90,0M547.52,213.20a1.45,1.45 0 1,0 2.90,0a1.45,1.45 0 1,0 -2.90,0M557.61,213.20a1.45,1.45 0 1,0 2.90,0a1.45,1.45 0 1,0 -2.90,0M567.70,224.30a1.45,1.45 0 1,0 2.90,0a1.45,1.45 0 1,0 -2.90,0M577.79,235.80a1.45,1.45 0 1,0 2.90,0a1.45,1.45 0 1,0 -2.90,0M587.88,235.80a1.45,1.45 0 1,0 2.90,0a1.45,1.45 0 1,0 -2.90,0M597.97,235.80a1.45,1.45 0 1,0 2.90,0a1.45,1.45 0 1,0 -2.90,0M608.06,235.80a1.45,1.45 0 1,0 2.90,0a1.45,1.45 0 1,0 -2.90,0M618.15,235.80a1.45,1.45 0 1,0 2.90,0a1.45,1.45 0 1,0 -2.90,0M628.24,235.80a1.45,1.45 0 1,0 2.90,0a1.45,1.45 0 1,0 -2.90,0M638.33,235.80a1.45,1.45 0 1,0 2.90,0a1.45,1.45 0 1,0 -2.90,0M648.42,235.80a1.45,1.45 0 1,0 2.90,0a1.45,1.45 0 1,0 -2.90,0M658.51,235.80a1.45,1.45 0 1,0 2.90,0a1.45,1.45 0 1,0 -2.90,0M668.60,235.80a1.45,1.45 0 1,0 2.90,0a1.45,1.45 0 1,0 -2.90,0M678.69,235.80a1.45,1.45 0 1,0 2.90,0a1.45,1.45 0 1,0 -2.90,0M688.78,235.80a1.45,1.45 0 1,0 2.90,0a1.45,1.45 0 1,0 -2.90,0M698.87,235.80a1.45,1.45 0 1,0 2.90,0a1.45,1.45 0 1,0 -2.90,0M708.96,235.80a1.45,1.45 0 1,0 2.90,0a1.45,1.45 0 1,0 -2.90,0M719.05,235.80a1.45,1.45 0 1,0 2.90,0a1.45,1.45 0 1,0 -2.90,0" fill="#0000ff"/>
<polyline points="518.70,184.80 528.79,184.80 538.88,185.30 548.97,201.70 559.06,201.70 569.15,218.70 579.24,224.00 589.33,224.00 599.42,226.50 609.51,235.60 619.60,235.80 629.69,258.50 639.78,258.50 649.87,258.50 659.96,258.50 670.05,258.50 680.14,258.50 690.23,258.50 700.32,258.50 710.41,258.50 720.50,258.50" fill="none" stroke="#008000" stroke-width="0.9"/>
<path d="M517.25,184.80a1.45,1.45 0 1,0 2.90,0a1.45,1.45 0 1,0 -2.90,0M527.34,184.80a1.45,1.45 0 1,0 2.90,0a1.45,1.45 0 1,0 -2.90,0M537.43,185.30a1.45,1.45 0 1,0 2.90,0a1.45,1.45 0 1,0 -2.90,0M547.52,201.70a1.45,1.45 0 1,0 2.90,0a1.45,1.45 0 1,0 -2.90,0M557.61,201.70a1.45,1.45 0 1,0 2.90,0a1.45,1.45 0 1,0 -2.90,0M567.70,218.70a1.45,1.45 0 1,0 2.90,0a1.45,1.45 0 1,0 -2.90,0M577.79,224.00a1.45,1.45 0 1,0 2.90,0a1.45,1.45 0 1,0 -2.90,0M587.88,224.00a1.45,1.45 0 1,0 2.90,0a1.45,1.45 0 1,0 -2.90,0M597.97,226.50a1.45,1.45 0 1,0 2.90,0a1.45,1.45 0 1,0 -2.90,0M608.06,235.60a1.45,1.45 0 1,0 2.90,0a1.45,1.45 0 1,0 -2.90,0M618.15,235.80a1.45,1.45 0 1,0 2.90,0a1.45,1.45 0 1,0 -2.90,0M628.24,258.50a1.45,1.45 0 1,0 2.90,0a1.45,1.45 0 1,0 -2.90,0M638.33,258.50a1.45,1.45 0 1,0 2.90,0a1.45,1.45 0 1,0 -2.90,0M648.42,258.50a1.45,1.45 0 1,0 2.90,0a1.45,1.45 0 1,0 -2.90,0M658.51,258.50a1.45,1.45 0 1,0 2.90,0a1.45,1.45 0 1,0 -2.90,0M668.60,258.50a1.45,1.45 0 1,0 2.90,0a1.45,1.45 0 1,0 -2.90,0M678.69,258.50a1.45,1.45 0 1,0 2.90,0a1.45,1.45 0 1,0 -2.90,0M688.78,258.50a1.45,1.45 0 1,0 2.90,0a1.45,1.45 0 1,0 -2.90,0M698.87,258.50a1.45,1.45 0 1,0 2.90,0a1.45,1.45 0 1,0 -2.90,0M708.96,258.50a1.45,1.45 0 1,0 2.90,0a1.45,1.45 0 1,0 -2.90,0M719.05,258.50a1.45,1.45 0 1,0 2.90,0a1.45,1.45 0 1,0 -2.90,0" fill="#008000"/>
<polyline points="518.70,218.70 528.79,218.70 538.88,218.70 548.97,218.70 559.06,218.70 569.15,235.80 579.24,235.80 589.33,235.80 599.42,235.80 609.51,235.80 619.60,235.80 629.69,235.80 639.78,235.80 649.87,235.80 659.96,235.80 670.05,235.80 680.14,235.80 690.23,235.80 700.32,264.30 710.41,264.30 720.50,264.30" fill="none" stroke="#c000c0" stroke-width="0.9"/>
<path d="M517.25,218.70a1.45,1.45 0 1,0 2.90,0a1.45,1.45 0 1,0 -2.90,0M527.34,218.70a1.45,1.45 0 1,0 2.90,0a1.45,1.45 0 1,0 -2.90,0M537.43,218.70a1.45,1.45 0 1,0 2.90,0a1.45,1.45 0 1,0 -2.90,0M547.52,218.70a1.45,1.45 0 1,0 2.90,0a1.45,1.45 0 1,0 -2.90,0M557.61,218.70a1.45,1.45 0 1,0 2.90,0a1.45,1.45 0 1,0 -2.90,0M567.70,235.80a1.45,1.45 0 1,0 2.90,0a1.45,1.45 0 1,0 -2.90,0M577.79,235.80a1.45,1.45 0 1,0 2.90,0a1.45,1.45 0 1,0 -2.90,0M587.88,235.80a1.45,1.45 0 1,0 2.90,0a1.45,1.45 0 1,0 -2.90,0M597.97,235.80a1.45,1.45 0 1,0 2.90,0a1.45,1.45 0 1,0 -2.90,0M608.06,235.80a1.45,1.45 0 1,0 2.90,0a1.45,1.45 0 1,0 -2.90,0M618.15,235.80a1.45,1.45 0 1,0 2.90,0a1.45,1.45 0 1,0 -2.90,0M628.24,235.80a1.45,1.45 0 1,0 2.90,0a1.45,1.45 0 1,0 -2.90,0M638.33,235.80a1.45,1.45 0 1,0 2.90,0a1.45,1.45 0 1,0 -2.90,0M648.42,235.80a1.45,1.45 0 1,0 2.90,0a1.45,1.45 0 1,0 -2.90,0M658.51,235.80a1.45,1.45 0 1,0 2.90,0a1.45,1.45 0 1,0 -2.90,0M668.60,235.80a1.45,1.45 0 1,0 2.90,0a1.45,1.45 0 1,0 -2.90,0M678.69,235.80a1.45,1.45 0 1,0 2.90,0a1.45,1.45 0 1,0 -2.90,0M688.78,235.80a1.45,1.45 0 1,0 2.90,0a1.45,1.45 0 1,0 -2.90,0M698.87,264.30a1.45,1.45 0 1,0 2.90,0a1.45,1.45 0 1,0 -2.90,0M708.96,264.30a1.45,1.45 0 1,0 2.90,0a1.45,1.45 0 1,0 -2.90,0M719.05,264.30a1.45,1.45 0 1,0 2.90,0a1.45,1.45 0 1,0 -2.90,0" fill="#c000c0"/>
<polyline points="518.70,213.20 528.79,213.20 538.88,213.20 548.97,230.30 559.06,230.30 569.15,230.30 579.24,230.30 589.33,230.30 599.42,230.30 609.51,230.30 619.60,230.30 629.69,230.30 639.78,230.30 649.87,230.30 659.96,230.30 670.05,230.30 680.14,230.30 690.23,230.30 700.32,264.30 710.41,264.30 720.50,264.30" fill="none" stroke="#daa520" stroke-width="0.9"/>
<path d="M517.60,213.20a1.10,1.10 0 1,0 2.20,0a1.10,1.10 0 1,0 -2.20,0M527.69,213.20a1.10,1.10 0 1,0 2.20,0a1.10,1.10 0 1,0 -2.20,0M537.78,213.20a1.10,1.10 0 1,0 2.20,0a1.10,1.10 0 1,0 -2.20,0M547.87,230.30a1.10,1.10 0 1,0 2.20,0a1.10,1.10 0 1,0 -2.20,0M557.96,230.30a1.10,1.10 0 1,0 2.20,0a1.10,1.10 0 1,0 -2.20,0M568.05,230.30a1.10,1.10 0 1,0 2.20,0a1.10,1.10 0 1,0 -2.20,0M578.14,230.30a1.10,1.10 0 1,0 2.20,0a1.10,1.10 0 1,0 -2.20,0M588.23,230.30a1.10,1.10 0 1,0 2.20,0a1.10,1.10 0 1,0 -2.20,0M598.32,230.30a1.10,1.10 0 1,0 2.20,0a1.10,1.10 0 1,0 -2.20,0M608.41,230.30a1.10,1.10 0 1,0 2.20,0a1.10,1.10 0 1,0 -2.20,0M618.50,230.30a1.10,1.10 0 1,0 2.20,0a1.10,1.10 0 1,0 -2.20,0M628.59,230.30a1.10,1.10 0 1,0 2.20,0a1.10,1.10 0 1,0 -2.20,0M638.68,230.30a1.10,1.10 0 1,0 2.20,0a1.10,1.10 0 1,0 -2.20,0M648.77,230.30a1.10,1.10 0 1,0 2.20,0a1.10,1.10 0 1,0 -2.20,0M658.86,230.30a1.10,1.10 0 1,0 2.20,0a1.10,1.10 0 1,0 -2.20,0M668.95,230.30a1.10,1.10 0 1,0 2.20,0a1.10,1.10 0 1,0 -2.20,0M679.04,230.30a1.10,1.10 0 1,0 2.20,0a1.10,1.10 0 1,0 -2.20,0M689.13,230.30a1.10,1.10 0 1,0 2.20,0a1.10,1.10 0 1,0 -2.20,0M699.22,264.30a1.10,1.10 0 1,0 2.20,0a1.10,1.10 0 1,0 -2.20,0M709.31,264.30a1.10,1.10 0 1,0 2.20,0a1.10,1.10 0 1,0 -2.20,0M719.40,264.30a1.10,1.10 0 1,0 2.20,0a1.10,1.10 0 1,0 -2.20,0" fill="#daa520"/>
<polyline points="518.70,195.90 528.79,224.30 538.88,224.30 548.97,224.30 559.06,224.30 569.15,224.30 579.24,224.30 589.33,224.30 599.42,224.30 609.51,230.30 619.60,230.30 629.69,241.60 639.78,241.60 649.87,241.60 659.96,241.60 670.05,247.00 680.14,247.00 690.23,247.00 700.32,247.00 710.41,247.00 720.50,247.00" fill="none" stroke="#5046aa" stroke-width="0.9"/>
<path d="M517.55,194.75h2.30v2.30h-2.30ZM527.64,223.15h2.30v2.30h-2.30ZM537.73,223.15h2.30v2.30h-2.30ZM547.82,223.15h2.30v2.30h-2.30ZM557.91,223.15h2.30v2.30h-2.30ZM568.00,223.15h2.30v2.30h-2.30ZM578.09,223.15h2.30v2.30h-2.30ZM588.18,223.15h2.30v2.30h-2.30ZM598.27,223.15h2.30v2.30h-2.30ZM608.36,229.15h2.30v2.30h-2.30ZM618.45,229.15h2.30v2.30h-2.30ZM628.54,240.45h2.30v2.30h-2.30ZM638.63,240.45h2.30v2.30h-2.30ZM648.72,240.45h2.30v2.30h-2.30ZM658.81,240.45h2.30v2.30h-2.30ZM668.90,245.85h2.30v2.30h-2.30ZM678.99,245.85h2.30v2.30h-2.30ZM689.08,245.85h2.30v2.30h-2.30ZM699.17,245.85h2.30v2.30h-2.30ZM709.26,245.85h2.30v2.30h-2.30ZM719.35,245.85h2.30v2.30h-2.30Z" fill="#5046aa"/>
<polyline points="518.70,235.20 528.79,241.70 538.88,241.70 548.97,241.70 559.06,241.70 569.15,241.70 579.24,241.70 589.33,241.70 599.42,241.70 609.51,241.70 619.60,241.70 629.69,241.70 639.78,241.70 649.87,241.70 659.96,247.00 670.05,247.00 680.14,247.00 690.23,247.00 700.32,247.00 710.41,247.00 720.50,247.00" fill="none" stroke="#00ffff" stroke-width="0.9"/>
<path d="M517.25,235.20a1.45,1.45 0 1,0 2.90,0a1.45,1.45 0 1,0 -2.90,0M527.34,241.70a1.45,1.45 0 1,0 2.90,0a1.45,1.45 0 1,0 -2.90,0M537.43,241.70a1.45,1.45 0 1,0 2.90,0a1.45,1.45 0 1,0 -2.90,0M547.52,241.70a1.45,1.45 0 1,0 2.90,0a1.45,1.45 0 1,0 -2.90,0M557.61,241.70a1.45,1.45 0 1,0 2.90,0a1.45,1.45 0 1,0 -2.90,0M567.70,241.70a1.45,1.45 0 1,0 2.90,0a1.45,1.45 0 1,0 -2.90,0M577.79,241.70a1.45,1.45 0 1,0 2.90,0a1.45,1.45 0 1,0 -2.90,0M587.88,241.70a1.45,1.45 0 1,0 2.90,0a1.45,1.45 0 1,0 -2.90,0M597.97,241.70a1.45,1.45 0 1,0 2.90,0a1.45,1.45 0 1,0 -2.90,0M608.06,241.70a1.45,1.45 0 1,0 2.90,0a1.45,1.45 0 1,0 -2.90,0M618.15,241.70a1.45,1.45 0 1,0 2.90,0a1.45,1.45 0 1,0 -2.90,0M628.24,241.70a1.45,1.45 0 1,0 2.90,0a1.45,1.45 0 1,0 -2.90,0M638.33,241.70a1.45,1.45 0 1,0 2.90,0a1.45,1.45 0 1,0 -2.90,0M648.42,241.70a1.45,1.45 0 1,0 2.90,0a1.45,1.45 0 1,0 -2.90,0M658.51,247.00a1.45,1.45 0 1,0 2.90,0a1.45,1.45 0 1,0 -2.90,0M668.60,247.00a1.45,1.45 0 1,0 2.90,0a1.45,1.45 0 1,0 -2.90,0M678.69,247.00a1.45,1.45 0 1,0 2.90,0a1.45,1.45 0 1,0 -2.90,0M688.78,247.00a1.45,1.45 0 1,0 2.90,0a1.45,1.45 0 1,0 -2.90,0M698.87,247.00a1.45,1.45 0 1,0 2.90,0a1.45,1.45 0 1,0 -2.90,0M708.96,247.00a1.45,1.45 0 1,0 2.90,0a1.45,1.45 0 1,0 -2.90,0M719.05,247.00a1.45,1.45 0 1,0 2.90,0a1.45,1.45 0 1,0 -2.90,0" fill="#00ffff"/>
<polyline points="518.70,206.70 528.79,218.70 538.88,230.30 548.97,230.30 559.06,230.30 569.15,230.30 579.24,230.30 589.33,235.60 599.42,235.60 609.51,235.60 619.60,235.60 629.69,235.60 639.78,235.60 649.87,264.30 659.96,264.30 670.05,264.30 680.14,264.30 690.23,264.30 700.32,264.30 710.41,264.30 720.50,264.30" fill="none" stroke="#00ff00" stroke-width="0.9"/>
<path d="M517.25,206.70a1.45,1.45 0 1,0 2.90,0a1.45,1.45 0 1,0 -2.90,0M527.34,218.70a1.45,1.45 0 1,0 2.90,0a1.45,1.45 0 1,0 -2.90,0M537.43,230.30a1.45,1.45 0 1,0 2.90,0a1.45,1.45 0 1,0 -2.90,0M547.52,230.30a1.45,1.45 0 1,0 2.90,0a1.45,1.45 0 1,0 -2.90,0M557.61,230.30a1.45,1.45 0 1,0 2.90,0a1.45,1.45 0 1,0 -2.90,0M567.70,230.30a1.45,1.45 0 1,0 2.90,0a1.45,1.45 0 1,0 -2.90,0M577.79,230.30a1.45,1.45 0 1,0 2.90,0a1.45,1.45 0 1,0 -2.90,0M587.88,235.60a1.45,1.45 0 1,0 2.90,0a1.45,1.45 0 1,0 -2.90,0M597.97,235.60a1.45,1.45 0 1,0 2.90,0a1.45,1.45 0 1,0 -2.90,0M608.06,235.60a1.45,1.45 0 1,0 2.90,0a1.45,1.45 0 1,0 -2.90,0M618.15,235.60a1.45,1.45 0 1,0 2.90,0a1.45,1.45 0 1,0 -2.90,0M628.24,235.60a1.45,1.45 0 1,0 2.90,0a1.45,1.45 0 1,0 -2.90,0M638.33,235.60a1.45,1.45 0 1,0 2.90,0a1.45,1.45 0 1,0 -2.90,0M648.42,264.30a1.45,1.45 0 1,0 2.90,0a1.45,1.45 0 1,0 -2.90,0M658.51,264.30a1.45,1.45 0 1,0 2.90,0a1.45,1.45 0 1,0 -2.90,0M668.60,264.30a1.45,1.45 0 1,0 2.90,0a1.45,1.45 0 1,0 -2.90,0M678.69,264.30a1.45,1.45 0 1,0 2.90,0a1.45,1.45 0 1,0 -2.90,0M688.78,264.30a1.45,1.45 0 1,0 2.90,0a1.45,1.45 0 1,0 -2.90,0M698.87,264.30a1.45,1.45 0 1,0 2.90,0a1.45,1.45 0 1,0 -2.90,0M708.96,264.30a1.45,1.45 0 1,0 2.90,0a1.45,1.45 0 1,0 -2.90,0M719.05,264.30a1.45,1.45 0 1,0 2.90,0a1.45,1.45 0 1,0 -2.90,0" fill="#00ff00"/>
</g>
<rect x="518.7" y="178.8" width="201.80" height="131.20" fill="none" stroke="#3a3a3a" stroke-width="0.9"/>
<line x1="518.70" y1="310.0" x2="518.70" y2="312.20" stroke="#3a3a3a" stroke-width="0.8"/>
<text x="518.70" y="319.60" font-size="6.30" text-anchor="middle" textLength="9.54" lengthAdjust="spacingAndGlyphs">0.0</text>
<line x1="543.93" y1="310.0" x2="543.93" y2="312.20" stroke="#3a3a3a" stroke-width="0.8"/>
<text x="543.93" y="319.60" font-size="6.30" text-anchor="middle" textLength="9.54" lengthAdjust="spacingAndGlyphs">2.5</text>
<line x1="569.15" y1="310.0" x2="569.15" y2="312.20" stroke="#3a3a3a" stroke-width="0.8"/>
<text x="569.15" y="319.60" font-size="6.30" text-anchor="middle" textLength="9.54" lengthAdjust="spacingAndGlyphs">5.0</text>
<line x1="594.38" y1="310.0" x2="594.38" y2="312.20" stroke="#3a3a3a" stroke-width="0.8"/>
<text x="594.38" y="319.60" font-size="6.30" text-anchor="middle" textLength="9.54" lengthAdjust="spacingAndGlyphs">7.5</text>
<line x1="619.60" y1="310.0" x2="619.60" y2="312.20" stroke="#3a3a3a" stroke-width="0.8"/>
<text x="619.60" y="319.60" font-size="6.30" text-anchor="middle" textLength="13.36" lengthAdjust="spacingAndGlyphs">10.0</text>
<line x1="644.83" y1="310.0" x2="644.83" y2="312.20" stroke="#3a3a3a" stroke-width="0.8"/>
<text x="644.83" y="319.60" font-size="6.30" text-anchor="middle" textLength="13.36" lengthAdjust="spacingAndGlyphs">12.5</text>
<line x1="670.05" y1="310.0" x2="670.05" y2="312.20" stroke="#3a3a3a" stroke-width="0.8"/>
<text x="670.05" y="319.60" font-size="6.30" text-anchor="middle" textLength="13.36" lengthAdjust="spacingAndGlyphs">15.0</text>
<line x1="695.27" y1="310.0" x2="695.27" y2="312.20" stroke="#3a3a3a" stroke-width="0.8"/>
<text x="695.27" y="319.60" font-size="6.30" text-anchor="middle" textLength="13.36" lengthAdjust="spacingAndGlyphs">17.5</text>
<line x1="720.50" y1="310.0" x2="720.50" y2="312.20" stroke="#3a3a3a" stroke-width="0.8"/>
<text x="720.50" y="319.60" font-size="6.30" text-anchor="middle" textLength="13.36" lengthAdjust="spacingAndGlyphs">20.0</text>
<text x="619.60" y="327.20" font-size="6.30" text-anchor="middle" textLength="28.58" lengthAdjust="spacingAndGlyphs">Iterations</text>
<line x1="516.50" y1="308.50" x2="518.7" y2="308.50" stroke="#3a3a3a" stroke-width="0.8"/>
<text x="514.50" y="310.80" font-size="6.30" text-anchor="end" textLength="13.36" lengthAdjust="spacingAndGlyphs">0.03</text>
<line x1="516.50" y1="291.03" x2="518.7" y2="291.03" stroke="#3a3a3a" stroke-width="0.8"/>
<text x="514.50" y="293.33" font-size="6.30" text-anchor="end" textLength="13.36" lengthAdjust="spacingAndGlyphs">0.04</text>
<line x1="516.50" y1="273.56" x2="518.7" y2="273.56" stroke="#3a3a3a" stroke-width="0.8"/>
<text x="514.50" y="275.86" font-size="6.30" text-anchor="end" textLength="13.36" lengthAdjust="spacingAndGlyphs">0.05</text>
<line x1="516.50" y1="256.09" x2="518.7" y2="256.09" stroke="#3a3a3a" stroke-width="0.8"/>
<text x="514.50" y="258.39" font-size="6.30" text-anchor="end" textLength="13.36" lengthAdjust="spacingAndGlyphs">0.06</text>
<line x1="516.50" y1="238.61" x2="518.7" y2="238.61" stroke="#3a3a3a" stroke-width="0.8"/>
<text x="514.50" y="240.91" font-size="6.30" text-anchor="end" textLength="13.36" lengthAdjust="spacingAndGlyphs">0.07</text>
<line x1="516.50" y1="221.14" x2="518.7" y2="221.14" stroke="#3a3a3a" stroke-width="0.8"/>
<text x="514.50" y="223.44" font-size="6.30" text-anchor="end" textLength="13.36" lengthAdjust="spacingAndGlyphs">0.08</text>
<line x1="516.50" y1="203.67" x2="518.7" y2="203.67" stroke="#3a3a3a" stroke-width="0.8"/>
<text x="514.50" y="205.97" font-size="6.30" text-anchor="end" textLength="13.36" lengthAdjust="spacingAndGlyphs">0.09</text>
<line x1="516.50" y1="186.20" x2="518.7" y2="186.20" stroke="#3a3a3a" stroke-width="0.8"/>
<text x="514.50" y="188.50" font-size="6.30" text-anchor="end" textLength="13.36" lengthAdjust="spacingAndGlyphs">0.10</text>
<g><text x="0" y="0" font-size="6.30" text-anchor="middle" textLength="90.28" lengthAdjust="spacingAndGlyphs" transform="translate(497.50,244.40) rotate(-90)">Objective (classification error)</text></g>
<rect x="659.10" y="181.80" width="58.40" height="72.20" rx="1.2" fill="#fff" fill-opacity="0.8" stroke="#ccc" stroke-opacity="0.8" stroke-width="0.7"/>
<line x1="661.50" y1="186.70" x2="673.50" y2="186.70" stroke="#ff0000" stroke-width="0.9" stroke-dasharray="3.3,1.45"/>
<path d="M666.10,185.10L669.20,186.70L666.10,188.30Z" fill="#ff0000"/>
<text x="678.30" y="188.90" font-size="6.30" text-anchor="start" textLength="36.75" lengthAdjust="spacingAndGlyphs">ELM-MS-AFS</text>
<line x1="661.50" y1="195.53" x2="673.50" y2="195.53" stroke="#0000ff" stroke-width="0.9"/>
<path d="M666.05,195.53a1.45,1.45 0 1,0 2.90,0a1.45,1.45 0 1,0 -2.90,0" fill="#0000ff"/>
<text x="678.30" y="197.73" font-size="6.30" text-anchor="start" textLength="26.65" lengthAdjust="spacingAndGlyphs">ELM-ABC</text>
<line x1="661.50" y1="204.36" x2="673.50" y2="204.36" stroke="#008000" stroke-width="0.9"/>
<path d="M666.05,204.36a1.45,1.45 0 1,0 2.90,0a1.45,1.45 0 1,0 -2.90,0" fill="#008000"/>
<text x="678.30" y="206.56" font-size="6.30" text-anchor="start" textLength="21.48" lengthAdjust="spacingAndGlyphs">ELM-FA</text>
<line x1="661.50" y1="213.19" x2="673.50" y2="213.19" stroke="#c000c0" stroke-width="0.9"/>
<path d="M666.05,213.19a1.45,1.45 0 1,0 2.90,0a1.45,1.45 0 1,0 -2.90,0" fill="#c000c0"/>
<text x="678.30" y="215.39" font-size="6.30" text-anchor="start" textLength="26.58" lengthAdjust="spacingAndGlyphs">ELM-SCA</text>
<line x1="661.50" y1="222.02" x2="673.50" y2="222.02" stroke="#daa520" stroke-width="0.9"/>
<path d="M666.40,222.02a1.10,1.10 0 1,0 2.20,0a1.10,1.10 0 1,0 -2.20,0" fill="#daa520"/>
<text x="678.30" y="224.22" font-size="6.30" text-anchor="start" textLength="22.48" lengthAdjust="spacingAndGlyphs">ELM-BA</text>
<line x1="661.50" y1="230.85" x2="673.50" y2="230.85" stroke="#5046aa" stroke-width="0.9"/>
<path d="M666.35,229.70h2.30v2.30h-2.30Z" fill="#5046aa"/>
<text x="678.30" y="233.05" font-size="6.30" text-anchor="start" textLength="28.22" lengthAdjust="spacingAndGlyphs">ELM-HHO</text>
<line x1="661.50" y1="239.68" x2="673.50" y2="239.68" stroke="#00ffff" stroke-width="0.9"/>
<path d="M666.05,239.68a1.45,1.45 0 1,0 2.90,0a1.45,1.45 0 1,0 -2.90,0" fill="#00ffff"/>
<text x="678.30" y="241.88" font-size="6.30" text-anchor="start" textLength="28.89" lengthAdjust="spacingAndGlyphs">ELM-WOA</text>
<line x1="661.50" y1="248.51" x2="673.50" y2="248.51" stroke="#00ff00" stroke-width="0.9"/>
<path d="M666.05,248.51a1.45,1.45 0 1,0 2.90,0a1.45,1.45 0 1,0 -2.90,0" fill="#00ff00"/>
<text x="678.30" y="250.71" font-size="6.30" text-anchor="start" textLength="26.90" lengthAdjust="spacingAndGlyphs">ELM-IWO</text>
<text x="138.60" y="339.07" font-size="8.03" text-anchor="middle" textLength="127.29" lengthAdjust="spacingAndGlyphs">Iris 30 neurons convergence graphs</text>
<clipPath id="c6"><rect x="39.8" y="342.3" width="197.60" height="128.10"/></clipPath>
<g clip-path="url(#c6)">
<polyline points="39.80,406.40 49.68,406.40 59.56,406.40 69.44,406.40 79.32,406.40 89.20,406.40 99.08,406.40 108.96,406.40 118.84,406.40 128.72,406.40 138.60,406.40 148.48,406.40 158.36,406.40 168.24,406.40 178.12,406.40 188.00,406.40 197.88,406.40 207.76,406.40 217.64,406.40 227.52,406.40 237.40,406.40" fill="none" stroke="#ff0000" stroke-width="0.9" stroke-dasharray="3.3,1.45"/>
<path d="M38.43,404.83L41.46,406.40L38.43,407.97ZM48.31,404.83L51.34,406.40L48.31,407.97ZM58.19,404.83L61.22,406.40L58.19,407.97ZM68.07,404.83L71.10,406.40L68.07,407.97ZM77.95,404.83L80.98,406.40L77.95,407.97ZM87.83,404.83L90.86,406.40L87.83,407.97ZM97.71,404.83L100.74,406.40L97.71,407.97ZM107.59,404.83L110.62,406.40L107.59,407.97ZM117.47,404.83L120.50,406.40L117.47,407.97ZM127.35,404.83L130.38,406.40L127.35,407.97ZM137.23,404.83L140.26,406.40L137.23,407.97ZM147.11,404.83L150.14,406.40L147.11,407.97ZM156.99,404.83L160.02,406.40L156.99,407.97ZM166.87,404.83L169.90,406.40L166.87,407.97ZM176.75,404.83L179.78,406.40L176.75,407.97ZM186.63,404.83L189.66,406.40L186.63,407.97ZM196.51,404.83L199.54,406.40L196.51,407.97ZM206.39,404.83L209.42,406.40L206.39,407.97ZM216.27,404.83L219.30,406.40L216.27,407.97ZM226.15,404.83L229.18,406.40L226.15,407.97ZM236.03,404.83L239.06,406.40L236.03,407.97Z" fill="#ff0000"/>
<polyline points="39.80,406.40 49.68,406.40 59.56,406.40 69.44,406.40 79.32,406.40 89.20,406.40 99.08,406.40 108.96,406.40 118.84,406.40 128.72,406.40 138.60,406.40 148.48,406.40 158.36,406.40 168.24,406.40 178.12,406.40 188.00,406.40 197.88,406.40 207.76,406.40 217.64,406.40 227.52,406.40 237.40,406.40" fill="none" stroke="#0000ff" stroke-width="0.9"/>
<path d="M38.38,406.40a1.42,1.42 0 1,0 2.84,0a1.42,1.42 0 1,0 -2.84,0M48.26,406.40a1.42,1.42 0 1,0 2.84,0a1.42,1.42 0 1,0 -2.84,0M58.14,406.40a1.42,1.42 0 1,0 2.84,0a1.42,1.42 0 1,0 -2.84,0M68.02,406.40a1.42,1.42 0 1,0 2.84,0a1.42,1.42 0 1,0 -2.84,0M77.90,406.40a1.42,1.42 0 1,0 2.84,0a1.42,1.42 0 1,0 -2.84,0M87.78,406.40a1.42,1.42 0 1,0 2.84,0a1.42,1.42 0 1,0 -2.84,0M97.66,406.40a1.42,1.42 0 1,0 2.84,0a1.42,1.42 0 1,0 -2.84,0M107.54,406.40a1.42,1.42 0 1,0 2.84,0a1.42,1.42 0 1,0 -2.84,0M117.42,406.40a1.42,1.42 0 1,0 2.84,0a1.42,1.42 0 1,0 -2.84,0M127.30,406.40a1.42,1.42 0 1,0 2.84,0a1.42,1.42 0 1,0 -2.84,0M137.18,406.40a1.42,1.42 0 1,0 2.84,0a1.42,1.42 0 1,0 -2.84,0M147.06,406.40a1.42,1.42 0 1,0 2.84,0a1.42,1.42 0 1,0 -2.84,0M156.94,406.40a1.42,1.42 0 1,0 2.84,0a1.42,1.42 0 1,0 -2.84,0M166.82,406.40a1.42,1.42 0 1,0 2.84,0a1.42,1.42 0 1,0 -2.84,0M176.70,406.40a1.42,1.42 0 1,0 2.84,0a1.42,1.42 0 1,0 -2.84,0M186.58,406.40a1.42,1.42 0 1,0 2.84,0a1.42,1.42 0 1,0 -2.84,0M196.46,406.40a1.42,1.42 0 1,0 2.84,0a1.42,1.42 0 1,0 -2.84,0M206.34,406.40a1.42,1.42 0 1,0 2.84,0a1.42,1.42 0 1,0 -2.84,0M216.22,406.40a1.42,1.42 0 1,0 2.84,0a1.42,1.42 0 1,0 -2.84,0M226.10,406.40a1.42,1.42 0 1,0 2.84,0a1.42,1.42 0 1,0 -2.84,0M235.98,406.40a1.42,1.42 0 1,0 2.84,0a1.42,1.42 0 1,0 -2.84,0" fill="#0000ff"/>
<polyline points="39.80,406.40 49.68,406.40 59.56,406.40 69.44,406.40 79.32,406.40 89.20,406.40 99.08,406.40 108.96,406.40 118.84,406.40 128.72,406.40 138.60,406.40 148.48,406.40 158.36,406.40 168.24,406.40 178.12,406.40 188.00,406.40 197.88,406.40 207.76,406.40 217.64,406.40 227.52,406.40 237.40,406.40" fill="none" stroke="#008000" stroke-width="0.9"/>
<path d="M38.38,406.40a1.42,1.42 0 1,0 2.84,0a1.42,1.42 0 1,0 -2.84,0M48.26,406.40a1.42,1.42 0 1,0 2.84,0a1.42,1.42 0 1,0 -2.84,0M58.14,406.40a1.42,1.42 0 1,0 2.84,0a1.42,1.42 0 1,0 -2.84,0M68.02,406.40a1.42,1.42 0 1,0 2.84,0a1.42,1.42 0 1,0 -2.84,0M77.90,406.40a1.42,1.42 0 1,0 2.84,0a1.42,1.42 0 1,0 -2.84,0M87.78,406.40a1.42,1.42 0 1,0 2.84,0a1.42,1.42 0 1,0 -2.84,0M97.66,406.40a1.42,1.42 0 1,0 2.84,0a1.42,1.42 0 1,0 -2.84,0M107.54,406.40a1.42,1.42 0 1,0 2.84,0a1.42,1.42 0 1,0 -2.84,0M117.42,406.40a1.42,1.42 0 1,0 2.84,0a1.42,1.42 0 1,0 -2.84,0M127.30,406.40a1.42,1.42 0 1,0 2.84,0a1.42,1.42 0 1,0 -2.84,0M137.18,406.40a1.42,1.42 0 1,0 2.84,0a1.42,1.42 0 1,0 -2.84,0M147.06,406.40a1.42,1.42 0 1,0 2.84,0a1.42,1.42 0 1,0 -2.84,0M156.94,406.40a1.42,1.42 0 1,0 2.84,0a1.42,1.42 0 1,0 -2.84,0M166.82,406.40a1.42,1.42 0 1,0 2.84,0a1.42,1.42 0 1,0 -2.84,0M176.70,406.40a1.42,1.42 0 1,0 2.84,0a1.42,1.42 0 1,0 -2.84,0M186.58,406.40a1.42,1.42 0 1,0 2.84,0a1.42,1.42 0 1,0 -2.84,0M196.46,406.40a1.42,1.42 0 1,0 2.84,0a1.42,1.42 0 1,0 -2.84,0M206.34,406.40a1.42,1.42 0 1,0 2.84,0a1.42,1.42 0 1,0 -2.84,0M216.22,406.40a1.42,1.42 0 1,0 2.84,0a1.42,1.42 0 1,0 -2.84,0M226.10,406.40a1.42,1.42 0 1,0 2.84,0a1.42,1.42 0 1,0 -2.84,0M235.98,406.40a1.42,1.42 0 1,0 2.84,0a1.42,1.42 0 1,0 -2.84,0" fill="#008000"/>
<polyline points="39.80,406.40 49.68,406.40 59.56,406.40 69.44,406.40 79.32,406.40 89.20,406.40 99.08,406.40 108.96,406.40 118.84,406.40 128.72,406.40 138.60,406.40 148.48,406.40 158.36,406.40 168.24,406.40 178.12,406.40 188.00,406.40 197.88,406.40 207.76,406.40 217.64,406.40 227.52,406.40 237.40,406.40" fill="none" stroke="#c000c0" stroke-width="0.9"/>
<path d="M38.38,406.40a1.42,1.42 0 1,0 2.84,0a1.42,1.42 0 1,0 -2.84,0M48.26,406.40a1.42,1.42 0 1,0 2.84,0a1.42,1.42 0 1,0 -2.84,0M58.14,406.40a1.42,1.42 0 1,0 2.84,0a1.42,1.42 0 1,0 -2.84,0M68.02,406.40a1.42,1.42 0 1,0 2.84,0a1.42,1.42 0 1,0 -2.84,0M77.90,406.40a1.42,1.42 0 1,0 2.84,0a1.42,1.42 0 1,0 -2.84,0M87.78,406.40a1.42,1.42 0 1,0 2.84,0a1.42,1.42 0 1,0 -2.84,0M97.66,406.40a1.42,1.42 0 1,0 2.84,0a1.42,1.42 0 1,0 -2.84,0M107.54,406.40a1.42,1.42 0 1,0 2.84,0a1.42,1.42 0 1,0 -2.84,0M117.42,406.40a1.42,1.42 0 1,0 2.84,0a1.42,1.42 0 1,0 -2.84,0M127.30,406.40a1.42,1.42 0 1,0 2.84,0a1.42,1.42 0 1,0 -2.84,0M137.18,406.40a1.42,1.42 0 1,0 2.84,0a1.42,1.42 0 1,0 -2.84,0M147.06,406.40a1.42,1.42 0 1,0 2.84,0a1.42,1.42 0 1,0 -2.84,0M156.94,406.40a1.42,1.42 0 1,0 2.84,0a1.42,1.42 0 1,0 -2.84,0M166.82,406.40a1.42,1.42 0 1,0 2.84,0a1.42,1.42 0 1,0 -2.84,0M176.70,406.40a1.42,1.42 0 1,0 2.84,0a1.42,1.42 0 1,0 -2.84,0M186.58,406.40a1.42,1.42 0 1,0 2.84,0a1.42,1.42 0 1,0 -2.84,0M196.46,406.40a1.42,1.42 0 1,0 2.84,0a1.42,1.42 0 1,0 -2.84,0M206.34,406.40a1.42,1.42 0 1,0 2.84,0a1.42,1.42 0 1,0 -2.84,0M216.22,406.40a1.42,1.42 0 1,0 2.84,0a1.42,1.42 0 1,0 -2.84,0M226.10,406.40a1.42,1.42 0 1,0 2.84,0a1.42,1.42 0 1,0 -2.84,0M235.98,406.40a1.42,1.42 0 1,0 2.84,0a1.42,1.42 0 1,0 -2.84,0" fill="#c000c0"/>
<polyline points="39.80,406.40 49.68,406.40 59.56,406.40 69.44,406.40 79.32,406.40 89.20,406.40 99.08,406.40 108.96,406.40 118.84,406.40 128.72,406.40 138.60,406.40 148.48,406.40 158.36,406.40 168.24,406.40 178.12,406.40 188.00,406.40 197.88,406.40 207.76,406.40 217.64,406.40 227.52,406.40 237.40,406.40" fill="none" stroke="#daa520" stroke-width="0.9"/>
<path d="M38.72,406.40a1.08,1.08 0 1,0 2.15,0a1.08,1.08 0 1,0 -2.15,0M48.60,406.40a1.08,1.08 0 1,0 2.15,0a1.08,1.08 0 1,0 -2.15,0M58.48,406.40a1.08,1.08 0 1,0 2.15,0a1.08,1.08 0 1,0 -2.15,0M68.36,406.40a1.08,1.08 0 1,0 2.15,0a1.08,1.08 0 1,0 -2.15,0M78.24,406.40a1.08,1.08 0 1,0 2.15,0a1.08,1.08 0 1,0 -2.15,0M88.12,406.40a1.08,1.08 0 1,0 2.15,0a1.08,1.08 0 1,0 -2.15,0M98.00,406.40a1.08,1.08 0 1,0 2.15,0a1.08,1.08 0 1,0 -2.15,0M107.88,406.40a1.08,1.08 0 1,0 2.15,0a1.08,1.08 0 1,0 -2.15,0M117.76,406.40a1.08,1.08 0 1,0 2.15,0a1.08,1.08 0 1,0 -2.15,0M127.64,406.40a1.08,1.08 0 1,0 2.15,0a1.08,1.08 0 1,0 -2.15,0M137.52,406.40a1.08,1.08 0 1,0 2.15,0a1.08,1.08 0 1,0 -2.15,0M147.40,406.40a1.08,1.08 0 1,0 2.15,0a1.08,1.08 0 1,0 -2.15,0M157.28,406.40a1.08,1.08 0 1,0 2.15,0a1.08,1.08 0 1,0 -2.15,0M167.16,406.40a1.08,1.08 0 1,0 2.15,0a1.08,1.08 0 1,0 -2.15,0M177.04,406.40a1.08,1.08 0 1,0 2.15,0a1.08,1.08 0 1,0 -2.15,0M186.92,406.40a1.08,1.08 0 1,0 2.15,0a1.08,1.08 0 1,0 -2.15,0M196.80,406.40a1.08,1.08 0 1,0 2.15,0a1.08,1.08 0 1,0 -2.15,0M206.68,406.40a1.08,1.08 0 1,0 2.15,0a1.08,1.08 0 1,0 -2.15,0M216.56,406.40a1.08,1.08 0 1,0 2.15,0a1.08,1.08 0 1,0 -2.15,0M226.44,406.40a1.08,1.08 0 1,0 2.15,0a1.08,1.08 0 1,0 -2.15,0M236.32,406.40a1.08,1.08 0 1,0 2.15,0a1.08,1.08 0 1,0 -2.15,0" fill="#daa520"/>
<polyline points="39.80,406.40 49.68,406.40 59.56,406.40 69.44,406.40 79.32,406.40 89.20,406.40 99.08,406.40 108.96,406.40 118.84,406.40 128.72,406.40 138.60,406.40 148.48,406.40 158.36,406.40 168.24,406.40 178.12,406.40 188.00,406.40 197.88,406.40 207.76,406.40 217.64,406.40 227.52,406.40 237.40,406.40" fill="none" stroke="#5046aa" stroke-width="0.9"/>
<path d="M38.67,405.27h2.25v2.25h-2.25ZM48.55,405.27h2.25v2.25h-2.25ZM58.43,405.27h2.25v2.25h-2.25ZM68.31,405.27h2.25v2.25h-2.25ZM78.19,405.27h2.25v2.25h-2.25ZM88.07,405.27h2.25v2.25h-2.25ZM97.95,405.27h2.25v2.25h-2.25ZM107.83,405.27h2.25v2.25h-2.25ZM117.71,405.27h2.25v2.25h-2.25ZM127.59,405.27h2.25v2.25h-2.25ZM137.47,405.27h2.25v2.25h-2.25ZM147.35,405.27h2.25v2.25h-2.25ZM157.23,405.27h2.25v2.25h-2.25ZM167.11,405.27h2.25v2.25h-2.25ZM176.99,405.27h2.25v2.25h-2.25ZM186.87,405.27h2.25v2.25h-2.25ZM196.75,405.27h2.25v2.25h-2.25ZM206.63,405.27h2.25v2.25h-2.25ZM216.51,405.27h2.25v2.25h-2.25ZM226.39,405.27h2.25v2.25h-2.25ZM236.27,405.27h2.25v2.25h-2.25Z" fill="#5046aa"/>
<polyline points="39.80,406.40 49.68,406.40 59.56,406.40 69.44,406.40 79.32,406.40 89.20,406.40 99.08,406.40 108.96,406.40 118.84,406.40 128.72,406.40 138.60,406.40 148.48,406.40 158.36,406.40 168.24,406.40 178.12,406.40 188.00,406.40 197.88,406.40 207.76,406.40 217.64,406.40 227.52,406.40 237.40,406.40" fill="none" stroke="#00ffff" stroke-width="0.9"/>
<path d="M38.38,406.40a1.42,1.42 0 1,0 2.84,0a1.42,1.42 0 1,0 -2.84,0M48.26,406.40a1.42,1.42 0 1,0 2.84,0a1.42,1.42 0 1,0 -2.84,0M58.14,406.40a1.42,1.42 0 1,0 2.84,0a1.42,1.42 0 1,0 -2.84,0M68.02,406.40a1.42,1.42 0 1,0 2.84,0a1.42,1.42 0 1,0 -2.84,0M77.90,406.40a1.42,1.42 0 1,0 2.84,0a1.42,1.42 0 1,0 -2.84,0M87.78,406.40a1.42,1.42 0 1,0 2.84,0a1.42,1.42 0 1,0 -2.84,0M97.66,406.40a1.42,1.42 0 1,0 2.84,0a1.42,1.42 0 1,0 -2.84,0M107.54,406.40a1.42,1.42 0 1,0 2.84,0a1.42,1.42 0 1,0 -2.84,0M117.42,406.40a1.42,1.42 0 1,0 2.84,0a1.42,1.42 0 1,0 -2.84,0M127.30,406.40a1.42,1.42 0 1,0 2.84,0a1.42,1.42 0 1,0 -2.84,0M137.18,406.40a1.42,1.42 0 1,0 2.84,0a1.42,1.42 0 1,0 -2.84,0M147.06,406.40a1.42,1.42 0 1,0 2.84,0a1.42,1.42 0 1,0 -2.84,0M156.94,406.40a1.42,1.42 0 1,0 2.84,0a1.42,1.42 0 1,0 -2.84,0M166.82,406.40a1.42,1.42 0 1,0 2.84,0a1.42,1.42 0 1,0 -2.84,0M176.70,406.40a1.42,1.42 0 1,0 2.84,0a1.42,1.42 0 1,0 -2.84,0M186.58,406.40a1.42,1.42 0 1,0 2.84,0a1.42,1.42 0 1,0 -2.84,0M196.46,406.40a1.42,1.42 0 1,0 2.84,0a1.42,1.42 0 1,0 -2.84,0M206.34,406.40a1.42,1.42 0 1,0 2.84,0a1.42,1.42 0 1,0 -2.84,0M216.22,406.40a1.42,1.42 0 1,0 2.84,0a1.42,1.42 0 1,0 -2.84,0M226.10,406.40a1.42,1.42 0 1,0 2.84,0a1.42,1.42 0 1,0 -2.84,0M235.98,406.40a1.42,1.42 0 1,0 2.84,0a1.42,1.42 0 1,0 -2.84,0" fill="#00ffff"/>
<polyline points="39.80,406.40 49.68,406.40 59.56,406.40 69.44,406.40 79.32,406.40 89.20,406.40 99.08,406.40 108.96,406.40 118.84,406.40 128.72,406.40 138.60,406.40 148.48,406.40 158.36,406.40 168.24,406.40 178.12,406.40 188.00,406.40 197.88,406.40 207.76,406.40 217.64,406.40 227.52,406.40 237.40,406.40" fill="none" stroke="#00ff00" stroke-width="0.9"/>
<path d="M38.38,406.40a1.42,1.42 0 1,0 2.84,0a1.42,1.42 0 1,0 -2.84,0M48.26,406.40a1.42,1.42 0 1,0 2.84,0a1.42,1.42 0 1,0 -2.84,0M58.14,406.40a1.42,1.42 0 1,0 2.84,0a1.42,1.42 0 1,0 -2.84,0M68.02,406.40a1.42,1.42 0 1,0 2.84,0a1.42,1.42 0 1,0 -2.84,0M77.90,406.40a1.42,1.42 0 1,0 2.84,0a1.42,1.42 0 1,0 -2.84,0M87.78,406.40a1.42,1.42 0 1,0 2.84,0a1.42,1.42 0 1,0 -2.84,0M97.66,406.40a1.42,1.42 0 1,0 2.84,0a1.42,1.42 0 1,0 -2.84,0M107.54,406.40a1.42,1.42 0 1,0 2.84,0a1.42,1.42 0 1,0 -2.84,0M117.42,406.40a1.42,1.42 0 1,0 2.84,0a1.42,1.42 0 1,0 -2.84,0M127.30,406.40a1.42,1.42 0 1,0 2.84,0a1.42,1.42 0 1,0 -2.84,0M137.18,406.40a1.42,1.42 0 1,0 2.84,0a1.42,1.42 0 1,0 -2.84,0M147.06,406.40a1.42,1.42 0 1,0 2.84,0a1.42,1.42 0 1,0 -2.84,0M156.94,406.40a1.42,1.42 0 1,0 2.84,0a1.42,1.42 0 1,0 -2.84,0M166.82,406.40a1.42,1.42 0 1,0 2.84,0a1.42,1.42 0 1,0 -2.84,0M176.70,406.40a1.42,1.42 0 1,0 2.84,0a1.42,1.42 0 1,0 -2.84,0M186.58,406.40a1.42,1.42 0 1,0 2.84,0a1.42,1.42 0 1,0 -2.84,0M196.46,406.40a1.42,1.42 0 1,0 2.84,0a1.42,1.42 0 1,0 -2.84,0M206.34,406.40a1.42,1.42 0 1,0 2.84,0a1.42,1.42 0 1,0 -2.84,0M216.22,406.40a1.42,1.42 0 1,0 2.84,0a1.42,1.42 0 1,0 -2.84,0M226.10,406.40a1.42,1.42 0 1,0 2.84,0a1.42,1.42 0 1,0 -2.84,0M235.98,406.40a1.42,1.42 0 1,0 2.84,0a1.42,1.42 0 1,0 -2.84,0" fill="#00ff00"/>
</g>
<rect x="39.8" y="342.3" width="197.60" height="128.10" fill="none" stroke="#3a3a3a" stroke-width="0.9"/>
<line x1="39.80" y1="470.4" x2="39.80" y2="472.55" stroke="#3a3a3a" stroke-width="0.8"/>
<text x="39.80" y="479.80" font-size="6.17" text-anchor="middle" textLength="9.34" lengthAdjust="spacingAndGlyphs">0.0</text>
<line x1="64.50" y1="470.4" x2="64.50" y2="472.55" stroke="#3a3a3a" stroke-width="0.8"/>
<text x="64.50" y="479.80" font-size="6.17" text-anchor="middle" textLength="9.34" lengthAdjust="spacingAndGlyphs">2.5</text>
<line x1="89.20" y1="470.4" x2="89.20" y2="472.55" stroke="#3a3a3a" stroke-width="0.8"/>
<text x="89.20" y="479.80" font-size="6.17" text-anchor="middle" textLength="9.34" lengthAdjust="spacingAndGlyphs">5.0</text>
<line x1="113.90" y1="470.4" x2="113.90" y2="472.55" stroke="#3a3a3a" stroke-width="0.8"/>
<text x="113.90" y="479.80" font-size="6.17" text-anchor="middle" textLength="9.34" lengthAdjust="spacingAndGlyphs">7.5</text>
<line x1="138.60" y1="470.4" x2="138.60" y2="472.55" stroke="#3a3a3a" stroke-width="0.8"/>
<text x="138.60" y="479.80" font-size="6.17" text-anchor="middle" textLength="13.08" lengthAdjust="spacingAndGlyphs">10.0</text>
<line x1="163.30" y1="470.4" x2="163.30" y2="472.55" stroke="#3a3a3a" stroke-width="0.8"/>
<text x="163.30" y="479.80" font-size="6.17" text-anchor="middle" textLength="13.08" lengthAdjust="spacingAndGlyphs">12.5</text>
<line x1="188.00" y1="470.4" x2="188.00" y2="472.55" stroke="#3a3a3a" stroke-width="0.8"/>
<text x="188.00" y="479.80" font-size="6.17" text-anchor="middle" textLength="13.08" lengthAdjust="spacingAndGlyphs">15.0</text>
<line x1="212.70" y1="470.4" x2="212.70" y2="472.55" stroke="#3a3a3a" stroke-width="0.8"/>
<text x="212.70" y="479.80" font-size="6.17" text-anchor="middle" textLength="13.08" lengthAdjust="spacingAndGlyphs">17.5</text>
<line x1="237.40" y1="470.4" x2="237.40" y2="472.55" stroke="#3a3a3a" stroke-width="0.8"/>
<text x="237.40" y="479.80" font-size="6.17" text-anchor="middle" textLength="13.08" lengthAdjust="spacingAndGlyphs">20.0</text>
<text x="138.60" y="487.24" font-size="6.17" text-anchor="middle" textLength="27.98" lengthAdjust="spacingAndGlyphs">Iterations</text>
<line x1="37.65" y1="453.10" x2="39.8" y2="453.10" stroke="#3a3a3a" stroke-width="0.8"/>
<text x="35.69" y="455.35" font-size="6.17" text-anchor="end" textLength="18.00" lengthAdjust="spacingAndGlyphs">−0.04</text>
<line x1="37.65" y1="429.73" x2="39.8" y2="429.73" stroke="#3a3a3a" stroke-width="0.8"/>
<text x="35.69" y="431.98" font-size="6.17" text-anchor="end" textLength="18.00" lengthAdjust="spacingAndGlyphs">−0.02</text>
<line x1="37.65" y1="406.35" x2="39.8" y2="406.35" stroke="#3a3a3a" stroke-width="0.8"/>
<text x="35.69" y="408.60" font-size="6.17" text-anchor="end" textLength="13.08" lengthAdjust="spacingAndGlyphs">0.00</text>
<line x1="37.65" y1="382.98" x2="39.8" y2="382.98" stroke="#3a3a3a" stroke-width="0.8"/>
<text x="35.69" y="385.23" font-size="6.17" text-anchor="end" textLength="13.08" lengthAdjust="spacingAndGlyphs">0.02</text>
<line x1="37.65" y1="359.60" x2="39.8" y2="359.60" stroke="#3a3a3a" stroke-width="0.8"/>
<text x="35.69" y="361.85" font-size="6.17" text-anchor="end" textLength="13.08" lengthAdjust="spacingAndGlyphs">0.04</text>
<g><text x="0" y="0" font-size="6.17" text-anchor="middle" textLength="88.40" lengthAdjust="spacingAndGlyphs" transform="translate(14.60,406.35) rotate(-90)">Objective (classification error)</text></g>
<rect x="177.28" y="345.24" width="57.18" height="70.70" rx="1.2" fill="#fff" fill-opacity="0.8" stroke="#ccc" stroke-opacity="0.8" stroke-width="0.7"/>
<line x1="179.63" y1="350.04" x2="191.38" y2="350.04" stroke="#ff0000" stroke-width="0.9" stroke-dasharray="3.3,1.45"/>
<path d="M184.13,348.47L187.17,350.04L184.13,351.60Z" fill="#ff0000"/>
<text x="196.08" y="352.19" font-size="6.17" text-anchor="start" textLength="35.99" lengthAdjust="spacingAndGlyphs">ELM-MS-AFS</text>
<line x1="179.63" y1="358.68" x2="191.38" y2="358.68" stroke="#0000ff" stroke-width="0.9"/>
<path d="M184.08,358.68a1.42,1.42 0 1,0 2.84,0a1.42,1.42 0 1,0 -2.84,0" fill="#0000ff"/>
<text x="196.08" y="360.84" font-size="6.17" text-anchor="start" textLength="26.09" lengthAdjust="spacingAndGlyphs">ELM-ABC</text>
<line x1="179.63" y1="367.33" x2="191.38" y2="367.33" stroke="#008000" stroke-width="0.9"/>
<path d="M184.08,367.33a1.42,1.42 0 1,0 2.84,0a1.42,1.42 0 1,0 -2.84,0" fill="#008000"/>
<text x="196.08" y="369.48" font-size="6.17" text-anchor="start" textLength="21.03" lengthAdjust="spacingAndGlyphs">ELM-FA</text>
<line x1="179.63" y1="375.97" x2="191.38" y2="375.97" stroke="#c000c0" stroke-width="0.9"/>
<path d="M184.08,375.97a1.42,1.42 0 1,0 2.84,0a1.42,1.42 0 1,0 -2.84,0" fill="#c000c0"/>
<text x="196.08" y="378.13" font-size="6.17" text-anchor="start" textLength="26.03" lengthAdjust="spacingAndGlyphs">ELM-SCA</text>
<line x1="179.63" y1="384.62" x2="191.38" y2="384.62" stroke="#daa520" stroke-width="0.9"/>
<path d="M184.43,384.62a1.08,1.08 0 1,0 2.15,0a1.08,1.08 0 1,0 -2.15,0" fill="#daa520"/>
<text x="196.08" y="386.77" font-size="6.17" text-anchor="start" textLength="22.01" lengthAdjust="spacingAndGlyphs">ELM-BA</text>
<line x1="179.63" y1="393.27" x2="191.38" y2="393.27" stroke="#5046aa" stroke-width="0.9"/>
<path d="M184.38,392.14h2.25v2.25h-2.25Z" fill="#5046aa"/>
<text x="196.08" y="395.42" font-size="6.17" text-anchor="start" textLength="27.63" lengthAdjust="spacingAndGlyphs">ELM-HHO</text>
<line x1="179.63" y1="401.91" x2="191.38" y2="401.91" stroke="#00ffff" stroke-width="0.9"/>
<path d="M184.08,401.91a1.42,1.42 0 1,0 2.84,0a1.42,1.42 0 1,0 -2.84,0" fill="#00ffff"/>
<text x="196.08" y="404.07" font-size="6.17" text-anchor="start" textLength="28.29" lengthAdjust="spacingAndGlyphs">ELM-WOA</text>
<line x1="179.63" y1="410.56" x2="191.38" y2="410.56" stroke="#00ff00" stroke-width="0.9"/>
<path d="M184.08,410.56a1.42,1.42 0 1,0 2.84,0a1.42,1.42 0 1,0 -2.84,0" fill="#00ff00"/>
<text x="196.08" y="412.71" font-size="6.17" text-anchor="start" textLength="26.34" lengthAdjust="spacingAndGlyphs">ELM-IWO</text>
<text x="380.30" y="338.87" font-size="8.02" text-anchor="middle" textLength="127.17" lengthAdjust="spacingAndGlyphs">Iris 60 neurons convergence graphs</text>
<clipPath id="c7"><rect x="281.6" y="342.1" width="197.40" height="128.20"/></clipPath>
<g clip-path="url(#c7)">
<polyline points="281.60,406.40 291.47,406.40 301.34,406.40 311.21,406.40 321.08,406.40 330.95,406.40 340.82,406.40 350.69,406.40 360.56,406.40 370.43,406.40 380.30,406.40 390.17,406.40 400.04,406.40 409.91,406.40 419.78,406.40 429.65,406.40 439.52,406.40 449.39,406.40 459.26,406.40 469.13,406.40 479.00,406.40" fill="none" stroke="#ff0000" stroke-width="0.9" stroke-dasharray="3.3,1.45"/>
<path d="M280.23,404.83L283.26,406.40L280.23,407.97ZM290.10,404.83L293.13,406.40L290.10,407.97ZM299.97,404.83L303.00,406.40L299.97,407.97ZM309.84,404.83L312.87,406.40L309.84,407.97ZM319.71,404.83L322.74,406.40L319.71,407.97ZM329.58,404.83L332.61,406.40L329.58,407.97ZM339.45,404.83L342.48,406.40L339.45,407.97ZM349.32,404.83L352.35,406.40L349.32,407.97ZM359.19,404.83L362.22,406.40L359.19,407.97ZM369.06,404.83L372.09,406.40L369.06,407.97ZM378.93,404.83L381.96,406.40L378.93,407.97ZM388.80,404.83L391.83,406.40L388.80,407.97ZM398.67,404.83L401.70,406.40L398.67,407.97ZM408.54,404.83L411.57,406.40L408.54,407.97ZM418.41,404.83L421.44,406.40L418.41,407.97ZM428.28,404.83L431.31,406.40L428.28,407.97ZM438.15,404.83L441.18,406.40L438.15,407.97ZM448.02,404.83L451.05,406.40L448.02,407.97ZM457.89,404.83L460.92,406.40L457.89,407.97ZM467.76,404.83L470.79,406.40L467.76,407.97ZM477.63,404.83L480.66,406.40L477.63,407.97Z" fill="#ff0000"/>
<polyline points="281.60,406.40 291.47,406.40 301.34,406.40 311.21,406.40 321.08,406.40 330.95,406.40 340.82,406.40 350.69,406.40 360.56,406.40 370.43,406.40 380.30,406.40 390.17,406.40 400.04,406.40 409.91,406.40 419.78,406.40 429.65,406.40 439.52,406.40 449.39,406.40 459.26,406.40 469.13,406.40 479.00,406.40" fill="none" stroke="#0000ff" stroke-width="0.9"/>
<path d="M280.18,406.40a1.42,1.42 0 1,0 2.84,0a1.42,1.42 0 1,0 -2.84,0M290.05,406.40a1.42,1.42 0 1,0 2.84,0a1.42,1.42 0 1,0 -2.84,0M299.92,406.40a1.42,1.42 0 1,0 2.84,0a1.42,1.42 0 1,0 -2.84,0M309.79,406.40a1.42,1.42 0 1,0 2.84,0a1.42,1.42 0 1,0 -2.84,0M319.66,406.40a1.42,1.42 0 1,0 2.84,0a1.42,1.42 0 1,0 -2.84,0M329.53,406.40a1.42,1.42 0 1,0 2.84,0a1.42,1.42 0 1,0 -2.84,0M339.40,406.40a1.42,1.42 0 1,0 2.84,0a1.42,1.42 0 1,0 -2.84,0M349.27,406.40a1.42,1.42 0 1,0 2.84,0a1.42,1.42 0 1,0 -2.84,0M359.14,406.40a1.42,1.42 0 1,0 2.84,0a1.42,1.42 0 1,0 -2.84,0M369.01,406.40a1.42,1.42 0 1,0 2.84,0a1.42,1.42 0 1,0 -2.84,0M378.88,406.40a1.42,1.42 0 1,0 2.84,0a1.42,1.42 0 1,0 -2.84,0M388.75,406.40a1.42,1.42 0 1,0 2.84,0a1.42,1.42 0 1,0 -2.84,0M398.62,406.40a1.42,1.42 0 1,0 2.84,0a1.42,1.42 0 1,0 -2.84,0M408.49,406.40a1.42,1.42 0 1,0 2.84,0a1.42,1.42 0 1,0 -2.84,0M418.36,406.40a1.42,1.42 0 1,0 2.84,0a1.42,1.42 0 1,0 -2.84,0M428.23,406.40a1.42,1.42 0 1,0 2.84,0a1.42,1.42 0 1,0 -2.84,0M438.10,406.40a1.42,1.42 0 1,0 2.84,0a1.42,1.42 0 1,0 -2.84,0M447.97,406.40a1.42,1.42 0 1,0 2.84,0a1.42,1.42 0 1,0 -2.84,0M457.84,406.40a1.42,1.42 0 1,0 2.84,0a1.42,1.42 0 1,0 -2.84,0M467.71,406.40a1.42,1.42 0 1,0 2.84,0a1.42,1.42 0 1,0 -2.84,0M477.58,406.40a1.42,1.42 0 1,0 2.84,0a1.42,1.42 0 1,0 -2.84,0" fill="#0000ff"/>
<polyline points="281.60,406.40 291.47,406.40 301.34,406.40 311.21,406.40 321.08,406.40 330.95,406.40 340.82,406.40 350.69,406.40 360.56,406.40 370.43,406.40 380.30,406.40 390.17,406.40 400.04,406.40 409.91,406.40 419.78,406.40 429.65,406.40 439.52,406.40 449.39,406.40 459.26,406.40 469.13,406.40 479.00,406.40" fill="none" stroke="#008000" stroke-width="0.9"/>
<path d="M280.18,406.40a1.42,1.42 0 1,0 2.84,0a1.42,1.42 0 1,0 -2.84,0M290.05,406.40a1.42,1.42 0 1,0 2.84,0a1.42,1.42 0 1,0 -2.84,0M299.92,406.40a1.42,1.42 0 1,0 2.84,0a1.42,1.42 0 1,0 -2.84,0M309.79,406.40a1.42,1.42 0 1,0 2.84,0a1.42,1.42 0 1,0 -2.84,0M319.66,406.40a1.42,1.42 0 1,0 2.84,0a1.42,1.42 0 1,0 -2.84,0M329.53,406.40a1.42,1.42 0 1,0 2.84,0a1.42,1.42 0 1,0 -2.84,0M339.40,406.40a1.42,1.42 0 1,0 2.84,0a1.42,1.42 0 1,0 -2.84,0M349.27,406.40a1.42,1.42 0 1,0 2.84,0a1.42,1.42 0 1,0 -2.84,0M359.14,406.40a1.42,1.42 0 1,0 2.84,0a1.42,1.42 0 1,0 -2.84,0M369.01,406.40a1.42,1.42 0 1,0 2.84,0a1.42,1.42 0 1,0 -2.84,0M378.88,406.40a1.42,1.42 0 1,0 2.84,0a1.42,1.42 0 1,0 -2.84,0M388.75,406.40a1.42,1.42 0 1,0 2.84,0a1.42,1.42 0 1,0 -2.84,0M398.62,406.40a1.42,1.42 0 1,0 2.84,0a1.42,1.42 0 1,0 -2.84,0M408.49,406.40a1.42,1.42 0 1,0 2.84,0a1.42,1.42 0 1,0 -2.84,0M418.36,406.40a1.42,1.42 0 1,0 2.84,0a1.42,1.42 0 1,0 -2.84,0M428.23,406.40a1.42,1.42 0 1,0 2.84,0a1.42,1.42 0 1,0 -2.84,0M438.10,406.40a1.42,1.42 0 1,0 2.84,0a1.42,1.42 0 1,0 -2.84,0M447.97,406.40a1.42,1.42 0 1,0 2.84,0a1.42,1.42 0 1,0 -2.84,0M457.84,406.40a1.42,1.42 0 1,0 2.84,0a1.42,1.42 0 1,0 -2.84,0M467.71,406.40a1.42,1.42 0 1,0 2.84,0a1.42,1.42 0 1,0 -2.84,0M477.58,406.40a1.42,1.42 0 1,0 2.84,0a1.42,1.42 0 1,0 -2.84,0" fill="#008000"/>
<polyline points="281.60,406.40 291.47,406.40 301.34,406.40 311.21,406.40 321.08,406.40 330.95,406.40 340.82,406.40 350.69,406.40 360.56,406.40 370.43,406.40 380.30,406.40 390.17,406.40 400.04,406.40 409.91,406.40 419.78,406.40 429.65,406.40 439.52,406.40 449.39,406.40 459.26,406.40 469.13,406.40 479.00,406.40" fill="none" stroke="#c000c0" stroke-width="0.9"/>
<path d="M280.18,406.40a1.42,1.42 0 1,0 2.84,0a1.42,1.42 0 1,0 -2.84,0M290.05,406.40a1.42,1.42 0 1,0 2.84,0a1.42,1.42 0 1,0 -2.84,0M299.92,406.40a1.42,1.42 0 1,0 2.84,0a1.42,1.42 0 1,0 -2.84,0M309.79,406.40a1.42,1.42 0 1,0 2.84,0a1.42,1.42 0 1,0 -2.84,0M319.66,406.40a1.42,1.42 0 1,0 2.84,0a1.42,1.42 0 1,0 -2.84,0M329.53,406.40a1.42,1.42 0 1,0 2.84,0a1.42,1.42 0 1,0 -2.84,0M339.40,406.40a1.42,1.42 0 1,0 2.84,0a1.42,1.42 0 1,0 -2.84,0M349.27,406.40a1.42,1.42 0 1,0 2.84,0a1.42,1.42 0 1,0 -2.84,0M359.14,406.40a1.42,1.42 0 1,0 2.84,0a1.42,1.42 0 1,0 -2.84,0M369.01,406.40a1.42,1.42 0 1,0 2.84,0a1.42,1.42 0 1,0 -2.84,0M378.88,406.40a1.42,1.42 0 1,0 2.84,0a1.42,1.42 0 1,0 -2.84,0M388.75,406.40a1.42,1.42 0 1,0 2.84,0a1.42,1.42 0 1,0 -2.84,0M398.62,406.40a1.42,1.42 0 1,0 2.84,0a1.42,1.42 0 1,0 -2.84,0M408.49,406.40a1.42,1.42 0 1,0 2.84,0a1.42,1.42 0 1,0 -2.84,0M418.36,406.40a1.42,1.42 0 1,0 2.84,0a1.42,1.42 0 1,0 -2.84,0M428.23,406.40a1.42,1.42 0 1,0 2.84,0a1.42,1.42 0 1,0 -2.84,0M438.10,406.40a1.42,1.42 0 1,0 2.84,0a1.42,1.42 0 1,0 -2.84,0M447.97,406.40a1.42,1.42 0 1,0 2.84,0a1.42,1.42 0 1,0 -2.84,0M457.84,406.40a1.42,1.42 0 1,0 2.84,0a1.42,1.42 0 1,0 -2.84,0M467.71,406.40a1.42,1.42 0 1,0 2.84,0a1.42,1.42 0 1,0 -2.84,0M477.58,406.40a1.42,1.42 0 1,0 2.84,0a1.42,1.42 0 1,0 -2.84,0" fill="#c000c0"/>
<polyline points="281.60,406.40 291.47,406.40 301.34,406.40 311.21,406.40 321.08,406.40 330.95,406.40 340.82,406.40 350.69,406.40 360.56,406.40 370.43,406.40 380.30,406.40 390.17,406.40 400.04,406.40 409.91,406.40 419.78,406.40 429.65,406.40 439.52,406.40 449.39,406.40 459.26,406.40 469.13,406.40 479.00,406.40" fill="none" stroke="#daa520" stroke-width="0.9"/>
<path d="M280.52,406.40a1.08,1.08 0 1,0 2.15,0a1.08,1.08 0 1,0 -2.15,0M290.39,406.40a1.08,1.08 0 1,0 2.15,0a1.08,1.08 0 1,0 -2.15,0M300.26,406.40a1.08,1.08 0 1,0 2.15,0a1.08,1.08 0 1,0 -2.15,0M310.13,406.40a1.08,1.08 0 1,0 2.15,0a1.08,1.08 0 1,0 -2.15,0M320.00,406.40a1.08,1.08 0 1,0 2.15,0a1.08,1.08 0 1,0 -2.15,0M329.87,406.40a1.08,1.08 0 1,0 2.15,0a1.08,1.08 0 1,0 -2.15,0M339.74,406.40a1.08,1.08 0 1,0 2.15,0a1.08,1.08 0 1,0 -2.15,0M349.61,406.40a1.08,1.08 0 1,0 2.15,0a1.08,1.08 0 1,0 -2.15,0M359.48,406.40a1.08,1.08 0 1,0 2.15,0a1.08,1.08 0 1,0 -2.15,0M369.35,406.40a1.08,1.08 0 1,0 2.15,0a1.08,1.08 0 1,0 -2.15,0M379.22,406.40a1.08,1.08 0 1,0 2.15,0a1.08,1.08 0 1,0 -2.15,0M389.09,406.40a1.08,1.08 0 1,0 2.15,0a1.08,1.08 0 1,0 -2.15,0M398.96,406.40a1.08,1.08 0 1,0 2.15,0a1.08,1.08 0 1,0 -2.15,0M408.83,406.40a1.08,1.08 0 1,0 2.15,0a1.08,1.08 0 1,0 -2.15,0M418.70,406.40a1.08,1.08 0 1,0 2.15,0a1.08,1.08 0 1,0 -2.15,0M428.57,406.40a1.08,1.08 0 1,0 2.15,0a1.08,1.08 0 1,0 -2.15,0M438.44,406.40a1.08,1.08 0 1,0 2.15,0a1.08,1.08 0 1,0 -2.15,0M448.31,406.40a1.08,1.08 0 1,0 2.15,0a1.08,1.08 0 1,0 -2.15,0M458.18,406.40a1.08,1.08 0 1,0 2.15,0a1.08,1.08 0 1,0 -2.15,0M468.05,406.40a1.08,1.08 0 1,0 2.15,0a1.08,1.08 0 1,0 -2.15,0M477.92,406.40a1.08,1.08 0 1,0 2.15,0a1.08,1.08 0 1,0 -2.15,0" fill="#daa520"/>
<polyline points="281.60,406.40 291.47,406.40 301.34,406.40 311.21,406.40 321.08,406.40 330.95,406.40 340.82,406.40 350.69,406.40 360.56,406.40 370.43,406.40 380.30,406.40 390.17,406.40 400.04,406.40 409.91,406.40 419.78,406.40 429.65,406.40 439.52,406.40 449.39,406.40 459.26,406.40 469.13,406.40 479.00,406.40" fill="none" stroke="#5046aa" stroke-width="0.9"/>
<path d="M280.48,405.28h2.25v2.25h-2.25ZM290.35,405.28h2.25v2.25h-2.25ZM300.22,405.28h2.25v2.25h-2.25ZM310.09,405.28h2.25v2.25h-2.25ZM319.96,405.28h2.25v2.25h-2.25ZM329.83,405.28h2.25v2.25h-2.25ZM339.70,405.28h2.25v2.25h-2.25ZM349.57,405.28h2.25v2.25h-2.25ZM359.44,405.28h2.25v2.25h-2.25ZM369.31,405.28h2.25v2.25h-2.25ZM379.18,405.28h2.25v2.25h-2.25ZM389.05,405.28h2.25v2.25h-2.25ZM398.92,405.28h2.25v2.25h-2.25ZM408.79,405.28h2.25v2.25h-2.25ZM418.66,405.28h2.25v2.25h-2.25ZM428.53,405.28h2.25v2.25h-2.25ZM438.40,405.28h2.25v2.25h-2.25ZM448.27,405.28h2.25v2.25h-2.25ZM458.14,405.28h2.25v2.25h-2.25ZM468.01,405.28h2.25v2.25h-2.25ZM477.88,405.28h2.25v2.25h-2.25Z" fill="#5046aa"/>
<polyline points="281.60,406.40 291.47,406.40 301.34,406.40 311.21,406.40 321.08,406.40 330.95,406.40 340.82,406.40 350.69,406.40 360.56,406.40 370.43,406.40 380.30,406.40 390.17,406.40 400.04,406.40 409.91,406.40 419.78,406.40 429.65,406.40 439.52,406.40 449.39,406.40 459.26,406.40 469.13,406.40 479.00,406.40" fill="none" stroke="#00ffff" stroke-width="0.9"/>
<path d="M280.18,406.40a1.42,1.42 0 1,0 2.84,0a1.42,1.42 0 1,0 -2.84,0M290.05,406.40a1.42,1.42 0 1,0 2.84,0a1.42,1.42 0 1,0 -2.84,0M299.92,406.40a1.42,1.42 0 1,0 2.84,0a1.42,1.42 0 1,0 -2.84,0M309.79,406.40a1.42,1.42 0 1,0 2.84,0a1.42,1.42 0 1,0 -2.84,0M319.66,406.40a1.42,1.42 0 1,0 2.84,0a1.42,1.42 0 1,0 -2.84,0M329.53,406.40a1.42,1.42 0 1,0 2.84,0a1.42,1.42 0 1,0 -2.84,0M339.40,406.40a1.42,1.42 0 1,0 2.84,0a1.42,1.42 0 1,0 -2.84,0M349.27,406.40a1.42,1.42 0 1,0 2.84,0a1.42,1.42 0 1,0 -2.84,0M359.14,406.40a1.42,1.42 0 1,0 2.84,0a1.42,1.42 0 1,0 -2.84,0M369.01,406.40a1.42,1.42 0 1,0 2.84,0a1.42,1.42 0 1,0 -2.84,0M378.88,406.40a1.42,1.42 0 1,0 2.84,0a1.42,1.42 0 1,0 -2.84,0M388.75,406.40a1.42,1.42 0 1,0 2.84,0a1.42,1.42 0 1,0 -2.84,0M398.62,406.40a1.42,1.42 0 1,0 2.84,0a1.42,1.42 0 1,0 -2.84,0M408.49,406.40a1.42,1.42 0 1,0 2.84,0a1.42,1.42 0 1,0 -2.84,0M418.36,406.40a1.42,1.42 0 1,0 2.84,0a1.42,1.42 0 1,0 -2.84,0M428.23,406.40a1.42,1.42 0 1,0 2.84,0a1.42,1.42 0 1,0 -2.84,0M438.10,406.40a1.42,1.42 0 1,0 2.84,0a1.42,1.42 0 1,0 -2.84,0M447.97,406.40a1.42,1.42 0 1,0 2.84,0a1.42,1.42 0 1,0 -2.84,0M457.84,406.40a1.42,1.42 0 1,0 2.84,0a1.42,1.42 0 1,0 -2.84,0M467.71,406.40a1.42,1.42 0 1,0 2.84,0a1.42,1.42 0 1,0 -2.84,0M477.58,406.40a1.42,1.42 0 1,0 2.84,0a1.42,1.42 0 1,0 -2.84,0" fill="#00ffff"/>
<polyline points="281.60,406.40 291.47,406.40 301.34,406.40 311.21,406.40 321.08,406.40 330.95,406.40 340.82,406.40 350.69,406.40 360.56,406.40 370.43,406.40 380.30,406.40 390.17,406.40 400.04,406.40 409.91,406.40 419.78,406.40 429.65,406.40 439.52,406.40 449.39,406.40 459.26,406.40 469.13,406.40 479.00,406.40" fill="none" stroke="#00ff00" stroke-width="0.9"/>
<path d="M280.18,406.40a1.42,1.42 0 1,0 2.84,0a1.42,1.42 0 1,0 -2.84,0M290.05,406.40a1.42,1.42 0 1,0 2.84,0a1.42,1.42 0 1,0 -2.84,0M299.92,406.40a1.42,1.42 0 1,0 2.84,0a1.42,1.42 0 1,0 -2.84,0M309.79,406.40a1.42,1.42 0 1,0 2.84,0a1.42,1.42 0 1,0 -2.84,0M319.66,406.40a1.42,1.42 0 1,0 2.84,0a1.42,1.42 0 1,0 -2.84,0M329.53,406.40a1.42,1.42 0 1,0 2.84,0a1.42,1.42 0 1,0 -2.84,0M339.40,406.40a1.42,1.42 0 1,0 2.84,0a1.42,1.42 0 1,0 -2.84,0M349.27,406.40a1.42,1.42 0 1,0 2.84,0a1.42,1.42 0 1,0 -2.84,0M359.14,406.40a1.42,1.42 0 1,0 2.84,0a1.42,1.42 0 1,0 -2.84,0M369.01,406.40a1.42,1.42 0 1,0 2.84,0a1.42,1.42 0 1,0 -2.84,0M378.88,406.40a1.42,1.42 0 1,0 2.84,0a1.42,1.42 0 1,0 -2.84,0M388.75,406.40a1.42,1.42 0 1,0 2.84,0a1.42,1.42 0 1,0 -2.84,0M398.62,406.40a1.42,1.42 0 1,0 2.84,0a1.42,1.42 0 1,0 -2.84,0M408.49,406.40a1.42,1.42 0 1,0 2.84,0a1.42,1.42 0 1,0 -2.84,0M418.36,406.40a1.42,1.42 0 1,0 2.84,0a1.42,1.42 0 1,0 -2.84,0M428.23,406.40a1.42,1.42 0 1,0 2.84,0a1.42,1.42 0 1,0 -2.84,0M438.10,406.40a1.42,1.42 0 1,0 2.84,0a1.42,1.42 0 1,0 -2.84,0M447.97,406.40a1.42,1.42 0 1,0 2.84,0a1.42,1.42 0 1,0 -2.84,0M457.84,406.40a1.42,1.42 0 1,0 2.84,0a1.42,1.42 0 1,0 -2.84,0M467.71,406.40a1.42,1.42 0 1,0 2.84,0a1.42,1.42 0 1,0 -2.84,0M477.58,406.40a1.42,1.42 0 1,0 2.84,0a1.42,1.42 0 1,0 -2.84,0" fill="#00ff00"/>
</g>
<rect x="281.6" y="342.1" width="197.40" height="128.20" fill="none" stroke="#3a3a3a" stroke-width="0.9"/>
<line x1="281.60" y1="470.3" x2="281.60" y2="472.45" stroke="#3a3a3a" stroke-width="0.8"/>
<text x="281.60" y="479.69" font-size="6.16" text-anchor="middle" textLength="9.33" lengthAdjust="spacingAndGlyphs">0.0</text>
<line x1="306.28" y1="470.3" x2="306.28" y2="472.45" stroke="#3a3a3a" stroke-width="0.8"/>
<text x="306.28" y="479.69" font-size="6.16" text-anchor="middle" textLength="9.33" lengthAdjust="spacingAndGlyphs">2.5</text>
<line x1="330.95" y1="470.3" x2="330.95" y2="472.45" stroke="#3a3a3a" stroke-width="0.8"/>
<text x="330.95" y="479.69" font-size="6.16" text-anchor="middle" textLength="9.33" lengthAdjust="spacingAndGlyphs">5.0</text>
<line x1="355.62" y1="470.3" x2="355.62" y2="472.45" stroke="#3a3a3a" stroke-width="0.8"/>
<text x="355.62" y="479.69" font-size="6.16" text-anchor="middle" textLength="9.33" lengthAdjust="spacingAndGlyphs">7.5</text>
<line x1="380.30" y1="470.3" x2="380.30" y2="472.45" stroke="#3a3a3a" stroke-width="0.8"/>
<text x="380.30" y="479.69" font-size="6.16" text-anchor="middle" textLength="13.07" lengthAdjust="spacingAndGlyphs">10.0</text>
<line x1="404.98" y1="470.3" x2="404.98" y2="472.45" stroke="#3a3a3a" stroke-width="0.8"/>
<text x="404.98" y="479.69" font-size="6.16" text-anchor="middle" textLength="13.07" lengthAdjust="spacingAndGlyphs">12.5</text>
<line x1="429.65" y1="470.3" x2="429.65" y2="472.45" stroke="#3a3a3a" stroke-width="0.8"/>
<text x="429.65" y="479.69" font-size="6.16" text-anchor="middle" textLength="13.07" lengthAdjust="spacingAndGlyphs">15.0</text>
<line x1="454.32" y1="470.3" x2="454.32" y2="472.45" stroke="#3a3a3a" stroke-width="0.8"/>
<text x="454.32" y="479.69" font-size="6.16" text-anchor="middle" textLength="13.07" lengthAdjust="spacingAndGlyphs">17.5</text>
<line x1="479.00" y1="470.3" x2="479.00" y2="472.45" stroke="#3a3a3a" stroke-width="0.8"/>
<text x="479.00" y="479.69" font-size="6.16" text-anchor="middle" textLength="13.07" lengthAdjust="spacingAndGlyphs">20.0</text>
<text x="380.30" y="487.12" font-size="6.16" text-anchor="middle" textLength="27.95" lengthAdjust="spacingAndGlyphs">Iterations</text>
<line x1="279.45" y1="453.10" x2="281.6" y2="453.10" stroke="#3a3a3a" stroke-width="0.8"/>
<text x="277.49" y="455.35" font-size="6.16" text-anchor="end" textLength="17.99" lengthAdjust="spacingAndGlyphs">−0.04</text>
<line x1="279.45" y1="429.73" x2="281.6" y2="429.73" stroke="#3a3a3a" stroke-width="0.8"/>
<text x="277.49" y="431.97" font-size="6.16" text-anchor="end" textLength="17.99" lengthAdjust="spacingAndGlyphs">−0.02</text>
<line x1="279.45" y1="406.35" x2="281.6" y2="406.35" stroke="#3a3a3a" stroke-width="0.8"/>
<text x="277.49" y="408.60" font-size="6.16" text-anchor="end" textLength="13.07" lengthAdjust="spacingAndGlyphs">0.00</text>
<line x1="279.45" y1="382.98" x2="281.6" y2="382.98" stroke="#3a3a3a" stroke-width="0.8"/>
<text x="277.49" y="385.22" font-size="6.16" text-anchor="end" textLength="13.07" lengthAdjust="spacingAndGlyphs">0.02</text>
<line x1="279.45" y1="359.60" x2="281.6" y2="359.60" stroke="#3a3a3a" stroke-width="0.8"/>
<text x="277.49" y="361.85" font-size="6.16" text-anchor="end" textLength="13.07" lengthAdjust="spacingAndGlyphs">0.04</text>
<g><text x="0" y="0" font-size="6.16" text-anchor="middle" textLength="88.31" lengthAdjust="spacingAndGlyphs" transform="translate(256.40,406.20) rotate(-90)">Objective (classification error)</text></g>
<rect x="418.94" y="345.03" width="57.13" height="70.63" rx="1.2" fill="#fff" fill-opacity="0.8" stroke="#ccc" stroke-opacity="0.8" stroke-width="0.7"/>
<line x1="421.29" y1="349.83" x2="433.02" y2="349.83" stroke="#ff0000" stroke-width="0.9" stroke-dasharray="3.3,1.45"/>
<path d="M425.79,348.26L428.82,349.83L425.79,351.39Z" fill="#ff0000"/>
<text x="437.72" y="351.98" font-size="6.16" text-anchor="start" textLength="35.95" lengthAdjust="spacingAndGlyphs">ELM-MS-AFS</text>
<line x1="421.29" y1="358.47" x2="433.02" y2="358.47" stroke="#0000ff" stroke-width="0.9"/>
<path d="M425.74,358.47a1.42,1.42 0 1,0 2.84,0a1.42,1.42 0 1,0 -2.84,0" fill="#0000ff"/>
<text x="437.72" y="360.62" font-size="6.16" text-anchor="start" textLength="26.07" lengthAdjust="spacingAndGlyphs">ELM-ABC</text>
<line x1="421.29" y1="367.10" x2="433.02" y2="367.10" stroke="#008000" stroke-width="0.9"/>
<path d="M425.74,367.10a1.42,1.42 0 1,0 2.84,0a1.42,1.42 0 1,0 -2.84,0" fill="#008000"/>
<text x="437.72" y="369.25" font-size="6.16" text-anchor="start" textLength="21.01" lengthAdjust="spacingAndGlyphs">ELM-FA</text>
<line x1="421.29" y1="375.74" x2="433.02" y2="375.74" stroke="#c000c0" stroke-width="0.9"/>
<path d="M425.74,375.74a1.42,1.42 0 1,0 2.84,0a1.42,1.42 0 1,0 -2.84,0" fill="#c000c0"/>
<text x="437.72" y="377.89" font-size="6.16" text-anchor="start" textLength="26.00" lengthAdjust="spacingAndGlyphs">ELM-SCA</text>
<line x1="421.29" y1="384.38" x2="433.02" y2="384.38" stroke="#daa520" stroke-width="0.9"/>
<path d="M426.08,384.38a1.08,1.08 0 1,0 2.15,0a1.08,1.08 0 1,0 -2.15,0" fill="#daa520"/>
<text x="437.72" y="386.53" font-size="6.16" text-anchor="start" textLength="21.99" lengthAdjust="spacingAndGlyphs">ELM-BA</text>
<line x1="421.29" y1="393.02" x2="433.02" y2="393.02" stroke="#5046aa" stroke-width="0.9"/>
<path d="M426.03,391.89h2.25v2.25h-2.25Z" fill="#5046aa"/>
<text x="437.72" y="395.17" font-size="6.16" text-anchor="start" textLength="27.61" lengthAdjust="spacingAndGlyphs">ELM-HHO</text>
<line x1="421.29" y1="401.65" x2="433.02" y2="401.65" stroke="#00ffff" stroke-width="0.9"/>
<path d="M425.74,401.65a1.42,1.42 0 1,0 2.84,0a1.42,1.42 0 1,0 -2.84,0" fill="#00ffff"/>
<text x="437.72" y="403.80" font-size="6.16" text-anchor="start" textLength="28.26" lengthAdjust="spacingAndGlyphs">ELM-WOA</text>
<line x1="421.29" y1="410.29" x2="433.02" y2="410.29" stroke="#00ff00" stroke-width="0.9"/>
<path d="M425.74,410.29a1.42,1.42 0 1,0 2.84,0a1.42,1.42 0 1,0 -2.84,0" fill="#00ff00"/>
<text x="437.72" y="412.44" font-size="6.16" text-anchor="start" textLength="26.31" lengthAdjust="spacingAndGlyphs">ELM-IWO</text>
<text x="621.95" y="338.98" font-size="8.01" text-anchor="middle" textLength="126.97" lengthAdjust="spacingAndGlyphs">Iris 90 neurons convergence graphs</text>
<clipPath id="c8"><rect x="523.4" y="342.2" width="197.10" height="128.10"/></clipPath>
<g clip-path="url(#c8)">
<polyline points="523.40,347.81 533.25,347.81 543.11,347.81 552.97,347.81 562.82,347.81 572.67,347.81 582.53,347.81 592.38,347.81 602.24,347.81 612.10,347.81 621.95,347.81 631.80,347.81 641.66,347.81 651.51,347.81 661.37,347.81 671.23,347.81 681.08,347.81 690.93,347.81 700.79,347.81 710.64,347.81 720.50,347.81" fill="none" stroke="#ff0000" stroke-width="0.9" stroke-dasharray="3.3,1.45"/>
<path d="M522.03,346.25L525.06,347.81L522.03,349.37ZM531.89,346.25L534.92,347.81L531.89,349.37ZM541.74,346.25L544.77,347.81L541.74,349.37ZM551.60,346.25L554.63,347.81L551.60,349.37ZM561.45,346.25L564.48,347.81L561.45,349.37ZM571.31,346.25L574.34,347.81L571.31,349.37ZM581.16,346.25L584.19,347.81L581.16,349.37ZM591.02,346.25L594.05,347.81L591.02,349.37ZM600.87,346.25L603.90,347.81L600.87,349.37ZM610.73,346.25L613.76,347.81L610.73,349.37ZM620.58,346.25L623.61,347.81L620.58,349.37ZM630.44,346.25L633.47,347.81L630.44,349.37ZM640.29,346.25L643.32,347.81L640.29,349.37ZM650.15,346.25L653.18,347.81L650.15,349.37ZM660.00,346.25L663.03,347.81L660.00,349.37ZM669.86,346.25L672.89,347.81L669.86,349.37ZM679.71,346.25L682.74,347.81L679.71,349.37ZM689.57,346.25L692.60,347.81L689.57,349.37ZM699.42,346.25L702.45,347.81L699.42,349.37ZM709.28,346.25L712.31,347.81L709.28,349.37ZM719.13,346.25L722.16,347.81L719.13,349.37Z" fill="#ff0000"/>
<polyline points="523.40,347.81 533.25,347.81 543.11,347.81 552.97,347.81 562.82,347.81 572.67,347.81 582.53,347.81 592.38,347.81 602.24,347.81 612.10,347.81 621.95,347.81 631.80,347.81 641.66,347.81 651.51,347.81 661.37,347.81 671.23,347.81 681.08,347.81 690.93,347.81 700.79,347.81 710.64,347.81 720.50,347.81" fill="none" stroke="#0000ff" stroke-width="0.9"/>
<path d="M521.98,347.81a1.42,1.42 0 1,0 2.83,0a1.42,1.42 0 1,0 -2.83,0M531.84,347.81a1.42,1.42 0 1,0 2.83,0a1.42,1.42 0 1,0 -2.83,0M541.69,347.81a1.42,1.42 0 1,0 2.83,0a1.42,1.42 0 1,0 -2.83,0M551.55,347.81a1.42,1.42 0 1,0 2.83,0a1.42,1.42 0 1,0 -2.83,0M561.40,347.81a1.42,1.42 0 1,0 2.83,0a1.42,1.42 0 1,0 -2.83,0M571.26,347.81a1.42,1.42 0 1,0 2.83,0a1.42,1.42 0 1,0 -2.83,0M581.11,347.81a1.42,1.42 0 1,0 2.83,0a1.42,1.42 0 1,0 -2.83,0M590.97,347.81a1.42,1.42 0 1,0 2.83,0a1.42,1.42 0 1,0 -2.83,0M600.82,347.81a1.42,1.42 0 1,0 2.83,0a1.42,1.42 0 1,0 -2.83,0M610.68,347.81a1.42,1.42 0 1,0 2.83,0a1.42,1.42 0 1,0 -2.83,0M620.53,347.81a1.42,1.42 0 1,0 2.83,0a1.42,1.42 0 1,0 -2.83,0M630.39,347.81a1.42,1.42 0 1,0 2.83,0a1.42,1.42 0 1,0 -2.83,0M640.24,347.81a1.42,1.42 0 1,0 2.83,0a1.42,1.42 0 1,0 -2.83,0M650.10,347.81a1.42,1.42 0 1,0 2.83,0a1.42,1.42 0 1,0 -2.83,0M659.95,347.81a1.42,1.42 0 1,0 2.83,0a1.42,1.42 0 1,0 -2.83,0M669.81,347.81a1.42,1.42 0 1,0 2.83,0a1.42,1.42 0 1,0 -2.83,0M679.66,347.81a1.42,1.42 0 1,0 2.83,0a1.42,1.42 0 1,0 -2.83,0M689.52,347.81a1.42,1.42 0 1,0 2.83,0a1.42,1.42 0 1,0 -2.83,0M699.37,347.81a1.42,1.42 0 1,0 2.83,0a1.42,1.42 0 1,0 -2.83,0M709.23,347.81a1.42,1.42 0 1,0 2.83,0a1.42,1.42 0 1,0 -2.83,0M719.08,347.81a1.42,1.42 0 1,0 2.83,0a1.42,1.42 0 1,0 -2.83,0" fill="#0000ff"/>
<polyline points="523.40,347.81 533.25,347.81 543.11,347.81 552.97,347.81 562.82,347.81 572.67,347.81 582.53,347.81 592.38,347.81 602.24,347.81 612.10,347.81 621.95,347.81 631.80,347.81 641.66,347.81 651.51,347.81 661.37,347.81 671.23,347.81 681.08,347.81 690.93,347.81 700.79,347.81 710.64,347.81 720.50,347.81" fill="none" stroke="#008000" stroke-width="0.9"/>
<path d="M521.98,347.81a1.42,1.42 0 1,0 2.83,0a1.42,1.42 0 1,0 -2.83,0M531.84,347.81a1.42,1.42 0 1,0 2.83,0a1.42,1.42 0 1,0 -2.83,0M541.69,347.81a1.42,1.42 0 1,0 2.83,0a1.42,1.42 0 1,0 -2.83,0M551.55,347.81a1.42,1.42 0 1,0 2.83,0a1.42,1.42 0 1,0 -2.83,0M561.40,347.81a1.42,1.42 0 1,0 2.83,0a1.42,1.42 0 1,0 -2.83,0M571.26,347.81a1.42,1.42 0 1,0 2.83,0a1.42,1.42 0 1,0 -2.83,0M581.11,347.81a1.42,1.42 0 1,0 2.83,0a1.42,1.42 0 1,0 -2.83,0M590.97,347.81a1.42,1.42 0 1,0 2.83,0a1.42,1.42 0 1,0 -2.83,0M600.82,347.81a1.42,1.42 0 1,0 2.83,0a1.42,1.42 0 1,0 -2.83,0M610.68,347.81a1.42,1.42 0 1,0 2.83,0a1.42,1.42 0 1,0 -2.83,0M620.53,347.81a1.42,1.42 0 1,0 2.83,0a1.42,1.42 0 1,0 -2.83,0M630.39,347.81a1.42,1.42 0 1,0 2.83,0a1.42,1.42 0 1,0 -2.83,0M640.24,347.81a1.42,1.42 0 1,0 2.83,0a1.42,1.42 0 1,0 -2.83,0M650.10,347.81a1.42,1.42 0 1,0 2.83,0a1.42,1.42 0 1,0 -2.83,0M659.95,347.81a1.42,1.42 0 1,0 2.83,0a1.42,1.42 0 1,0 -2.83,0M669.81,347.81a1.42,1.42 0 1,0 2.83,0a1.42,1.42 0 1,0 -2.83,0M679.66,347.81a1.42,1.42 0 1,0 2.83,0a1.42,1.42 0 1,0 -2.83,0M689.52,347.81a1.42,1.42 0 1,0 2.83,0a1.42,1.42 0 1,0 -2.83,0M699.37,347.81a1.42,1.42 0 1,0 2.83,0a1.42,1.42 0 1,0 -2.83,0M709.23,347.81a1.42,1.42 0 1,0 2.83,0a1.42,1.42 0 1,0 -2.83,0M719.08,347.81a1.42,1.42 0 1,0 2.83,0a1.42,1.42 0 1,0 -2.83,0" fill="#008000"/>
<polyline points="523.40,347.81 533.25,347.81 543.11,347.81 552.97,347.81 562.82,347.81 572.67,347.81 582.53,347.81 592.38,347.81 602.24,347.81 612.10,347.81 621.95,347.81 631.80,347.81 641.66,347.81 651.51,347.81 661.37,347.81 671.23,347.81 681.08,347.81 690.93,347.81 700.79,347.81 710.64,347.81 720.50,347.81" fill="none" stroke="#c000c0" stroke-width="0.9"/>
<path d="M521.98,347.81a1.42,1.42 0 1,0 2.83,0a1.42,1.42 0 1,0 -2.83,0M531.84,347.81a1.42,1.42 0 1,0 2.83,0a1.42,1.42 0 1,0 -2.83,0M541.69,347.81a1.42,1.42 0 1,0 2.83,0a1.42,1.42 0 1,0 -2.83,0M551.55,347.81a1.42,1.42 0 1,0 2.83,0a1.42,1.42 0 1,0 -2.83,0M561.40,347.81a1.42,1.42 0 1,0 2.83,0a1.42,1.42 0 1,0 -2.83,0M571.26,347.81a1.42,1.42 0 1,0 2.83,0a1.42,1.42 0 1,0 -2.83,0M581.11,347.81a1.42,1.42 0 1,0 2.83,0a1.42,1.42 0 1,0 -2.83,0M590.97,347.81a1.42,1.42 0 1,0 2.83,0a1.42,1.42 0 1,0 -2.83,0M600.82,347.81a1.42,1.42 0 1,0 2.83,0a1.42,1.42 0 1,0 -2.83,0M610.68,347.81a1.42,1.42 0 1,0 2.83,0a1.42,1.42 0 1,0 -2.83,0M620.53,347.81a1.42,1.42 0 1,0 2.83,0a1.42,1.42 0 1,0 -2.83,0M630.39,347.81a1.42,1.42 0 1,0 2.83,0a1.42,1.42 0 1,0 -2.83,0M640.24,347.81a1.42,1.42 0 1,0 2.83,0a1.42,1.42 0 1,0 -2.83,0M650.10,347.81a1.42,1.42 0 1,0 2.83,0a1.42,1.42 0 1,0 -2.83,0M659.95,347.81a1.42,1.42 0 1,0 2.83,0a1.42,1.42 0 1,0 -2.83,0M669.81,347.81a1.42,1.42 0 1,0 2.83,0a1.42,1.42 0 1,0 -2.83,0M679.66,347.81a1.42,1.42 0 1,0 2.83,0a1.42,1.42 0 1,0 -2.83,0M689.52,347.81a1.42,1.42 0 1,0 2.83,0a1.42,1.42 0 1,0 -2.83,0M699.37,347.81a1.42,1.42 0 1,0 2.83,0a1.42,1.42 0 1,0 -2.83,0M709.23,347.81a1.42,1.42 0 1,0 2.83,0a1.42,1.42 0 1,0 -2.83,0M719.08,347.81a1.42,1.42 0 1,0 2.83,0a1.42,1.42 0 1,0 -2.83,0" fill="#c000c0"/>
<polyline points="523.40,347.81 533.25,347.81 543.11,347.81 552.97,347.81 562.82,347.81 572.67,347.81 582.53,347.81 592.38,347.81 602.24,347.81 612.10,347.81 621.95,347.81 631.80,347.81 641.66,347.81 651.51,347.81 661.37,347.81 671.23,347.81 681.08,347.81 690.93,347.81 700.79,347.81 710.64,347.81 720.50,347.81" fill="none" stroke="#daa520" stroke-width="0.9"/>
<path d="M522.33,347.81a1.07,1.07 0 1,0 2.15,0a1.07,1.07 0 1,0 -2.15,0M532.18,347.81a1.07,1.07 0 1,0 2.15,0a1.07,1.07 0 1,0 -2.15,0M542.04,347.81a1.07,1.07 0 1,0 2.15,0a1.07,1.07 0 1,0 -2.15,0M551.89,347.81a1.07,1.07 0 1,0 2.15,0a1.07,1.07 0 1,0 -2.15,0M561.75,347.81a1.07,1.07 0 1,0 2.15,0a1.07,1.07 0 1,0 -2.15,0M571.60,347.81a1.07,1.07 0 1,0 2.15,0a1.07,1.07 0 1,0 -2.15,0M581.46,347.81a1.07,1.07 0 1,0 2.15,0a1.07,1.07 0 1,0 -2.15,0M591.31,347.81a1.07,1.07 0 1,0 2.15,0a1.07,1.07 0 1,0 -2.15,0M601.17,347.81a1.07,1.07 0 1,0 2.15,0a1.07,1.07 0 1,0 -2.15,0M611.02,347.81a1.07,1.07 0 1,0 2.15,0a1.07,1.07 0 1,0 -2.15,0M620.88,347.81a1.07,1.07 0 1,0 2.15,0a1.07,1.07 0 1,0 -2.15,0M630.73,347.81a1.07,1.07 0 1,0 2.15,0a1.07,1.07 0 1,0 -2.15,0M640.59,347.81a1.07,1.07 0 1,0 2.15,0a1.07,1.07 0 1,0 -2.15,0M650.44,347.81a1.07,1.07 0 1,0 2.15,0a1.07,1.07 0 1,0 -2.15,0M660.30,347.81a1.07,1.07 0 1,0 2.15,0a1.07,1.07 0 1,0 -2.15,0M670.15,347.81a1.07,1.07 0 1,0 2.15,0a1.07,1.07 0 1,0 -2.15,0M680.01,347.81a1.07,1.07 0 1,0 2.15,0a1.07,1.07 0 1,0 -2.15,0M689.86,347.81a1.07,1.07 0 1,0 2.15,0a1.07,1.07 0 1,0 -2.15,0M699.72,347.81a1.07,1.07 0 1,0 2.15,0a1.07,1.07 0 1,0 -2.15,0M709.57,347.81a1.07,1.07 0 1,0 2.15,0a1.07,1.07 0 1,0 -2.15,0M719.43,347.81a1.07,1.07 0 1,0 2.15,0a1.07,1.07 0 1,0 -2.15,0" fill="#daa520"/>
<polyline points="523.40,347.81 533.25,347.81 543.11,347.81 552.97,347.81 562.82,347.81 572.67,347.81 582.53,347.81 592.38,347.81 602.24,347.81 612.10,464.70 621.95,464.70 631.80,464.70 641.66,464.70 651.51,464.70 661.37,464.70 671.23,464.70 681.08,464.70 690.93,464.70 700.79,464.70 710.64,464.70 720.50,464.70" fill="none" stroke="#5046aa" stroke-width="0.9"/>
<path d="M522.28,346.69h2.25v2.25h-2.25ZM532.13,346.69h2.25v2.25h-2.25ZM541.99,346.69h2.25v2.25h-2.25ZM551.84,346.69h2.25v2.25h-2.25ZM561.70,346.69h2.25v2.25h-2.25ZM571.55,346.69h2.25v2.25h-2.25ZM581.41,346.69h2.25v2.25h-2.25ZM591.26,346.69h2.25v2.25h-2.25ZM601.12,346.69h2.25v2.25h-2.25ZM610.97,463.58h2.25v2.25h-2.25ZM620.83,463.58h2.25v2.25h-2.25ZM630.68,463.58h2.25v2.25h-2.25ZM640.54,463.58h2.25v2.25h-2.25ZM650.39,463.58h2.25v2.25h-2.25ZM660.25,463.58h2.25v2.25h-2.25ZM670.10,463.58h2.25v2.25h-2.25ZM679.96,463.58h2.25v2.25h-2.25ZM689.81,463.58h2.25v2.25h-2.25ZM699.67,463.58h2.25v2.25h-2.25ZM709.52,463.58h2.25v2.25h-2.25ZM719.38,463.58h2.25v2.25h-2.25Z" fill="#5046aa"/>
<polyline points="523.40,347.81 533.25,347.81 543.11,347.81 552.97,347.81 562.82,347.81 572.67,347.81 582.53,347.81 592.38,347.81 602.24,347.81 612.10,347.81 621.95,347.81 631.80,347.81 641.66,347.81 651.51,347.81 661.37,347.81 671.23,347.81 681.08,347.81 690.93,347.81 700.79,347.81 710.64,347.81 720.50,347.81" fill="none" stroke="#00ffff" stroke-width="0.9"/>
<path d="M521.98,347.81a1.42,1.42 0 1,0 2.83,0a1.42,1.42 0 1,0 -2.83,0M531.84,347.81a1.42,1.42 0 1,0 2.83,0a1.42,1.42 0 1,0 -2.83,0M541.69,347.81a1.42,1.42 0 1,0 2.83,0a1.42,1.42 0 1,0 -2.83,0M551.55,347.81a1.42,1.42 0 1,0 2.83,0a1.42,1.42 0 1,0 -2.83,0M561.40,347.81a1.42,1.42 0 1,0 2.83,0a1.42,1.42 0 1,0 -2.83,0M571.26,347.81a1.42,1.42 0 1,0 2.83,0a1.42,1.42 0 1,0 -2.83,0M581.11,347.81a1.42,1.42 0 1,0 2.83,0a1.42,1.42 0 1,0 -2.83,0M590.97,347.81a1.42,1.42 0 1,0 2.83,0a1.42,1.42 0 1,0 -2.83,0M600.82,347.81a1.42,1.42 0 1,0 2.83,0a1.42,1.42 0 1,0 -2.83,0M610.68,347.81a1.42,1.42 0 1,0 2.83,0a1.42,1.42 0 1,0 -2.83,0M620.53,347.81a1.42,1.42 0 1,0 2.83,0a1.42,1.42 0 1,0 -2.83,0M630.39,347.81a1.42,1.42 0 1,0 2.83,0a1.42,1.42 0 1,0 -2.83,0M640.24,347.81a1.42,1.42 0 1,0 2.83,0a1.42,1.42 0 1,0 -2.83,0M650.10,347.81a1.42,1.42 0 1,0 2.83,0a1.42,1.42 0 1,0 -2.83,0M659.95,347.81a1.42,1.42 0 1,0 2.83,0a1.42,1.42 0 1,0 -2.83,0M669.81,347.81a1.42,1.42 0 1,0 2.83,0a1.42,1.42 0 1,0 -2.83,0M679.66,347.81a1.42,1.42 0 1,0 2.83,0a1.42,1.42 0 1,0 -2.83,0M689.52,347.81a1.42,1.42 0 1,0 2.83,0a1.42,1.42 0 1,0 -2.83,0M699.37,347.81a1.42,1.42 0 1,0 2.83,0a1.42,1.42 0 1,0 -2.83,0M709.23,347.81a1.42,1.42 0 1,0 2.83,0a1.42,1.42 0 1,0 -2.83,0M719.08,347.81a1.42,1.42 0 1,0 2.83,0a1.42,1.42 0 1,0 -2.83,0" fill="#00ffff"/>
<polyline points="523.40,347.81 533.25,347.81 543.11,347.81 552.97,347.81 562.82,347.81 572.67,347.81 582.53,347.81 592.38,347.81 602.24,347.81 612.10,347.81 621.95,347.81 631.80,347.81 641.66,347.81 651.51,347.81 661.37,347.81 671.23,347.81 681.08,347.81 690.93,347.81 700.79,347.81 710.64,347.81 720.50,347.81" fill="none" stroke="#00ff00" stroke-width="0.9"/>
<path d="M521.98,347.81a1.42,1.42 0 1,0 2.83,0a1.42,1.42 0 1,0 -2.83,0M531.84,347.81a1.42,1.42 0 1,0 2.83,0a1.42,1.42 0 1,0 -2.83,0M541.69,347.81a1.42,1.42 0 1,0 2.83,0a1.42,1.42 0 1,0 -2.83,0M551.55,347.81a1.42,1.42 0 1,0 2.83,0a1.42,1.42 0 1,0 -2.83,0M561.40,347.81a1.42,1.42 0 1,0 2.83,0a1.42,1.42 0 1,0 -2.83,0M571.26,347.81a1.42,1.42 0 1,0 2.83,0a1.42,1.42 0 1,0 -2.83,0M581.11,347.81a1.42,1.42 0 1,0 2.83,0a1.42,1.42 0 1,0 -2.83,0M590.97,347.81a1.42,1.42 0 1,0 2.83,0a1.42,1.42 0 1,0 -2.83,0M600.82,347.81a1.42,1.42 0 1,0 2.83,0a1.42,1.42 0 1,0 -2.83,0M610.68,347.81a1.42,1.42 0 1,0 2.83,0a1.42,1.42 0 1,0 -2.83,0M620.53,347.81a1.42,1.42 0 1,0 2.83,0a1.42,1.42 0 1,0 -2.83,0M630.39,347.81a1.42,1.42 0 1,0 2.83,0a1.42,1.42 0 1,0 -2.83,0M640.24,347.81a1.42,1.42 0 1,0 2.83,0a1.42,1.42 0 1,0 -2.83,0M650.10,347.81a1.42,1.42 0 1,0 2.83,0a1.42,1.42 0 1,0 -2.83,0M659.95,347.81a1.42,1.42 0 1,0 2.83,0a1.42,1.42 0 1,0 -2.83,0M669.81,347.81a1.42,1.42 0 1,0 2.83,0a1.42,1.42 0 1,0 -2.83,0M679.66,347.81a1.42,1.42 0 1,0 2.83,0a1.42,1.42 0 1,0 -2.83,0M689.52,347.81a1.42,1.42 0 1,0 2.83,0a1.42,1.42 0 1,0 -2.83,0M699.37,347.81a1.42,1.42 0 1,0 2.83,0a1.42,1.42 0 1,0 -2.83,0M709.23,347.81a1.42,1.42 0 1,0 2.83,0a1.42,1.42 0 1,0 -2.83,0M719.08,347.81a1.42,1.42 0 1,0 2.83,0a1.42,1.42 0 1,0 -2.83,0" fill="#00ff00"/>
</g>
<rect x="523.4" y="342.2" width="197.10" height="128.10" fill="none" stroke="#3a3a3a" stroke-width="0.9"/>
<line x1="523.40" y1="470.3" x2="523.40" y2="472.45" stroke="#3a3a3a" stroke-width="0.8"/>
<text x="523.40" y="479.68" font-size="6.15" text-anchor="middle" textLength="9.32" lengthAdjust="spacingAndGlyphs">0.0</text>
<line x1="548.04" y1="470.3" x2="548.04" y2="472.45" stroke="#3a3a3a" stroke-width="0.8"/>
<text x="548.04" y="479.68" font-size="6.15" text-anchor="middle" textLength="9.32" lengthAdjust="spacingAndGlyphs">2.5</text>
<line x1="572.67" y1="470.3" x2="572.67" y2="472.45" stroke="#3a3a3a" stroke-width="0.8"/>
<text x="572.67" y="479.68" font-size="6.15" text-anchor="middle" textLength="9.32" lengthAdjust="spacingAndGlyphs">5.0</text>
<line x1="597.31" y1="470.3" x2="597.31" y2="472.45" stroke="#3a3a3a" stroke-width="0.8"/>
<text x="597.31" y="479.68" font-size="6.15" text-anchor="middle" textLength="9.32" lengthAdjust="spacingAndGlyphs">7.5</text>
<line x1="621.95" y1="470.3" x2="621.95" y2="472.45" stroke="#3a3a3a" stroke-width="0.8"/>
<text x="621.95" y="479.68" font-size="6.15" text-anchor="middle" textLength="13.05" lengthAdjust="spacingAndGlyphs">10.0</text>
<line x1="646.59" y1="470.3" x2="646.59" y2="472.45" stroke="#3a3a3a" stroke-width="0.8"/>
<text x="646.59" y="479.68" font-size="6.15" text-anchor="middle" textLength="13.05" lengthAdjust="spacingAndGlyphs">12.5</text>
<line x1="671.23" y1="470.3" x2="671.23" y2="472.45" stroke="#3a3a3a" stroke-width="0.8"/>
<text x="671.23" y="479.68" font-size="6.15" text-anchor="middle" textLength="13.05" lengthAdjust="spacingAndGlyphs">15.0</text>
<line x1="695.86" y1="470.3" x2="695.86" y2="472.45" stroke="#3a3a3a" stroke-width="0.8"/>
<text x="695.86" y="479.68" font-size="6.15" text-anchor="middle" textLength="13.05" lengthAdjust="spacingAndGlyphs">17.5</text>
<line x1="720.50" y1="470.3" x2="720.50" y2="472.45" stroke="#3a3a3a" stroke-width="0.8"/>
<text x="720.50" y="479.68" font-size="6.15" text-anchor="middle" textLength="13.05" lengthAdjust="spacingAndGlyphs">20.0</text>
<text x="621.95" y="487.10" font-size="6.15" text-anchor="middle" textLength="27.91" lengthAdjust="spacingAndGlyphs">Iterations</text>
<line x1="521.25" y1="464.70" x2="523.4" y2="464.70" stroke="#3a3a3a" stroke-width="0.8"/>
<text x="519.30" y="466.95" font-size="6.15" text-anchor="end" textLength="16.78" lengthAdjust="spacingAndGlyphs">0.000</text>
<line x1="521.25" y1="438.40" x2="523.4" y2="438.40" stroke="#3a3a3a" stroke-width="0.8"/>
<text x="519.30" y="440.65" font-size="6.15" text-anchor="end" textLength="16.78" lengthAdjust="spacingAndGlyphs">0.005</text>
<line x1="521.25" y1="412.10" x2="523.4" y2="412.10" stroke="#3a3a3a" stroke-width="0.8"/>
<text x="519.30" y="414.35" font-size="6.15" text-anchor="end" textLength="16.78" lengthAdjust="spacingAndGlyphs">0.010</text>
<line x1="521.25" y1="385.80" x2="523.4" y2="385.80" stroke="#3a3a3a" stroke-width="0.8"/>
<text x="519.30" y="388.05" font-size="6.15" text-anchor="end" textLength="16.78" lengthAdjust="spacingAndGlyphs">0.015</text>
<line x1="521.25" y1="359.50" x2="523.4" y2="359.50" stroke="#3a3a3a" stroke-width="0.8"/>
<text x="519.30" y="361.75" font-size="6.15" text-anchor="end" textLength="16.78" lengthAdjust="spacingAndGlyphs">0.020</text>
<g><text x="0" y="0" font-size="6.15" text-anchor="middle" textLength="88.18" lengthAdjust="spacingAndGlyphs" transform="translate(498.10,406.25) rotate(-90)">Objective (classification error)</text></g>
<rect x="660.53" y="345.13" width="57.04" height="70.52" rx="1.2" fill="#fff" fill-opacity="0.8" stroke="#ccc" stroke-opacity="0.8" stroke-width="0.7"/>
<line x1="662.87" y1="349.92" x2="674.59" y2="349.92" stroke="#ff0000" stroke-width="0.9" stroke-dasharray="3.3,1.45"/>
<path d="M667.37,348.35L670.39,349.92L667.37,351.48Z" fill="#ff0000"/>
<text x="679.28" y="352.06" font-size="6.15" text-anchor="start" textLength="35.90" lengthAdjust="spacingAndGlyphs">ELM-MS-AFS</text>
<line x1="662.87" y1="358.54" x2="674.59" y2="358.54" stroke="#0000ff" stroke-width="0.9"/>
<path d="M667.32,358.54a1.42,1.42 0 1,0 2.83,0a1.42,1.42 0 1,0 -2.83,0" fill="#0000ff"/>
<text x="679.28" y="360.69" font-size="6.15" text-anchor="start" textLength="26.03" lengthAdjust="spacingAndGlyphs">ELM-ABC</text>
<line x1="662.87" y1="367.16" x2="674.59" y2="367.16" stroke="#008000" stroke-width="0.9"/>
<path d="M667.32,367.16a1.42,1.42 0 1,0 2.83,0a1.42,1.42 0 1,0 -2.83,0" fill="#008000"/>
<text x="679.28" y="369.31" font-size="6.15" text-anchor="start" textLength="20.98" lengthAdjust="spacingAndGlyphs">ELM-FA</text>
<line x1="662.87" y1="375.79" x2="674.59" y2="375.79" stroke="#c000c0" stroke-width="0.9"/>
<path d="M667.32,375.79a1.42,1.42 0 1,0 2.83,0a1.42,1.42 0 1,0 -2.83,0" fill="#c000c0"/>
<text x="679.28" y="377.94" font-size="6.15" text-anchor="start" textLength="25.96" lengthAdjust="spacingAndGlyphs">ELM-SCA</text>
<line x1="662.87" y1="384.41" x2="674.59" y2="384.41" stroke="#daa520" stroke-width="0.9"/>
<path d="M667.66,384.41a1.07,1.07 0 1,0 2.15,0a1.07,1.07 0 1,0 -2.15,0" fill="#daa520"/>
<text x="679.28" y="386.56" font-size="6.15" text-anchor="start" textLength="21.96" lengthAdjust="spacingAndGlyphs">ELM-BA</text>
<line x1="662.87" y1="393.04" x2="674.59" y2="393.04" stroke="#5046aa" stroke-width="0.9"/>
<path d="M667.61,391.91h2.25v2.25h-2.25Z" fill="#5046aa"/>
<text x="679.28" y="395.19" font-size="6.15" text-anchor="start" textLength="27.56" lengthAdjust="spacingAndGlyphs">ELM-HHO</text>
<line x1="662.87" y1="401.66" x2="674.59" y2="401.66" stroke="#00ffff" stroke-width="0.9"/>
<path d="M667.32,401.66a1.42,1.42 0 1,0 2.83,0a1.42,1.42 0 1,0 -2.83,0" fill="#00ffff"/>
<text x="679.28" y="403.81" font-size="6.15" text-anchor="start" textLength="28.21" lengthAdjust="spacingAndGlyphs">ELM-WOA</text>
<line x1="662.87" y1="410.29" x2="674.59" y2="410.29" stroke="#00ff00" stroke-width="0.9"/>
<path d="M667.32,410.29a1.42,1.42 0 1,0 2.83,0a1.42,1.42 0 1,0 -2.83,0" fill="#00ff00"/>
<text x="679.28" y="412.44" font-size="6.15" text-anchor="start" textLength="26.27" lengthAdjust="spacingAndGlyphs">ELM-IWO</text>
<text x="136.40" y="499.31" font-size="8.18" text-anchor="middle" textLength="136.88" lengthAdjust="spacingAndGlyphs">Wine 30 neurons convergence graphs</text>
<clipPath id="c9"><rect x="35.7" y="502.6" width="201.40" height="130.60"/></clipPath>
<g clip-path="url(#c9)">
<polyline points="35.70,627.70 45.77,627.70 55.84,627.70 65.91,627.70 75.98,627.70 86.05,627.70 96.12,627.70 106.19,627.70 116.26,627.70 126.33,627.70 136.40,627.70 146.47,627.70 156.54,627.70 166.61,627.70 176.68,627.70 186.75,627.70 196.82,627.70 206.89,627.70 216.96,627.70 227.03,627.70 237.10,627.70" fill="none" stroke="#ff0000" stroke-width="0.9" stroke-dasharray="3.3,1.45"/>
<path d="M34.30,626.10L37.40,627.70L34.30,629.30ZM44.37,626.10L47.47,627.70L44.37,629.30ZM54.44,626.10L57.54,627.70L54.44,629.30ZM64.51,626.10L67.61,627.70L64.51,629.30ZM74.58,626.10L77.68,627.70L74.58,629.30ZM84.65,626.10L87.75,627.70L84.65,629.30ZM94.72,626.10L97.82,627.70L94.72,629.30ZM104.79,626.10L107.89,627.70L104.79,629.30ZM114.86,626.10L117.96,627.70L114.86,629.30ZM124.93,626.10L128.03,627.70L124.93,629.30ZM135.00,626.10L138.10,627.70L135.00,629.30ZM145.07,626.10L148.17,627.70L145.07,629.30ZM155.14,626.10L158.24,627.70L155.14,629.30ZM165.21,626.10L168.31,627.70L165.21,629.30ZM175.28,626.10L178.38,627.70L175.28,629.30ZM185.35,626.10L188.45,627.70L185.35,629.30ZM195.42,626.10L198.52,627.70L195.42,629.30ZM205.49,626.10L208.59,627.70L205.49,629.30ZM215.56,626.10L218.66,627.70L215.56,629.30ZM225.63,626.10L228.73,627.70L225.63,629.30ZM235.70,626.10L238.80,627.70L235.70,629.30Z" fill="#ff0000"/>
<polyline points="35.70,587.92 45.77,587.92 55.84,587.92 65.91,587.92 75.98,587.92 86.05,627.70 96.12,627.70 106.19,627.70 116.26,627.70 126.33,627.70 136.40,627.70 146.47,627.70 156.54,627.70 166.61,627.70 176.68,627.70 186.75,627.70 196.82,627.70 206.89,627.70 216.96,627.70 227.03,627.70 237.10,627.70" fill="none" stroke="#0000ff" stroke-width="0.9"/>
<path d="M34.25,587.92a1.45,1.45 0 1,0 2.89,0a1.45,1.45 0 1,0 -2.89,0M44.32,587.92a1.45,1.45 0 1,0 2.89,0a1.45,1.45 0 1,0 -2.89,0M54.39,587.92a1.45,1.45 0 1,0 2.89,0a1.45,1.45 0 1,0 -2.89,0M64.46,587.92a1.45,1.45 0 1,0 2.89,0a1.45,1.45 0 1,0 -2.89,0M74.53,587.92a1.45,1.45 0 1,0 2.89,0a1.45,1.45 0 1,0 -2.89,0M84.60,627.70a1.45,1.45 0 1,0 2.89,0a1.45,1.45 0 1,0 -2.89,0M94.67,627.70a1.45,1.45 0 1,0 2.89,0a1.45,1.45 0 1,0 -2.89,0M104.74,627.70a1.45,1.45 0 1,0 2.89,0a1.45,1.45 0 1,0 -2.89,0M114.81,627.70a1.45,1.45 0 1,0 2.89,0a1.45,1.45 0 1,0 -2.89,0M124.88,627.70a1.45,1.45 0 1,0 2.89,0a1.45,1.45 0 1,0 -2.89,0M134.95,627.70a1.45,1.45 0 1,0 2.89,0a1.45,1.45 0 1,0 -2.89,0M145.02,627.70a1.45,1.45 0 1,0 2.89,0a1.45,1.45 0 1,0 -2.89,0M155.09,627.70a1.45,1.45 0 1,0 2.89,0a1.45,1.45 0 1,0 -2.89,0M165.16,627.70a1.45,1.45 0 1,0 2.89,0a1.45,1.45 0 1,0 -2.89,0M175.23,627.70a1.45,1.45 0 1,0 2.89,0a1.45,1.45 0 1,0 -2.89,0M185.30,627.70a1.45,1.45 0 1,0 2.89,0a1.45,1.45 0 1,0 -2.89,0M195.37,627.70a1.45,1.45 0 1,0 2.89,0a1.45,1.45 0 1,0 -2.89,0M205.44,627.70a1.45,1.45 0 1,0 2.89,0a1.45,1.45 0 1,0 -2.89,0M215.51,627.70a1.45,1.45 0 1,0 2.89,0a1.45,1.45 0 1,0 -2.89,0M225.58,627.70a1.45,1.45 0 1,0 2.89,0a1.45,1.45 0 1,0 -2.89,0M235.65,627.70a1.45,1.45 0 1,0 2.89,0a1.45,1.45 0 1,0 -2.89,0" fill="#0000ff"/>
<polyline points="35.70,508.37 45.77,508.37 55.84,548.14 65.91,548.14 75.98,548.14 86.05,587.92 96.12,587.92 106.19,587.92 116.26,587.92 126.33,587.92 136.40,587.92 146.47,587.92 156.54,587.92 166.61,587.92 176.68,587.92 186.75,587.92 196.82,587.92 206.89,587.92 216.96,587.92 227.03,587.92 237.10,587.92" fill="none" stroke="#008000" stroke-width="0.9"/>
<path d="M34.25,508.37a1.45,1.45 0 1,0 2.89,0a1.45,1.45 0 1,0 -2.89,0M44.32,508.37a1.45,1.45 0 1,0 2.89,0a1.45,1.45 0 1,0 -2.89,0M54.39,548.14a1.45,1.45 0 1,0 2.89,0a1.45,1.45 0 1,0 -2.89,0M64.46,548.14a1.45,1.45 0 1,0 2.89,0a1.45,1.45 0 1,0 -2.89,0M74.53,548.14a1.45,1.45 0 1,0 2.89,0a1.45,1.45 0 1,0 -2.89,0M84.60,587.92a1.45,1.45 0 1,0 2.89,0a1.45,1.45 0 1,0 -2.89,0M94.67,587.92a1.45,1.45 0 1,0 2.89,0a1.45,1.45 0 1,0 -2.89,0M104.74,587.92a1.45,1.45 0 1,0 2.89,0a1.45,1.45 0 1,0 -2.89,0M114.81,587.92a1.45,1.45 0 1,0 2.89,0a1.45,1.45 0 1,0 -2.89,0M124.88,587.92a1.45,1.45 0 1,0 2.89,0a1.45,1.45 0 1,0 -2.89,0M134.95,587.92a1.45,1.45 0 1,0 2.89,0a1.45,1.45 0 1,0 -2.89,0M145.02,587.92a1.45,1.45 0 1,0 2.89,0a1.45,1.45 0 1,0 -2.89,0M155.09,587.92a1.45,1.45 0 1,0 2.89,0a1.45,1.45 0 1,0 -2.89,0M165.16,587.92a1.45,1.45 0 1,0 2.89,0a1.45,1.45 0 1,0 -2.89,0M175.23,587.92a1.45,1.45 0 1,0 2.89,0a1.45,1.45 0 1,0 -2.89,0M185.30,587.92a1.45,1.45 0 1,0 2.89,0a1.45,1.45 0 1,0 -2.89,0M195.37,587.92a1.45,1.45 0 1,0 2.89,0a1.45,1.45 0 1,0 -2.89,0M205.44,587.92a1.45,1.45 0 1,0 2.89,0a1.45,1.45 0 1,0 -2.89,0M215.51,587.92a1.45,1.45 0 1,0 2.89,0a1.45,1.45 0 1,0 -2.89,0M225.58,587.92a1.45,1.45 0 1,0 2.89,0a1.45,1.45 0 1,0 -2.89,0M235.65,587.92a1.45,1.45 0 1,0 2.89,0a1.45,1.45 0 1,0 -2.89,0" fill="#008000"/>
<polyline points="35.70,548.14 45.77,548.14 55.84,548.14 65.91,548.14 75.98,548.14 86.05,548.14 96.12,548.14 106.19,548.14 116.26,587.92 126.33,587.92 136.40,627.70 146.47,627.70 156.54,627.70 166.61,627.70 176.68,627.70 186.75,627.70 196.82,627.70 206.89,627.70 216.96,627.70 227.03,627.70 237.10,627.70" fill="none" stroke="#c000c0" stroke-width="0.9"/>
<path d="M34.25,548.14a1.45,1.45 0 1,0 2.89,0a1.45,1.45 0 1,0 -2.89,0M44.32,548.14a1.45,1.45 0 1,0 2.89,0a1.45,1.45 0 1,0 -2.89,0M54.39,548.14a1.45,1.45 0 1,0 2.89,0a1.45,1.45 0 1,0 -2.89,0M64.46,548.14a1.45,1.45 0 1,0 2.89,0a1.45,1.45 0 1,0 -2.89,0M74.53,548.14a1.45,1.45 0 1,0 2.89,0a1.45,1.45 0 1,0 -2.89,0M84.60,548.14a1.45,1.45 0 1,0 2.89,0a1.45,1.45 0 1,0 -2.89,0M94.67,548.14a1.45,1.45 0 1,0 2.89,0a1.45,1.45 0 1,0 -2.89,0M104.74,548.14a1.45,1.45 0 1,0 2.89,0a1.45,1.45 0 1,0 -2.89,0M114.81,587.92a1.45,1.45 0 1,0 2.89,0a1.45,1.45 0 1,0 -2.89,0M124.88,587.92a1.45,1.45 0 1,0 2.89,0a1.45,1.45 0 1,0 -2.89,0M134.95,627.70a1.45,1.45 0 1,0 2.89,0a1.45,1.45 0 1,0 -2.89,0M145.02,627.70a1.45,1.45 0 1,0 2.89,0a1.45,1.45 0 1,0 -2.89,0M155.09,627.70a1.45,1.45 0 1,0 2.89,0a1.45,1.45 0 1,0 -2.89,0M165.16,627.70a1.45,1.45 0 1,0 2.89,0a1.45,1.45 0 1,0 -2.89,0M175.23,627.70a1.45,1.45 0 1,0 2.89,0a1.45,1.45 0 1,0 -2.89,0M185.30,627.70a1.45,1.45 0 1,0 2.89,0a1.45,1.45 0 1,0 -2.89,0M195.37,627.70a1.45,1.45 0 1,0 2.89,0a1.45,1.45 0 1,0 -2.89,0M205.44,627.70a1.45,1.45 0 1,0 2.89,0a1.45,1.45 0 1,0 -2.89,0M215.51,627.70a1.45,1.45 0 1,0 2.89,0a1.45,1.45 0 1,0 -2.89,0M225.58,627.70a1.45,1.45 0 1,0 2.89,0a1.45,1.45 0 1,0 -2.89,0M235.65,627.70a1.45,1.45 0 1,0 2.89,0a1.45,1.45 0 1,0 -2.89,0" fill="#c000c0"/>
<polyline points="35.70,548.14 45.77,548.14 55.84,548.14 65.91,548.14 75.98,548.14 86.05,548.14 96.12,548.14 106.19,548.14 116.26,587.92 126.33,587.92 136.40,587.92 146.47,587.92 156.54,627.70 166.61,627.70 176.68,627.70 186.75,627.70 196.82,627.70 206.89,627.70 216.96,627.70 227.03,627.70 237.10,627.70" fill="none" stroke="#daa520" stroke-width="0.9"/>
<path d="M34.60,548.14a1.10,1.10 0 1,0 2.20,0a1.10,1.10 0 1,0 -2.20,0M44.67,548.14a1.10,1.10 0 1,0 2.20,0a1.10,1.10 0 1,0 -2.20,0M54.74,548.14a1.10,1.10 0 1,0 2.20,0a1.10,1.10 0 1,0 -2.20,0M64.81,548.14a1.10,1.10 0 1,0 2.20,0a1.10,1.10 0 1,0 -2.20,0M74.88,548.14a1.10,1.10 0 1,0 2.20,0a1.10,1.10 0 1,0 -2.20,0M84.95,548.14a1.10,1.10 0 1,0 2.20,0a1.10,1.10 0 1,0 -2.20,0M95.02,548.14a1.10,1.10 0 1,0 2.20,0a1.10,1.10 0 1,0 -2.20,0M105.09,548.14a1.10,1.10 0 1,0 2.20,0a1.10,1.10 0 1,0 -2.20,0M115.16,587.92a1.10,1.10 0 1,0 2.20,0a1.10,1.10 0 1,0 -2.20,0M125.23,587.92a1.10,1.10 0 1,0 2.20,0a1.10,1.10 0 1,0 -2.20,0M135.30,587.92a1.10,1.10 0 1,0 2.20,0a1.10,1.10 0 1,0 -2.20,0M145.37,587.92a1.10,1.10 0 1,0 2.20,0a1.10,1.10 0 1,0 -2.20,0M155.44,627.70a1.10,1.10 0 1,0 2.20,0a1.10,1.10 0 1,0 -2.20,0M165.51,627.70a1.10,1.10 0 1,0 2.20,0a1.10,1.10 0 1,0 -2.20,0M175.58,627.70a1.10,1.10 0 1,0 2.20,0a1.10,1.10 0 1,0 -2.20,0M185.65,627.70a1.10,1.10 0 1,0 2.20,0a1.10,1.10 0 1,0 -2.20,0M195.72,627.70a1.10,1.10 0 1,0 2.20,0a1.10,1.10 0 1,0 -2.20,0M205.79,627.70a1.10,1.10 0 1,0 2.20,0a1.10,1.10 0 1,0 -2.20,0M215.86,627.70a1.10,1.10 0 1,0 2.20,0a1.10,1.10 0 1,0 -2.20,0M225.93,627.70a1.10,1.10 0 1,0 2.20,0a1.10,1.10 0 1,0 -2.20,0M236.00,627.70a1.10,1.10 0 1,0 2.20,0a1.10,1.10 0 1,0 -2.20,0" fill="#daa520"/>
<polyline points="35.70,548.14 45.77,548.14 55.84,548.14 65.91,548.14 75.98,548.14 86.05,548.14 96.12,548.14 106.19,548.14 116.26,548.14 126.33,548.14 136.40,548.14 146.47,548.14 156.54,548.14 166.61,548.14 176.68,548.14 186.75,548.14 196.82,587.92 206.89,587.92 216.96,627.70 227.03,627.70 237.10,627.70" fill="none" stroke="#5046aa" stroke-width="0.9"/>
<path d="M34.55,547.00h2.30v2.30h-2.30ZM44.62,547.00h2.30v2.30h-2.30ZM54.69,547.00h2.30v2.30h-2.30ZM64.76,547.00h2.30v2.30h-2.30ZM74.83,547.00h2.30v2.30h-2.30ZM84.90,547.00h2.30v2.30h-2.30ZM94.97,547.00h2.30v2.30h-2.30ZM105.04,547.00h2.30v2.30h-2.30ZM115.11,547.00h2.30v2.30h-2.30ZM125.18,547.00h2.30v2.30h-2.30ZM135.25,547.00h2.30v2.30h-2.30ZM145.32,547.00h2.30v2.30h-2.30ZM155.39,547.00h2.30v2.30h-2.30ZM165.46,547.00h2.30v2.30h-2.30ZM175.53,547.00h2.30v2.30h-2.30ZM185.60,547.00h2.30v2.30h-2.30ZM195.67,586.77h2.30v2.30h-2.30ZM205.74,586.77h2.30v2.30h-2.30ZM215.81,626.55h2.30v2.30h-2.30ZM225.88,626.55h2.30v2.30h-2.30ZM235.95,626.55h2.30v2.30h-2.30Z" fill="#5046aa"/>
<polyline points="35.70,508.37 45.77,508.37 55.84,508.37 65.91,548.14 75.98,548.14 86.05,548.14 96.12,548.14 106.19,548.14 116.26,548.14 126.33,548.14 136.40,548.14 146.47,548.14 156.54,548.14 166.61,548.14 176.68,548.14 186.75,548.14 196.82,587.92 206.89,587.92 216.96,587.92 227.03,587.92 237.10,587.92" fill="none" stroke="#00ffff" stroke-width="0.9"/>
<path d="M34.25,508.37a1.45,1.45 0 1,0 2.89,0a1.45,1.45 0 1,0 -2.89,0M44.32,508.37a1.45,1.45 0 1,0 2.89,0a1.45,1.45 0 1,0 -2.89,0M54.39,508.37a1.45,1.45 0 1,0 2.89,0a1.45,1.45 0 1,0 -2.89,0M64.46,548.14a1.45,1.45 0 1,0 2.89,0a1.45,1.45 0 1,0 -2.89,0M74.53,548.14a1.45,1.45 0 1,0 2.89,0a1.45,1.45 0 1,0 -2.89,0M84.60,548.14a1.45,1.45 0 1,0 2.89,0a1.45,1.45 0 1,0 -2.89,0M94.67,548.14a1.45,1.45 0 1,0 2.89,0a1.45,1.45 0 1,0 -2.89,0M104.74,548.14a1.45,1.45 0 1,0 2.89,0a1.45,1.45 0 1,0 -2.89,0M114.81,548.14a1.45,1.45 0 1,0 2.89,0a1.45,1.45 0 1,0 -2.89,0M124.88,548.14a1.45,1.45 0 1,0 2.89,0a1.45,1.45 0 1,0 -2.89,0M134.95,548.14a1.45,1.45 0 1,0 2.89,0a1.45,1.45 0 1,0 -2.89,0M145.02,548.14a1.45,1.45 0 1,0 2.89,0a1.45,1.45 0 1,0 -2.89,0M155.09,548.14a1.45,1.45 0 1,0 2.89,0a1.45,1.45 0 1,0 -2.89,0M165.16,548.14a1.45,1.45 0 1,0 2.89,0a1.45,1.45 0 1,0 -2.89,0M175.23,548.14a1.45,1.45 0 1,0 2.89,0a1.45,1.45 0 1,0 -2.89,0M185.30,548.14a1.45,1.45 0 1,0 2.89,0a1.45,1.45 0 1,0 -2.89,0M195.37,587.92a1.45,1.45 0 1,0 2.89,0a1.45,1.45 0 1,0 -2.89,0M205.44,587.92a1.45,1.45 0 1,0 2.89,0a1.45,1.45 0 1,0 -2.89,0M215.51,587.92a1.45,1.45 0 1,0 2.89,0a1.45,1.45 0 1,0 -2.89,0M225.58,587.92a1.45,1.45 0 1,0 2.89,0a1.45,1.45 0 1,0 -2.89,0M235.65,587.92a1.45,1.45 0 1,0 2.89,0a1.45,1.45 0 1,0 -2.89,0" fill="#00ffff"/>
<polyline points="35.70,627.70 45.77,627.70 55.84,627.70 65.91,627.70 75.98,627.70 86.05,627.70 96.12,627.70 106.19,627.70 116.26,627.70 126.33,627.70 136.40,627.70 146.47,627.70 156.54,627.70 166.61,627.70 176.68,627.70 186.75,627.70 196.82,627.70 206.89,627.70 216.96,627.70 227.03,627.70 237.10,627.70" fill="none" stroke="#00ff00" stroke-width="0.9"/>
<path d="M34.25,627.70a1.45,1.45 0 1,0 2.89,0a1.45,1.45 0 1,0 -2.89,0M44.32,627.70a1.45,1.45 0 1,0 2.89,0a1.45,1.45 0 1,0 -2.89,0M54.39,627.70a1.45,1.45 0 1,0 2.89,0a1.45,1.45 0 1,0 -2.89,0M64.46,627.70a1.45,1.45 0 1,0 2.89,0a1.45,1.45 0 1,0 -2.89,0M74.53,627.70a1.45,1.45 0 1,0 2.89,0a1.45,1.45 0 1,0 -2.89,0M84.60,627.70a1.45,1.45 0 1,0 2.89,0a1.45,1.45 0 1,0 -2.89,0M94.67,627.70a1.45,1.45 0 1,0 2.89,0a1.45,1.45 0 1,0 -2.89,0M104.74,627.70a1.45,1.45 0 1,0 2.89,0a1.45,1.45 0 1,0 -2.89,0M114.81,627.70a1.45,1.45 0 1,0 2.89,0a1.45,1.45 0 1,0 -2.89,0M124.88,627.70a1.45,1.45 0 1,0 2.89,0a1.45,1.45 0 1,0 -2.89,0M134.95,627.70a1.45,1.45 0 1,0 2.89,0a1.45,1.45 0 1,0 -2.89,0M145.02,627.70a1.45,1.45 0 1,0 2.89,0a1.45,1.45 0 1,0 -2.89,0M155.09,627.70a1.45,1.45 0 1,0 2.89,0a1.45,1.45 0 1,0 -2.89,0M165.16,627.70a1.45,1.45 0 1,0 2.89,0a1.45,1.45 0 1,0 -2.89,0M175.23,627.70a1.45,1.45 0 1,0 2.89,0a1.45,1.45 0 1,0 -2.89,0M185.30,627.70a1.45,1.45 0 1,0 2.89,0a1.45,1.45 0 1,0 -2.89,0M195.37,627.70a1.45,1.45 0 1,0 2.89,0a1.45,1.45 0 1,0 -2.89,0M205.44,627.70a1.45,1.45 0 1,0 2.89,0a1.45,1.45 0 1,0 -2.89,0M215.51,627.70a1.45,1.45 0 1,0 2.89,0a1.45,1.45 0 1,0 -2.89,0M225.58,627.70a1.45,1.45 0 1,0 2.89,0a1.45,1.45 0 1,0 -2.89,0M235.65,627.70a1.45,1.45 0 1,0 2.89,0a1.45,1.45 0 1,0 -2.89,0" fill="#00ff00"/>
</g>
<rect x="35.7" y="502.6" width="201.40" height="130.60" fill="none" stroke="#3a3a3a" stroke-width="0.9"/>
<line x1="35.70" y1="633.2" x2="35.70" y2="635.40" stroke="#3a3a3a" stroke-width="0.8"/>
<text x="35.70" y="642.78" font-size="6.29" text-anchor="middle" textLength="9.52" lengthAdjust="spacingAndGlyphs">0.0</text>
<line x1="60.88" y1="633.2" x2="60.88" y2="635.40" stroke="#3a3a3a" stroke-width="0.8"/>
<text x="60.88" y="642.78" font-size="6.29" text-anchor="middle" textLength="9.52" lengthAdjust="spacingAndGlyphs">2.5</text>
<line x1="86.05" y1="633.2" x2="86.05" y2="635.40" stroke="#3a3a3a" stroke-width="0.8"/>
<text x="86.05" y="642.78" font-size="6.29" text-anchor="middle" textLength="9.52" lengthAdjust="spacingAndGlyphs">5.0</text>
<line x1="111.22" y1="633.2" x2="111.22" y2="635.40" stroke="#3a3a3a" stroke-width="0.8"/>
<text x="111.22" y="642.78" font-size="6.29" text-anchor="middle" textLength="9.52" lengthAdjust="spacingAndGlyphs">7.5</text>
<line x1="136.40" y1="633.2" x2="136.40" y2="635.40" stroke="#3a3a3a" stroke-width="0.8"/>
<text x="136.40" y="642.78" font-size="6.29" text-anchor="middle" textLength="13.33" lengthAdjust="spacingAndGlyphs">10.0</text>
<line x1="161.57" y1="633.2" x2="161.57" y2="635.40" stroke="#3a3a3a" stroke-width="0.8"/>
<text x="161.57" y="642.78" font-size="6.29" text-anchor="middle" textLength="13.33" lengthAdjust="spacingAndGlyphs">12.5</text>
<line x1="186.75" y1="633.2" x2="186.75" y2="635.40" stroke="#3a3a3a" stroke-width="0.8"/>
<text x="186.75" y="642.78" font-size="6.29" text-anchor="middle" textLength="13.33" lengthAdjust="spacingAndGlyphs">15.0</text>
<line x1="211.92" y1="633.2" x2="211.92" y2="635.40" stroke="#3a3a3a" stroke-width="0.8"/>
<text x="211.92" y="642.78" font-size="6.29" text-anchor="middle" textLength="13.33" lengthAdjust="spacingAndGlyphs">17.5</text>
<line x1="237.10" y1="633.2" x2="237.10" y2="635.40" stroke="#3a3a3a" stroke-width="0.8"/>
<text x="237.10" y="642.78" font-size="6.29" text-anchor="middle" textLength="13.33" lengthAdjust="spacingAndGlyphs">20.0</text>
<text x="136.40" y="650.37" font-size="6.29" text-anchor="middle" textLength="28.52" lengthAdjust="spacingAndGlyphs">Iterations</text>
<line x1="33.50" y1="627.70" x2="35.7" y2="627.70" stroke="#3a3a3a" stroke-width="0.8"/>
<text x="31.51" y="630.00" font-size="6.29" text-anchor="end" textLength="13.33" lengthAdjust="spacingAndGlyphs">0.00</text>
<line x1="33.50" y1="606.22" x2="35.7" y2="606.22" stroke="#3a3a3a" stroke-width="0.8"/>
<text x="31.51" y="608.52" font-size="6.29" text-anchor="end" textLength="13.33" lengthAdjust="spacingAndGlyphs">0.01</text>
<line x1="33.50" y1="584.74" x2="35.7" y2="584.74" stroke="#3a3a3a" stroke-width="0.8"/>
<text x="31.51" y="587.04" font-size="6.29" text-anchor="end" textLength="13.33" lengthAdjust="spacingAndGlyphs">0.02</text>
<line x1="33.50" y1="563.26" x2="35.7" y2="563.26" stroke="#3a3a3a" stroke-width="0.8"/>
<text x="31.51" y="565.56" font-size="6.29" text-anchor="end" textLength="13.33" lengthAdjust="spacingAndGlyphs">0.03</text>
<line x1="33.50" y1="541.78" x2="35.7" y2="541.78" stroke="#3a3a3a" stroke-width="0.8"/>
<text x="31.51" y="544.08" font-size="6.29" text-anchor="end" textLength="13.33" lengthAdjust="spacingAndGlyphs">0.04</text>
<line x1="33.50" y1="520.30" x2="35.7" y2="520.30" stroke="#3a3a3a" stroke-width="0.8"/>
<text x="31.51" y="522.60" font-size="6.29" text-anchor="end" textLength="13.33" lengthAdjust="spacingAndGlyphs">0.05</text>
<g><text x="0" y="0" font-size="6.29" text-anchor="middle" textLength="90.10" lengthAdjust="spacingAndGlyphs" transform="translate(14.50,567.90) rotate(-90)">Objective (classification error)</text></g>
<rect x="175.82" y="505.59" width="58.28" height="72.06" rx="1.2" fill="#fff" fill-opacity="0.8" stroke="#ccc" stroke-opacity="0.8" stroke-width="0.7"/>
<line x1="178.22" y1="510.48" x2="190.19" y2="510.48" stroke="#ff0000" stroke-width="0.9" stroke-dasharray="3.3,1.45"/>
<path d="M182.81,508.89L185.90,510.48L182.81,512.08Z" fill="#ff0000"/>
<text x="194.98" y="512.68" font-size="6.29" text-anchor="start" textLength="36.68" lengthAdjust="spacingAndGlyphs">ELM-MS-AFS</text>
<line x1="178.22" y1="519.30" x2="190.19" y2="519.30" stroke="#0000ff" stroke-width="0.9"/>
<path d="M182.76,519.30a1.45,1.45 0 1,0 2.89,0a1.45,1.45 0 1,0 -2.89,0" fill="#0000ff"/>
<text x="194.98" y="521.49" font-size="6.29" text-anchor="start" textLength="26.60" lengthAdjust="spacingAndGlyphs">ELM-ABC</text>
<line x1="178.22" y1="528.11" x2="190.19" y2="528.11" stroke="#008000" stroke-width="0.9"/>
<path d="M182.76,528.11a1.45,1.45 0 1,0 2.89,0a1.45,1.45 0 1,0 -2.89,0" fill="#008000"/>
<text x="194.98" y="530.30" font-size="6.29" text-anchor="start" textLength="21.44" lengthAdjust="spacingAndGlyphs">ELM-FA</text>
<line x1="178.22" y1="536.92" x2="190.19" y2="536.92" stroke="#c000c0" stroke-width="0.9"/>
<path d="M182.76,536.92a1.45,1.45 0 1,0 2.89,0a1.45,1.45 0 1,0 -2.89,0" fill="#c000c0"/>
<text x="194.98" y="539.12" font-size="6.29" text-anchor="start" textLength="26.53" lengthAdjust="spacingAndGlyphs">ELM-SCA</text>
<line x1="178.22" y1="545.73" x2="190.19" y2="545.73" stroke="#daa520" stroke-width="0.9"/>
<path d="M183.11,545.73a1.10,1.10 0 1,0 2.20,0a1.10,1.10 0 1,0 -2.20,0" fill="#daa520"/>
<text x="194.98" y="547.93" font-size="6.29" text-anchor="start" textLength="22.44" lengthAdjust="spacingAndGlyphs">ELM-BA</text>
<line x1="178.22" y1="554.55" x2="190.19" y2="554.55" stroke="#5046aa" stroke-width="0.9"/>
<path d="M183.06,553.40h2.30v2.30h-2.30Z" fill="#5046aa"/>
<text x="194.98" y="556.74" font-size="6.29" text-anchor="start" textLength="28.17" lengthAdjust="spacingAndGlyphs">ELM-HHO</text>
<line x1="178.22" y1="563.36" x2="190.19" y2="563.36" stroke="#00ffff" stroke-width="0.9"/>
<path d="M182.76,563.36a1.45,1.45 0 1,0 2.89,0a1.45,1.45 0 1,0 -2.89,0" fill="#00ffff"/>
<text x="194.98" y="565.55" font-size="6.29" text-anchor="start" textLength="28.83" lengthAdjust="spacingAndGlyphs">ELM-WOA</text>
<line x1="178.22" y1="572.17" x2="190.19" y2="572.17" stroke="#00ff00" stroke-width="0.9"/>
<path d="M182.76,572.17a1.45,1.45 0 1,0 2.89,0a1.45,1.45 0 1,0 -2.89,0" fill="#00ff00"/>
<text x="194.98" y="574.37" font-size="6.29" text-anchor="start" textLength="26.85" lengthAdjust="spacingAndGlyphs">ELM-IWO</text>
<text x="379.55" y="500.25" font-size="8.07" text-anchor="middle" textLength="134.91" lengthAdjust="spacingAndGlyphs">Wine 60 neurons convergence graphs</text>
<clipPath id="c10"><rect x="280.3" y="503.5" width="198.50" height="129.30"/></clipPath>
<g clip-path="url(#c10)">
<polyline points="280.30,568.57 290.23,568.57 300.15,627.20 310.07,627.20 320.00,627.20 329.93,627.20 339.85,627.20 349.77,627.20 359.70,627.20 369.62,627.20 379.55,627.20 389.48,627.20 399.40,627.20 409.33,627.20 419.25,627.20 429.18,627.20 439.10,627.20 449.02,627.20 458.95,627.20 468.88,627.20 478.80,627.20" fill="none" stroke="#ff0000" stroke-width="0.9" stroke-dasharray="3.3,1.45"/>
<path d="M278.92,567.00L281.97,568.57L278.92,570.14ZM288.85,567.00L291.90,568.57L288.85,570.14ZM298.77,625.63L301.82,627.20L298.77,628.77ZM308.70,625.63L311.75,627.20L308.70,628.77ZM318.62,625.63L321.67,627.20L318.62,628.77ZM328.55,625.63L331.60,627.20L328.55,628.77ZM338.47,625.63L341.52,627.20L338.47,628.77ZM348.40,625.63L351.45,627.20L348.40,628.77ZM358.32,625.63L361.37,627.20L358.32,628.77ZM368.25,625.63L371.30,627.20L368.25,628.77ZM378.17,625.63L381.22,627.20L378.17,628.77ZM388.10,625.63L391.15,627.20L388.10,628.77ZM398.02,625.63L401.07,627.20L398.02,628.77ZM407.95,625.63L411.00,627.20L407.95,628.77ZM417.87,625.63L420.92,627.20L417.87,628.77ZM427.80,625.63L430.85,627.20L427.80,628.77ZM437.72,625.63L440.77,627.20L437.72,628.77ZM447.65,625.63L450.70,627.20L447.65,628.77ZM457.57,625.63L460.62,627.20L457.57,628.77ZM467.50,625.63L470.55,627.20L467.50,628.77ZM477.42,625.63L480.47,627.20L477.42,628.77Z" fill="#ff0000"/>
<polyline points="280.30,568.57 290.23,568.57 300.15,568.57 310.07,568.57 320.00,568.57 329.93,568.57 339.85,568.57 349.77,568.57 359.70,568.57 369.62,568.57 379.55,568.57 389.48,568.57 399.40,568.57 409.33,627.20 419.25,627.20 429.18,627.20 439.10,627.20 449.02,627.20 458.95,627.20 468.88,627.20 478.80,627.20" fill="none" stroke="#0000ff" stroke-width="0.9"/>
<path d="M278.87,568.57a1.43,1.43 0 1,0 2.85,0a1.43,1.43 0 1,0 -2.85,0M288.80,568.57a1.43,1.43 0 1,0 2.85,0a1.43,1.43 0 1,0 -2.85,0M298.72,568.57a1.43,1.43 0 1,0 2.85,0a1.43,1.43 0 1,0 -2.85,0M308.65,568.57a1.43,1.43 0 1,0 2.85,0a1.43,1.43 0 1,0 -2.85,0M318.57,568.57a1.43,1.43 0 1,0 2.85,0a1.43,1.43 0 1,0 -2.85,0M328.50,568.57a1.43,1.43 0 1,0 2.85,0a1.43,1.43 0 1,0 -2.85,0M338.42,568.57a1.43,1.43 0 1,0 2.85,0a1.43,1.43 0 1,0 -2.85,0M348.35,568.57a1.43,1.43 0 1,0 2.85,0a1.43,1.43 0 1,0 -2.85,0M358.27,568.57a1.43,1.43 0 1,0 2.85,0a1.43,1.43 0 1,0 -2.85,0M368.20,568.57a1.43,1.43 0 1,0 2.85,0a1.43,1.43 0 1,0 -2.85,0M378.12,568.57a1.43,1.43 0 1,0 2.85,0a1.43,1.43 0 1,0 -2.85,0M388.05,568.57a1.43,1.43 0 1,0 2.85,0a1.43,1.43 0 1,0 -2.85,0M397.97,568.57a1.43,1.43 0 1,0 2.85,0a1.43,1.43 0 1,0 -2.85,0M407.90,627.20a1.43,1.43 0 1,0 2.85,0a1.43,1.43 0 1,0 -2.85,0M417.82,627.20a1.43,1.43 0 1,0 2.85,0a1.43,1.43 0 1,0 -2.85,0M427.75,627.20a1.43,1.43 0 1,0 2.85,0a1.43,1.43 0 1,0 -2.85,0M437.67,627.20a1.43,1.43 0 1,0 2.85,0a1.43,1.43 0 1,0 -2.85,0M447.60,627.20a1.43,1.43 0 1,0 2.85,0a1.43,1.43 0 1,0 -2.85,0M457.52,627.20a1.43,1.43 0 1,0 2.85,0a1.43,1.43 0 1,0 -2.85,0M467.45,627.20a1.43,1.43 0 1,0 2.85,0a1.43,1.43 0 1,0 -2.85,0M477.37,627.20a1.43,1.43 0 1,0 2.85,0a1.43,1.43 0 1,0 -2.85,0" fill="#0000ff"/>
<polyline points="280.30,509.94 290.23,568.57 300.15,568.57 310.07,568.57 320.00,568.57 329.93,568.57 339.85,568.57 349.77,568.57 359.70,568.57 369.62,568.57 379.55,568.57 389.48,627.20 399.40,627.20 409.33,627.20 419.25,627.20 429.18,627.20 439.10,627.20 449.02,627.20 458.95,627.20 468.88,627.20 478.80,627.20" fill="none" stroke="#008000" stroke-width="0.9"/>
<path d="M278.87,509.94a1.43,1.43 0 1,0 2.85,0a1.43,1.43 0 1,0 -2.85,0M288.80,568.57a1.43,1.43 0 1,0 2.85,0a1.43,1.43 0 1,0 -2.85,0M298.72,568.57a1.43,1.43 0 1,0 2.85,0a1.43,1.43 0 1,0 -2.85,0M308.65,568.57a1.43,1.43 0 1,0 2.85,0a1.43,1.43 0 1,0 -2.85,0M318.57,568.57a1.43,1.43 0 1,0 2.85,0a1.43,1.43 0 1,0 -2.85,0M328.50,568.57a1.43,1.43 0 1,0 2.85,0a1.43,1.43 0 1,0 -2.85,0M338.42,568.57a1.43,1.43 0 1,0 2.85,0a1.43,1.43 0 1,0 -2.85,0M348.35,568.57a1.43,1.43 0 1,0 2.85,0a1.43,1.43 0 1,0 -2.85,0M358.27,568.57a1.43,1.43 0 1,0 2.85,0a1.43,1.43 0 1,0 -2.85,0M368.20,568.57a1.43,1.43 0 1,0 2.85,0a1.43,1.43 0 1,0 -2.85,0M378.12,568.57a1.43,1.43 0 1,0 2.85,0a1.43,1.43 0 1,0 -2.85,0M388.05,627.20a1.43,1.43 0 1,0 2.85,0a1.43,1.43 0 1,0 -2.85,0M397.97,627.20a1.43,1.43 0 1,0 2.85,0a1.43,1.43 0 1,0 -2.85,0M407.90,627.20a1.43,1.43 0 1,0 2.85,0a1.43,1.43 0 1,0 -2.85,0M417.82,627.20a1.43,1.43 0 1,0 2.85,0a1.43,1.43 0 1,0 -2.85,0M427.75,627.20a1.43,1.43 0 1,0 2.85,0a1.43,1.43 0 1,0 -2.85,0M437.67,627.20a1.43,1.43 0 1,0 2.85,0a1.43,1.43 0 1,0 -2.85,0M447.60,627.20a1.43,1.43 0 1,0 2.85,0a1.43,1.43 0 1,0 -2.85,0M457.52,627.20a1.43,1.43 0 1,0 2.85,0a1.43,1.43 0 1,0 -2.85,0M467.45,627.20a1.43,1.43 0 1,0 2.85,0a1.43,1.43 0 1,0 -2.85,0M477.37,627.20a1.43,1.43 0 1,0 2.85,0a1.43,1.43 0 1,0 -2.85,0" fill="#008000"/>
<polyline points="280.30,568.57 290.23,568.57 300.15,568.57 310.07,568.57 320.00,568.57 329.93,568.57 339.85,568.57 349.77,568.57 359.70,568.57 369.62,568.57 379.55,627.20 389.48,627.20 399.40,627.20 409.33,627.20 419.25,627.20 429.18,627.20 439.10,627.20 449.02,627.20 458.95,627.20 468.88,627.20 478.80,627.20" fill="none" stroke="#c000c0" stroke-width="0.9"/>
<path d="M278.87,568.57a1.43,1.43 0 1,0 2.85,0a1.43,1.43 0 1,0 -2.85,0M288.80,568.57a1.43,1.43 0 1,0 2.85,0a1.43,1.43 0 1,0 -2.85,0M298.72,568.57a1.43,1.43 0 1,0 2.85,0a1.43,1.43 0 1,0 -2.85,0M308.65,568.57a1.43,1.43 0 1,0 2.85,0a1.43,1.43 0 1,0 -2.85,0M318.57,568.57a1.43,1.43 0 1,0 2.85,0a1.43,1.43 0 1,0 -2.85,0M328.50,568.57a1.43,1.43 0 1,0 2.85,0a1.43,1.43 0 1,0 -2.85,0M338.42,568.57a1.43,1.43 0 1,0 2.85,0a1.43,1.43 0 1,0 -2.85,0M348.35,568.57a1.43,1.43 0 1,0 2.85,0a1.43,1.43 0 1,0 -2.85,0M358.27,568.57a1.43,1.43 0 1,0 2.85,0a1.43,1.43 0 1,0 -2.85,0M368.20,568.57a1.43,1.43 0 1,0 2.85,0a1.43,1.43 0 1,0 -2.85,0M378.12,627.20a1.43,1.43 0 1,0 2.85,0a1.43,1.43 0 1,0 -2.85,0M388.05,627.20a1.43,1.43 0 1,0 2.85,0a1.43,1.43 0 1,0 -2.85,0M397.97,627.20a1.43,1.43 0 1,0 2.85,0a1.43,1.43 0 1,0 -2.85,0M407.90,627.20a1.43,1.43 0 1,0 2.85,0a1.43,1.43 0 1,0 -2.85,0M417.82,627.20a1.43,1.43 0 1,0 2.85,0a1.43,1.43 0 1,0 -2.85,0M427.75,627.20a1.43,1.43 0 1,0 2.85,0a1.43,1.43 0 1,0 -2.85,0M437.67,627.20a1.43,1.43 0 1,0 2.85,0a1.43,1.43 0 1,0 -2.85,0M447.60,627.20a1.43,1.43 0 1,0 2.85,0a1.43,1.43 0 1,0 -2.85,0M457.52,627.20a1.43,1.43 0 1,0 2.85,0a1.43,1.43 0 1,0 -2.85,0M467.45,627.20a1.43,1.43 0 1,0 2.85,0a1.43,1.43 0 1,0 -2.85,0M477.37,627.20a1.43,1.43 0 1,0 2.85,0a1.43,1.43 0 1,0 -2.85,0" fill="#c000c0"/>
<polyline points="280.30,568.57 290.23,568.57 300.15,568.57 310.07,568.57 320.00,568.57 329.93,568.57 339.85,568.57 349.77,568.57 359.70,568.57 369.62,568.57 379.55,568.57 389.48,568.57 399.40,568.57 409.33,568.57 419.25,568.57 429.18,568.57 439.10,568.57 449.02,568.57 458.95,568.57 468.88,627.20 478.80,627.20" fill="none" stroke="#daa520" stroke-width="0.9"/>
<path d="M279.22,568.57a1.08,1.08 0 1,0 2.16,0a1.08,1.08 0 1,0 -2.16,0M289.14,568.57a1.08,1.08 0 1,0 2.16,0a1.08,1.08 0 1,0 -2.16,0M299.07,568.57a1.08,1.08 0 1,0 2.16,0a1.08,1.08 0 1,0 -2.16,0M308.99,568.57a1.08,1.08 0 1,0 2.16,0a1.08,1.08 0 1,0 -2.16,0M318.92,568.57a1.08,1.08 0 1,0 2.16,0a1.08,1.08 0 1,0 -2.16,0M328.84,568.57a1.08,1.08 0 1,0 2.16,0a1.08,1.08 0 1,0 -2.16,0M338.77,568.57a1.08,1.08 0 1,0 2.16,0a1.08,1.08 0 1,0 -2.16,0M348.69,568.57a1.08,1.08 0 1,0 2.16,0a1.08,1.08 0 1,0 -2.16,0M358.62,568.57a1.08,1.08 0 1,0 2.16,0a1.08,1.08 0 1,0 -2.16,0M368.54,568.57a1.08,1.08 0 1,0 2.16,0a1.08,1.08 0 1,0 -2.16,0M378.47,568.57a1.08,1.08 0 1,0 2.16,0a1.08,1.08 0 1,0 -2.16,0M388.39,568.57a1.08,1.08 0 1,0 2.16,0a1.08,1.08 0 1,0 -2.16,0M398.32,568.57a1.08,1.08 0 1,0 2.16,0a1.08,1.08 0 1,0 -2.16,0M408.24,568.57a1.08,1.08 0 1,0 2.16,0a1.08,1.08 0 1,0 -2.16,0M418.17,568.57a1.08,1.08 0 1,0 2.16,0a1.08,1.08 0 1,0 -2.16,0M428.09,568.57a1.08,1.08 0 1,0 2.16,0a1.08,1.08 0 1,0 -2.16,0M438.02,568.57a1.08,1.08 0 1,0 2.16,0a1.08,1.08 0 1,0 -2.16,0M447.94,568.57a1.08,1.08 0 1,0 2.16,0a1.08,1.08 0 1,0 -2.16,0M457.87,568.57a1.08,1.08 0 1,0 2.16,0a1.08,1.08 0 1,0 -2.16,0M467.79,627.20a1.08,1.08 0 1,0 2.16,0a1.08,1.08 0 1,0 -2.16,0M477.72,627.20a1.08,1.08 0 1,0 2.16,0a1.08,1.08 0 1,0 -2.16,0" fill="#daa520"/>
<polyline points="280.30,568.57 290.23,568.57 300.15,568.57 310.07,568.57 320.00,568.57 329.93,568.57 339.85,568.57 349.77,568.57 359.70,568.57 369.62,568.57 379.55,568.57 389.48,568.57 399.40,568.57 409.33,627.20 419.25,627.20 429.18,627.20 439.10,627.20 449.02,627.20 458.95,627.20 468.88,627.20 478.80,627.20" fill="none" stroke="#5046aa" stroke-width="0.9"/>
<path d="M279.17,567.44h2.26v2.26h-2.26ZM289.09,567.44h2.26v2.26h-2.26ZM299.02,567.44h2.26v2.26h-2.26ZM308.94,567.44h2.26v2.26h-2.26ZM318.87,567.44h2.26v2.26h-2.26ZM328.79,567.44h2.26v2.26h-2.26ZM338.72,567.44h2.26v2.26h-2.26ZM348.64,567.44h2.26v2.26h-2.26ZM358.57,567.44h2.26v2.26h-2.26ZM368.49,567.44h2.26v2.26h-2.26ZM378.42,567.44h2.26v2.26h-2.26ZM388.34,567.44h2.26v2.26h-2.26ZM398.27,567.44h2.26v2.26h-2.26ZM408.19,626.07h2.26v2.26h-2.26ZM418.12,626.07h2.26v2.26h-2.26ZM428.04,626.07h2.26v2.26h-2.26ZM437.97,626.07h2.26v2.26h-2.26ZM447.89,626.07h2.26v2.26h-2.26ZM457.82,626.07h2.26v2.26h-2.26ZM467.74,626.07h2.26v2.26h-2.26ZM477.67,626.07h2.26v2.26h-2.26Z" fill="#5046aa"/>
<polyline points="280.30,568.57 290.23,568.57 300.15,568.57 310.07,568.57 320.00,627.20 329.93,627.20 339.85,627.20 349.77,627.20 359.70,627.20 369.62,627.20 379.55,627.20 389.48,627.20 399.40,627.20 409.33,627.20 419.25,627.20 429.18,627.20 439.10,627.20 449.02,627.20 458.95,627.20 468.88,627.20 478.80,627.20" fill="none" stroke="#00ffff" stroke-width="0.9"/>
<path d="M278.87,568.57a1.43,1.43 0 1,0 2.85,0a1.43,1.43 0 1,0 -2.85,0M288.80,568.57a1.43,1.43 0 1,0 2.85,0a1.43,1.43 0 1,0 -2.85,0M298.72,568.57a1.43,1.43 0 1,0 2.85,0a1.43,1.43 0 1,0 -2.85,0M308.65,568.57a1.43,1.43 0 1,0 2.85,0a1.43,1.43 0 1,0 -2.85,0M318.57,627.20a1.43,1.43 0 1,0 2.85,0a1.43,1.43 0 1,0 -2.85,0M328.50,627.20a1.43,1.43 0 1,0 2.85,0a1.43,1.43 0 1,0 -2.85,0M338.42,627.20a1.43,1.43 0 1,0 2.85,0a1.43,1.43 0 1,0 -2.85,0M348.35,627.20a1.43,1.43 0 1,0 2.85,0a1.43,1.43 0 1,0 -2.85,0M358.27,627.20a1.43,1.43 0 1,0 2.85,0a1.43,1.43 0 1,0 -2.85,0M368.20,627.20a1.43,1.43 0 1,0 2.85,0a1.43,1.43 0 1,0 -2.85,0M378.12,627.20a1.43,1.43 0 1,0 2.85,0a1.43,1.43 0 1,0 -2.85,0M388.05,627.20a1.43,1.43 0 1,0 2.85,0a1.43,1.43 0 1,0 -2.85,0M397.97,627.20a1.43,1.43 0 1,0 2.85,0a1.43,1.43 0 1,0 -2.85,0M407.90,627.20a1.43,1.43 0 1,0 2.85,0a1.43,1.43 0 1,0 -2.85,0M417.82,627.20a1.43,1.43 0 1,0 2.85,0a1.43,1.43 0 1,0 -2.85,0M427.75,627.20a1.43,1.43 0 1,0 2.85,0a1.43,1.43 0 1,0 -2.85,0M437.67,627.20a1.43,1.43 0 1,0 2.85,0a1.43,1.43 0 1,0 -2.85,0M447.60,627.20a1.43,1.43 0 1,0 2.85,0a1.43,1.43 0 1,0 -2.85,0M457.52,627.20a1.43,1.43 0 1,0 2.85,0a1.43,1.43 0 1,0 -2.85,0M467.45,627.20a1.43,1.43 0 1,0 2.85,0a1.43,1.43 0 1,0 -2.85,0M477.37,627.20a1.43,1.43 0 1,0 2.85,0a1.43,1.43 0 1,0 -2.85,0" fill="#00ffff"/>
<polyline points="280.30,509.94 290.23,509.94 300.15,568.57 310.07,568.57 320.00,568.57 329.93,568.57 339.85,627.20 349.77,627.20 359.70,627.20 369.62,627.20 379.55,627.20 389.48,627.20 399.40,627.20 409.33,627.20 419.25,627.20 429.18,627.20 439.10,627.20 449.02,627.20 458.95,627.20 468.88,627.20 478.80,627.20" fill="none" stroke="#00ff00" stroke-width="0.9"/>
<path d="M278.87,509.94a1.43,1.43 0 1,0 2.85,0a1.43,1.43 0 1,0 -2.85,0M288.80,509.94a1.43,1.43 0 1,0 2.85,0a1.43,1.43 0 1,0 -2.85,0M298.72,568.57a1.43,1.43 0 1,0 2.85,0a1.43,1.43 0 1,0 -2.85,0M308.65,568.57a1.43,1.43 0 1,0 2.85,0a1.43,1.43 0 1,0 -2.85,0M318.57,568.57a1.43,1.43 0 1,0 2.85,0a1.43,1.43 0 1,0 -2.85,0M328.50,568.57a1.43,1.43 0 1,0 2.85,0a1.43,1.43 0 1,0 -2.85,0M338.42,627.20a1.43,1.43 0 1,0 2.85,0a1.43,1.43 0 1,0 -2.85,0M348.35,627.20a1.43,1.43 0 1,0 2.85,0a1.43,1.43 0 1,0 -2.85,0M358.27,627.20a1.43,1.43 0 1,0 2.85,0a1.43,1.43 0 1,0 -2.85,0M368.20,627.20a1.43,1.43 0 1,0 2.85,0a1.43,1.43 0 1,0 -2.85,0M378.12,627.20a1.43,1.43 0 1,0 2.85,0a1.43,1.43 0 1,0 -2.85,0M388.05,627.20a1.43,1.43 0 1,0 2.85,0a1.43,1.43 0 1,0 -2.85,0M397.97,627.20a1.43,1.43 0 1,0 2.85,0a1.43,1.43 0 1,0 -2.85,0M407.90,627.20a1.43,1.43 0 1,0 2.85,0a1.43,1.43 0 1,0 -2.85,0M417.82,627.20a1.43,1.43 0 1,0 2.85,0a1.43,1.43 0 1,0 -2.85,0M427.75,627.20a1.43,1.43 0 1,0 2.85,0a1.43,1.43 0 1,0 -2.85,0M437.67,627.20a1.43,1.43 0 1,0 2.85,0a1.43,1.43 0 1,0 -2.85,0M447.60,627.20a1.43,1.43 0 1,0 2.85,0a1.43,1.43 0 1,0 -2.85,0M457.52,627.20a1.43,1.43 0 1,0 2.85,0a1.43,1.43 0 1,0 -2.85,0M467.45,627.20a1.43,1.43 0 1,0 2.85,0a1.43,1.43 0 1,0 -2.85,0M477.37,627.20a1.43,1.43 0 1,0 2.85,0a1.43,1.43 0 1,0 -2.85,0" fill="#00ff00"/>
</g>
<rect x="280.3" y="503.5" width="198.50" height="129.30" fill="none" stroke="#3a3a3a" stroke-width="0.9"/>
<line x1="280.30" y1="632.8" x2="280.30" y2="634.96" stroke="#3a3a3a" stroke-width="0.8"/>
<text x="280.30" y="642.24" font-size="6.20" text-anchor="middle" textLength="9.39" lengthAdjust="spacingAndGlyphs">0.0</text>
<line x1="305.11" y1="632.8" x2="305.11" y2="634.96" stroke="#3a3a3a" stroke-width="0.8"/>
<text x="305.11" y="642.24" font-size="6.20" text-anchor="middle" textLength="9.39" lengthAdjust="spacingAndGlyphs">2.5</text>
<line x1="329.93" y1="632.8" x2="329.93" y2="634.96" stroke="#3a3a3a" stroke-width="0.8"/>
<text x="329.93" y="642.24" font-size="6.20" text-anchor="middle" textLength="9.39" lengthAdjust="spacingAndGlyphs">5.0</text>
<line x1="354.74" y1="632.8" x2="354.74" y2="634.96" stroke="#3a3a3a" stroke-width="0.8"/>
<text x="354.74" y="642.24" font-size="6.20" text-anchor="middle" textLength="9.39" lengthAdjust="spacingAndGlyphs">7.5</text>
<line x1="379.55" y1="632.8" x2="379.55" y2="634.96" stroke="#3a3a3a" stroke-width="0.8"/>
<text x="379.55" y="642.24" font-size="6.20" text-anchor="middle" textLength="13.14" lengthAdjust="spacingAndGlyphs">10.0</text>
<line x1="404.36" y1="632.8" x2="404.36" y2="634.96" stroke="#3a3a3a" stroke-width="0.8"/>
<text x="404.36" y="642.24" font-size="6.20" text-anchor="middle" textLength="13.14" lengthAdjust="spacingAndGlyphs">12.5</text>
<line x1="429.18" y1="632.8" x2="429.18" y2="634.96" stroke="#3a3a3a" stroke-width="0.8"/>
<text x="429.18" y="642.24" font-size="6.20" text-anchor="middle" textLength="13.14" lengthAdjust="spacingAndGlyphs">15.0</text>
<line x1="453.99" y1="632.8" x2="453.99" y2="634.96" stroke="#3a3a3a" stroke-width="0.8"/>
<text x="453.99" y="642.24" font-size="6.20" text-anchor="middle" textLength="13.14" lengthAdjust="spacingAndGlyphs">17.5</text>
<line x1="478.80" y1="632.8" x2="478.80" y2="634.96" stroke="#3a3a3a" stroke-width="0.8"/>
<text x="478.80" y="642.24" font-size="6.20" text-anchor="middle" textLength="13.14" lengthAdjust="spacingAndGlyphs">20.0</text>
<text x="379.55" y="649.72" font-size="6.20" text-anchor="middle" textLength="28.11" lengthAdjust="spacingAndGlyphs">Iterations</text>
<line x1="278.14" y1="627.20" x2="280.3" y2="627.20" stroke="#3a3a3a" stroke-width="0.8"/>
<text x="276.17" y="629.46" font-size="6.20" text-anchor="end" textLength="16.90" lengthAdjust="spacingAndGlyphs">0.000</text>
<line x1="278.14" y1="611.37" x2="280.3" y2="611.37" stroke="#3a3a3a" stroke-width="0.8"/>
<text x="276.17" y="613.63" font-size="6.20" text-anchor="end" textLength="16.90" lengthAdjust="spacingAndGlyphs">0.005</text>
<line x1="278.14" y1="595.54" x2="280.3" y2="595.54" stroke="#3a3a3a" stroke-width="0.8"/>
<text x="276.17" y="597.81" font-size="6.20" text-anchor="end" textLength="16.90" lengthAdjust="spacingAndGlyphs">0.010</text>
<line x1="278.14" y1="579.71" x2="280.3" y2="579.71" stroke="#3a3a3a" stroke-width="0.8"/>
<text x="276.17" y="581.98" font-size="6.20" text-anchor="end" textLength="16.90" lengthAdjust="spacingAndGlyphs">0.015</text>
<line x1="278.14" y1="563.89" x2="280.3" y2="563.89" stroke="#3a3a3a" stroke-width="0.8"/>
<text x="276.17" y="566.15" font-size="6.20" text-anchor="end" textLength="16.90" lengthAdjust="spacingAndGlyphs">0.020</text>
<line x1="278.14" y1="548.06" x2="280.3" y2="548.06" stroke="#3a3a3a" stroke-width="0.8"/>
<text x="276.17" y="550.32" font-size="6.20" text-anchor="end" textLength="16.90" lengthAdjust="spacingAndGlyphs">0.025</text>
<line x1="278.14" y1="532.23" x2="280.3" y2="532.23" stroke="#3a3a3a" stroke-width="0.8"/>
<text x="276.17" y="534.49" font-size="6.20" text-anchor="end" textLength="16.90" lengthAdjust="spacingAndGlyphs">0.030</text>
<line x1="278.14" y1="516.40" x2="280.3" y2="516.40" stroke="#3a3a3a" stroke-width="0.8"/>
<text x="276.17" y="518.66" font-size="6.20" text-anchor="end" textLength="16.90" lengthAdjust="spacingAndGlyphs">0.035</text>
<g><text x="0" y="0" font-size="6.20" text-anchor="middle" textLength="88.81" lengthAdjust="spacingAndGlyphs" transform="translate(255.80,568.15) rotate(-90)">Objective (classification error)</text></g>
<rect x="418.40" y="506.45" width="57.44" height="71.02" rx="1.2" fill="#fff" fill-opacity="0.8" stroke="#ccc" stroke-opacity="0.8" stroke-width="0.7"/>
<line x1="420.76" y1="511.27" x2="432.57" y2="511.27" stroke="#ff0000" stroke-width="0.9" stroke-dasharray="3.3,1.45"/>
<path d="M425.29,509.70L428.34,511.27L425.29,512.84Z" fill="#ff0000"/>
<text x="437.29" y="513.43" font-size="6.20" text-anchor="start" textLength="36.15" lengthAdjust="spacingAndGlyphs">ELM-MS-AFS</text>
<line x1="420.76" y1="519.96" x2="432.57" y2="519.96" stroke="#0000ff" stroke-width="0.9"/>
<path d="M425.24,519.96a1.43,1.43 0 1,0 2.85,0a1.43,1.43 0 1,0 -2.85,0" fill="#0000ff"/>
<text x="437.29" y="522.12" font-size="6.20" text-anchor="start" textLength="26.21" lengthAdjust="spacingAndGlyphs">ELM-ABC</text>
<line x1="420.76" y1="528.64" x2="432.57" y2="528.64" stroke="#008000" stroke-width="0.9"/>
<path d="M425.24,528.64a1.43,1.43 0 1,0 2.85,0a1.43,1.43 0 1,0 -2.85,0" fill="#008000"/>
<text x="437.29" y="530.81" font-size="6.20" text-anchor="start" textLength="21.13" lengthAdjust="spacingAndGlyphs">ELM-FA</text>
<line x1="420.76" y1="537.33" x2="432.57" y2="537.33" stroke="#c000c0" stroke-width="0.9"/>
<path d="M425.24,537.33a1.43,1.43 0 1,0 2.85,0a1.43,1.43 0 1,0 -2.85,0" fill="#c000c0"/>
<text x="437.29" y="539.49" font-size="6.20" text-anchor="start" textLength="26.14" lengthAdjust="spacingAndGlyphs">ELM-SCA</text>
<line x1="420.76" y1="546.01" x2="432.57" y2="546.01" stroke="#daa520" stroke-width="0.9"/>
<path d="M425.58,546.01a1.08,1.08 0 1,0 2.16,0a1.08,1.08 0 1,0 -2.16,0" fill="#daa520"/>
<text x="437.29" y="548.18" font-size="6.20" text-anchor="start" textLength="22.11" lengthAdjust="spacingAndGlyphs">ELM-BA</text>
<line x1="420.76" y1="554.70" x2="432.57" y2="554.70" stroke="#5046aa" stroke-width="0.9"/>
<path d="M425.54,553.57h2.26v2.26h-2.26Z" fill="#5046aa"/>
<text x="437.29" y="556.86" font-size="6.20" text-anchor="start" textLength="27.76" lengthAdjust="spacingAndGlyphs">ELM-HHO</text>
<line x1="420.76" y1="563.38" x2="432.57" y2="563.38" stroke="#00ffff" stroke-width="0.9"/>
<path d="M425.24,563.38a1.43,1.43 0 1,0 2.85,0a1.43,1.43 0 1,0 -2.85,0" fill="#00ffff"/>
<text x="437.29" y="565.55" font-size="6.20" text-anchor="start" textLength="28.41" lengthAdjust="spacingAndGlyphs">ELM-WOA</text>
<line x1="420.76" y1="572.07" x2="432.57" y2="572.07" stroke="#00ff00" stroke-width="0.9"/>
<path d="M425.24,572.07a1.43,1.43 0 1,0 2.85,0a1.43,1.43 0 1,0 -2.85,0" fill="#00ff00"/>
<text x="437.29" y="574.23" font-size="6.20" text-anchor="start" textLength="26.46" lengthAdjust="spacingAndGlyphs">ELM-IWO</text>
<text x="621.95" y="501.18" font-size="8.01" text-anchor="middle" textLength="133.95" lengthAdjust="spacingAndGlyphs">Wine 90 neurons convergence graphs</text>
<clipPath id="c11"><rect x="523.4" y="504.4" width="197.10" height="128.10"/></clipPath>
<g clip-path="url(#c11)">
<polyline points="523.40,626.60 533.25,626.60 543.11,626.60 552.97,626.60 562.82,626.60 572.67,626.60 582.53,626.60 592.38,626.60 602.24,626.60 612.10,626.60 621.95,626.60 631.80,626.60 641.66,626.60 651.51,626.60 661.37,626.60 671.23,626.60 681.08,626.60 690.93,626.60 700.79,626.60 710.64,626.60 720.50,626.60" fill="none" stroke="#ff0000" stroke-width="0.9" stroke-dasharray="3.3,1.45"/>
<path d="M522.03,625.04L525.06,626.60L522.03,628.16ZM531.89,625.04L534.92,626.60L531.89,628.16ZM541.74,625.04L544.77,626.60L541.74,628.16ZM551.60,625.04L554.63,626.60L551.60,628.16ZM561.45,625.04L564.48,626.60L561.45,628.16ZM571.31,625.04L574.34,626.60L571.31,628.16ZM581.16,625.04L584.19,626.60L581.16,628.16ZM591.02,625.04L594.05,626.60L591.02,628.16ZM600.87,625.04L603.90,626.60L600.87,628.16ZM610.73,625.04L613.76,626.60L610.73,628.16ZM620.58,625.04L623.61,626.60L620.58,628.16ZM630.44,625.04L633.47,626.60L630.44,628.16ZM640.29,625.04L643.32,626.60L640.29,628.16ZM650.15,625.04L653.18,626.60L650.15,628.16ZM660.00,625.04L663.03,626.60L660.00,628.16ZM669.86,625.04L672.89,626.60L669.86,628.16ZM679.71,625.04L682.74,626.60L679.71,628.16ZM689.57,625.04L692.60,626.60L689.57,628.16ZM699.42,625.04L702.45,626.60L699.42,628.16ZM709.28,625.04L712.31,626.60L709.28,628.16ZM719.13,625.04L722.16,626.60L719.13,628.16Z" fill="#ff0000"/>
<polyline points="523.40,510.19 533.25,626.60 543.11,626.60 552.97,626.60 562.82,626.60 572.67,626.60 582.53,626.60 592.38,626.60 602.24,626.60 612.10,626.60 621.95,626.60 631.80,626.60 641.66,626.60 651.51,626.60 661.37,626.60 671.23,626.60 681.08,626.60 690.93,626.60 700.79,626.60 710.64,626.60 720.50,626.60" fill="none" stroke="#0000ff" stroke-width="0.9"/>
<path d="M521.98,510.19a1.42,1.42 0 1,0 2.83,0a1.42,1.42 0 1,0 -2.83,0M531.84,626.60a1.42,1.42 0 1,0 2.83,0a1.42,1.42 0 1,0 -2.83,0M541.69,626.60a1.42,1.42 0 1,0 2.83,0a1.42,1.42 0 1,0 -2.83,0M551.55,626.60a1.42,1.42 0 1,0 2.83,0a1.42,1.42 0 1,0 -2.83,0M561.40,626.60a1.42,1.42 0 1,0 2.83,0a1.42,1.42 0 1,0 -2.83,0M571.26,626.60a1.42,1.42 0 1,0 2.83,0a1.42,1.42 0 1,0 -2.83,0M581.11,626.60a1.42,1.42 0 1,0 2.83,0a1.42,1.42 0 1,0 -2.83,0M590.97,626.60a1.42,1.42 0 1,0 2.83,0a1.42,1.42 0 1,0 -2.83,0M600.82,626.60a1.42,1.42 0 1,0 2.83,0a1.42,1.42 0 1,0 -2.83,0M610.68,626.60a1.42,1.42 0 1,0 2.83,0a1.42,1.42 0 1,0 -2.83,0M620.53,626.60a1.42,1.42 0 1,0 2.83,0a1.42,1.42 0 1,0 -2.83,0M630.39,626.60a1.42,1.42 0 1,0 2.83,0a1.42,1.42 0 1,0 -2.83,0M640.24,626.60a1.42,1.42 0 1,0 2.83,0a1.42,1.42 0 1,0 -2.83,0M650.10,626.60a1.42,1.42 0 1,0 2.83,0a1.42,1.42 0 1,0 -2.83,0M659.95,626.60a1.42,1.42 0 1,0 2.83,0a1.42,1.42 0 1,0 -2.83,0M669.81,626.60a1.42,1.42 0 1,0 2.83,0a1.42,1.42 0 1,0 -2.83,0M679.66,626.60a1.42,1.42 0 1,0 2.83,0a1.42,1.42 0 1,0 -2.83,0M689.52,626.60a1.42,1.42 0 1,0 2.83,0a1.42,1.42 0 1,0 -2.83,0M699.37,626.60a1.42,1.42 0 1,0 2.83,0a1.42,1.42 0 1,0 -2.83,0M709.23,626.60a1.42,1.42 0 1,0 2.83,0a1.42,1.42 0 1,0 -2.83,0M719.08,626.60a1.42,1.42 0 1,0 2.83,0a1.42,1.42 0 1,0 -2.83,0" fill="#0000ff"/>
<polyline points="523.40,626.60 533.25,626.60 543.11,626.60 552.97,626.60 562.82,626.60 572.67,626.60 582.53,626.60 592.38,626.60 602.24,626.60 612.10,626.60 621.95,626.60 631.80,626.60 641.66,626.60 651.51,626.60 661.37,626.60 671.23,626.60 681.08,626.60 690.93,626.60 700.79,626.60 710.64,626.60 720.50,626.60" fill="none" stroke="#008000" stroke-width="0.9"/>
<path d="M521.98,626.60a1.42,1.42 0 1,0 2.83,0a1.42,1.42 0 1,0 -2.83,0M531.84,626.60a1.42,1.42 0 1,0 2.83,0a1.42,1.42 0 1,0 -2.83,0M541.69,626.60a1.42,1.42 0 1,0 2.83,0a1.42,1.42 0 1,0 -2.83,0M551.55,626.60a1.42,1.42 0 1,0 2.83,0a1.42,1.42 0 1,0 -2.83,0M561.40,626.60a1.42,1.42 0 1,0 2.83,0a1.42,1.42 0 1,0 -2.83,0M571.26,626.60a1.42,1.42 0 1,0 2.83,0a1.42,1.42 0 1,0 -2.83,0M581.11,626.60a1.42,1.42 0 1,0 2.83,0a1.42,1.42 0 1,0 -2.83,0M590.97,626.60a1.42,1.42 0 1,0 2.83,0a1.42,1.42 0 1,0 -2.83,0M600.82,626.60a1.42,1.42 0 1,0 2.83,0a1.42,1.42 0 1,0 -2.83,0M610.68,626.60a1.42,1.42 0 1,0 2.83,0a1.42,1.42 0 1,0 -2.83,0M620.53,626.60a1.42,1.42 0 1,0 2.83,0a1.42,1.42 0 1,0 -2.83,0M630.39,626.60a1.42,1.42 0 1,0 2.83,0a1.42,1.42 0 1,0 -2.83,0M640.24,626.60a1.42,1.42 0 1,0 2.83,0a1.42,1.42 0 1,0 -2.83,0M650.10,626.60a1.42,1.42 0 1,0 2.83,0a1.42,1.42 0 1,0 -2.83,0M659.95,626.60a1.42,1.42 0 1,0 2.83,0a1.42,1.42 0 1,0 -2.83,0M669.81,626.60a1.42,1.42 0 1,0 2.83,0a1.42,1.42 0 1,0 -2.83,0M679.66,626.60a1.42,1.42 0 1,0 2.83,0a1.42,1.42 0 1,0 -2.83,0M689.52,626.60a1.42,1.42 0 1,0 2.83,0a1.42,1.42 0 1,0 -2.83,0M699.37,626.60a1.42,1.42 0 1,0 2.83,0a1.42,1.42 0 1,0 -2.83,0M709.23,626.60a1.42,1.42 0 1,0 2.83,0a1.42,1.42 0 1,0 -2.83,0M719.08,626.60a1.42,1.42 0 1,0 2.83,0a1.42,1.42 0 1,0 -2.83,0" fill="#008000"/>
<polyline points="523.40,510.19 533.25,510.19 543.11,510.19 552.97,510.19 562.82,510.19 572.67,510.19 582.53,626.60 592.38,626.60 602.24,626.60 612.10,626.60 621.95,626.60 631.80,626.60 641.66,626.60 651.51,626.60 661.37,626.60 671.23,626.60 681.08,626.60 690.93,626.60 700.79,626.60 710.64,626.60 720.50,626.60" fill="none" stroke="#c000c0" stroke-width="0.9"/>
<path d="M521.98,510.19a1.42,1.42 0 1,0 2.83,0a1.42,1.42 0 1,0 -2.83,0M531.84,510.19a1.42,1.42 0 1,0 2.83,0a1.42,1.42 0 1,0 -2.83,0M541.69,510.19a1.42,1.42 0 1,0 2.83,0a1.42,1.42 0 1,0 -2.83,0M551.55,510.19a1.42,1.42 0 1,0 2.83,0a1.42,1.42 0 1,0 -2.83,0M561.40,510.19a1.42,1.42 0 1,0 2.83,0a1.42,1.42 0 1,0 -2.83,0M571.26,510.19a1.42,1.42 0 1,0 2.83,0a1.42,1.42 0 1,0 -2.83,0M581.11,626.60a1.42,1.42 0 1,0 2.83,0a1.42,1.42 0 1,0 -2.83,0M590.97,626.60a1.42,1.42 0 1,0 2.83,0a1.42,1.42 0 1,0 -2.83,0M600.82,626.60a1.42,1.42 0 1,0 2.83,0a1.42,1.42 0 1,0 -2.83,0M610.68,626.60a1.42,1.42 0 1,0 2.83,0a1.42,1.42 0 1,0 -2.83,0M620.53,626.60a1.42,1.42 0 1,0 2.83,0a1.42,1.42 0 1,0 -2.83,0M630.39,626.60a1.42,1.42 0 1,0 2.83,0a1.42,1.42 0 1,0 -2.83,0M640.24,626.60a1.42,1.42 0 1,0 2.83,0a1.42,1.42 0 1,0 -2.83,0M650.10,626.60a1.42,1.42 0 1,0 2.83,0a1.42,1.42 0 1,0 -2.83,0M659.95,626.60a1.42,1.42 0 1,0 2.83,0a1.42,1.42 0 1,0 -2.83,0M669.81,626.60a1.42,1.42 0 1,0 2.83,0a1.42,1.42 0 1,0 -2.83,0M679.66,626.60a1.42,1.42 0 1,0 2.83,0a1.42,1.42 0 1,0 -2.83,0M689.52,626.60a1.42,1.42 0 1,0 2.83,0a1.42,1.42 0 1,0 -2.83,0M699.37,626.60a1.42,1.42 0 1,0 2.83,0a1.42,1.42 0 1,0 -2.83,0M709.23,626.60a1.42,1.42 0 1,0 2.83,0a1.42,1.42 0 1,0 -2.83,0M719.08,626.60a1.42,1.42 0 1,0 2.83,0a1.42,1.42 0 1,0 -2.83,0" fill="#c000c0"/>
<polyline points="523.40,626.60 533.25,626.60 543.11,626.60 552.97,626.60 562.82,626.60 572.67,626.60 582.53,626.60 592.38,626.60 602.24,626.60 612.10,626.60 621.95,626.60 631.80,626.60 641.66,626.60 651.51,626.60 661.37,626.60 671.23,626.60 681.08,626.60 690.93,626.60 700.79,626.60 710.64,626.60 720.50,626.60" fill="none" stroke="#daa520" stroke-width="0.9"/>
<path d="M522.33,626.60a1.07,1.07 0 1,0 2.15,0a1.07,1.07 0 1,0 -2.15,0M532.18,626.60a1.07,1.07 0 1,0 2.15,0a1.07,1.07 0 1,0 -2.15,0M542.04,626.60a1.07,1.07 0 1,0 2.15,0a1.07,1.07 0 1,0 -2.15,0M551.89,626.60a1.07,1.07 0 1,0 2.15,0a1.07,1.07 0 1,0 -2.15,0M561.75,626.60a1.07,1.07 0 1,0 2.15,0a1.07,1.07 0 1,0 -2.15,0M571.60,626.60a1.07,1.07 0 1,0 2.15,0a1.07,1.07 0 1,0 -2.15,0M581.46,626.60a1.07,1.07 0 1,0 2.15,0a1.07,1.07 0 1,0 -2.15,0M591.31,626.60a1.07,1.07 0 1,0 2.15,0a1.07,1.07 0 1,0 -2.15,0M601.17,626.60a1.07,1.07 0 1,0 2.15,0a1.07,1.07 0 1,0 -2.15,0M611.02,626.60a1.07,1.07 0 1,0 2.15,0a1.07,1.07 0 1,0 -2.15,0M620.88,626.60a1.07,1.07 0 1,0 2.15,0a1.07,1.07 0 1,0 -2.15,0M630.73,626.60a1.07,1.07 0 1,0 2.15,0a1.07,1.07 0 1,0 -2.15,0M640.59,626.60a1.07,1.07 0 1,0 2.15,0a1.07,1.07 0 1,0 -2.15,0M650.44,626.60a1.07,1.07 0 1,0 2.15,0a1.07,1.07 0 1,0 -2.15,0M660.30,626.60a1.07,1.07 0 1,0 2.15,0a1.07,1.07 0 1,0 -2.15,0M670.15,626.60a1.07,1.07 0 1,0 2.15,0a1.07,1.07 0 1,0 -2.15,0M680.01,626.60a1.07,1.07 0 1,0 2.15,0a1.07,1.07 0 1,0 -2.15,0M689.86,626.60a1.07,1.07 0 1,0 2.15,0a1.07,1.07 0 1,0 -2.15,0M699.72,626.60a1.07,1.07 0 1,0 2.15,0a1.07,1.07 0 1,0 -2.15,0M709.57,626.60a1.07,1.07 0 1,0 2.15,0a1.07,1.07 0 1,0 -2.15,0M719.43,626.60a1.07,1.07 0 1,0 2.15,0a1.07,1.07 0 1,0 -2.15,0" fill="#daa520"/>
<polyline points="523.40,626.60 533.25,626.60 543.11,626.60 552.97,626.60 562.82,626.60 572.67,626.60 582.53,626.60 592.38,626.60 602.24,626.60 612.10,626.60 621.95,626.60 631.80,626.60 641.66,626.60 651.51,626.60 661.37,626.60 671.23,626.60 681.08,626.60 690.93,626.60 700.79,626.60 710.64,626.60 720.50,626.60" fill="none" stroke="#5046aa" stroke-width="0.9"/>
<path d="M522.28,625.48h2.25v2.25h-2.25ZM532.13,625.48h2.25v2.25h-2.25ZM541.99,625.48h2.25v2.25h-2.25ZM551.84,625.48h2.25v2.25h-2.25ZM561.70,625.48h2.25v2.25h-2.25ZM571.55,625.48h2.25v2.25h-2.25ZM581.41,625.48h2.25v2.25h-2.25ZM591.26,625.48h2.25v2.25h-2.25ZM601.12,625.48h2.25v2.25h-2.25ZM610.97,625.48h2.25v2.25h-2.25ZM620.83,625.48h2.25v2.25h-2.25ZM630.68,625.48h2.25v2.25h-2.25ZM640.54,625.48h2.25v2.25h-2.25ZM650.39,625.48h2.25v2.25h-2.25ZM660.25,625.48h2.25v2.25h-2.25ZM670.10,625.48h2.25v2.25h-2.25ZM679.96,625.48h2.25v2.25h-2.25ZM689.81,625.48h2.25v2.25h-2.25ZM699.67,625.48h2.25v2.25h-2.25ZM709.52,625.48h2.25v2.25h-2.25ZM719.38,625.48h2.25v2.25h-2.25Z" fill="#5046aa"/>
<polyline points="523.40,626.60 533.25,626.60 543.11,626.60 552.97,626.60 562.82,626.60 572.67,626.60 582.53,626.60 592.38,626.60 602.24,626.60 612.10,626.60 621.95,626.60 631.80,626.60 641.66,626.60 651.51,626.60 661.37,626.60 671.23,626.60 681.08,626.60 690.93,626.60 700.79,626.60 710.64,626.60 720.50,626.60" fill="none" stroke="#00ffff" stroke-width="0.9"/>
<path d="M521.98,626.60a1.42,1.42 0 1,0 2.83,0a1.42,1.42 0 1,0 -2.83,0M531.84,626.60a1.42,1.42 0 1,0 2.83,0a1.42,1.42 0 1,0 -2.83,0M541.69,626.60a1.42,1.42 0 1,0 2.83,0a1.42,1.42 0 1,0 -2.83,0M551.55,626.60a1.42,1.42 0 1,0 2.83,0a1.42,1.42 0 1,0 -2.83,0M561.40,626.60a1.42,1.42 0 1,0 2.83,0a1.42,1.42 0 1,0 -2.83,0M571.26,626.60a1.42,1.42 0 1,0 2.83,0a1.42,1.42 0 1,0 -2.83,0M581.11,626.60a1.42,1.42 0 1,0 2.83,0a1.42,1.42 0 1,0 -2.83,0M590.97,626.60a1.42,1.42 0 1,0 2.83,0a1.42,1.42 0 1,0 -2.83,0M600.82,626.60a1.42,1.42 0 1,0 2.83,0a1.42,1.42 0 1,0 -2.83,0M610.68,626.60a1.42,1.42 0 1,0 2.83,0a1.42,1.42 0 1,0 -2.83,0M620.53,626.60a1.42,1.42 0 1,0 2.83,0a1.42,1.42 0 1,0 -2.83,0M630.39,626.60a1.42,1.42 0 1,0 2.83,0a1.42,1.42 0 1,0 -2.83,0M640.24,626.60a1.42,1.42 0 1,0 2.83,0a1.42,1.42 0 1,0 -2.83,0M650.10,626.60a1.42,1.42 0 1,0 2.83,0a1.42,1.42 0 1,0 -2.83,0M659.95,626.60a1.42,1.42 0 1,0 2.83,0a1.42,1.42 0 1,0 -2.83,0M669.81,626.60a1.42,1.42 0 1,0 2.83,0a1.42,1.42 0 1,0 -2.83,0M679.66,626.60a1.42,1.42 0 1,0 2.83,0a1.42,1.42 0 1,0 -2.83,0M689.52,626.60a1.42,1.42 0 1,0 2.83,0a1.42,1.42 0 1,0 -2.83,0M699.37,626.60a1.42,1.42 0 1,0 2.83,0a1.42,1.42 0 1,0 -2.83,0M709.23,626.60a1.42,1.42 0 1,0 2.83,0a1.42,1.42 0 1,0 -2.83,0M719.08,626.60a1.42,1.42 0 1,0 2.83,0a1.42,1.42 0 1,0 -2.83,0" fill="#00ffff"/>
<polyline points="523.40,626.60 533.25,626.60 543.11,626.60 552.97,626.60 562.82,626.60 572.67,626.60 582.53,626.60 592.38,626.60 602.24,626.60 612.10,626.60 621.95,626.60 631.80,626.60 641.66,626.60 651.51,626.60 661.37,626.60 671.23,626.60 681.08,626.60 690.93,626.60 700.79,626.60 710.64,626.60 720.50,626.60" fill="none" stroke="#00ff00" stroke-width="0.9"/>
<path d="M521.98,626.60a1.42,1.42 0 1,0 2.83,0a1.42,1.42 0 1,0 -2.83,0M531.84,626.60a1.42,1.42 0 1,0 2.83,0a1.42,1.42 0 1,0 -2.83,0M541.69,626.60a1.42,1.42 0 1,0 2.83,0a1.42,1.42 0 1,0 -2.83,0M551.55,626.60a1.42,1.42 0 1,0 2.83,0a1.42,1.42 0 1,0 -2.83,0M561.40,626.60a1.42,1.42 0 1,0 2.83,0a1.42,1.42 0 1,0 -2.83,0M571.26,626.60a1.42,1.42 0 1,0 2.83,0a1.42,1.42 0 1,0 -2.83,0M581.11,626.60a1.42,1.42 0 1,0 2.83,0a1.42,1.42 0 1,0 -2.83,0M590.97,626.60a1.42,1.42 0 1,0 2.83,0a1.42,1.42 0 1,0 -2.83,0M600.82,626.60a1.42,1.42 0 1,0 2.83,0a1.42,1.42 0 1,0 -2.83,0M610.68,626.60a1.42,1.42 0 1,0 2.83,0a1.42,1.42 0 1,0 -2.83,0M620.53,626.60a1.42,1.42 0 1,0 2.83,0a1.42,1.42 0 1,0 -2.83,0M630.39,626.60a1.42,1.42 0 1,0 2.83,0a1.42,1.42 0 1,0 -2.83,0M640.24,626.60a1.42,1.42 0 1,0 2.83,0a1.42,1.42 0 1,0 -2.83,0M650.10,626.60a1.42,1.42 0 1,0 2.83,0a1.42,1.42 0 1,0 -2.83,0M659.95,626.60a1.42,1.42 0 1,0 2.83,0a1.42,1.42 0 1,0 -2.83,0M669.81,626.60a1.42,1.42 0 1,0 2.83,0a1.42,1.42 0 1,0 -2.83,0M679.66,626.60a1.42,1.42 0 1,0 2.83,0a1.42,1.42 0 1,0 -2.83,0M689.52,626.60a1.42,1.42 0 1,0 2.83,0a1.42,1.42 0 1,0 -2.83,0M699.37,626.60a1.42,1.42 0 1,0 2.83,0a1.42,1.42 0 1,0 -2.83,0M709.23,626.60a1.42,1.42 0 1,0 2.83,0a1.42,1.42 0 1,0 -2.83,0M719.08,626.60a1.42,1.42 0 1,0 2.83,0a1.42,1.42 0 1,0 -2.83,0" fill="#00ff00"/>
</g>
<rect x="523.4" y="504.4" width="197.10" height="128.10" fill="none" stroke="#3a3a3a" stroke-width="0.9"/>
<line x1="523.40" y1="632.5" x2="523.40" y2="634.65" stroke="#3a3a3a" stroke-width="0.8"/>
<text x="523.40" y="641.88" font-size="6.15" text-anchor="middle" textLength="9.32" lengthAdjust="spacingAndGlyphs">0.0</text>
<line x1="548.04" y1="632.5" x2="548.04" y2="634.65" stroke="#3a3a3a" stroke-width="0.8"/>
<text x="548.04" y="641.88" font-size="6.15" text-anchor="middle" textLength="9.32" lengthAdjust="spacingAndGlyphs">2.5</text>
<line x1="572.67" y1="632.5" x2="572.67" y2="634.65" stroke="#3a3a3a" stroke-width="0.8"/>
<text x="572.67" y="641.88" font-size="6.15" text-anchor="middle" textLength="9.32" lengthAdjust="spacingAndGlyphs">5.0</text>
<line x1="597.31" y1="632.5" x2="597.31" y2="634.65" stroke="#3a3a3a" stroke-width="0.8"/>
<text x="597.31" y="641.88" font-size="6.15" text-anchor="middle" textLength="9.32" lengthAdjust="spacingAndGlyphs">7.5</text>
<line x1="621.95" y1="632.5" x2="621.95" y2="634.65" stroke="#3a3a3a" stroke-width="0.8"/>
<text x="621.95" y="641.88" font-size="6.15" text-anchor="middle" textLength="13.05" lengthAdjust="spacingAndGlyphs">10.0</text>
<line x1="646.59" y1="632.5" x2="646.59" y2="634.65" stroke="#3a3a3a" stroke-width="0.8"/>
<text x="646.59" y="641.88" font-size="6.15" text-anchor="middle" textLength="13.05" lengthAdjust="spacingAndGlyphs">12.5</text>
<line x1="671.23" y1="632.5" x2="671.23" y2="634.65" stroke="#3a3a3a" stroke-width="0.8"/>
<text x="671.23" y="641.88" font-size="6.15" text-anchor="middle" textLength="13.05" lengthAdjust="spacingAndGlyphs">15.0</text>
<line x1="695.86" y1="632.5" x2="695.86" y2="634.65" stroke="#3a3a3a" stroke-width="0.8"/>
<text x="695.86" y="641.88" font-size="6.15" text-anchor="middle" textLength="13.05" lengthAdjust="spacingAndGlyphs">17.5</text>
<line x1="720.50" y1="632.5" x2="720.50" y2="634.65" stroke="#3a3a3a" stroke-width="0.8"/>
<text x="720.50" y="641.88" font-size="6.15" text-anchor="middle" textLength="13.05" lengthAdjust="spacingAndGlyphs">20.0</text>
<text x="621.95" y="649.30" font-size="6.15" text-anchor="middle" textLength="27.91" lengthAdjust="spacingAndGlyphs">Iterations</text>
<line x1="521.25" y1="626.60" x2="523.4" y2="626.60" stroke="#3a3a3a" stroke-width="0.8"/>
<text x="519.30" y="628.85" font-size="6.15" text-anchor="end" textLength="20.51" lengthAdjust="spacingAndGlyphs">0.0000</text>
<line x1="521.25" y1="610.89" x2="523.4" y2="610.89" stroke="#3a3a3a" stroke-width="0.8"/>
<text x="519.30" y="613.13" font-size="6.15" text-anchor="end" textLength="20.51" lengthAdjust="spacingAndGlyphs">0.0025</text>
<line x1="521.25" y1="595.17" x2="523.4" y2="595.17" stroke="#3a3a3a" stroke-width="0.8"/>
<text x="519.30" y="597.42" font-size="6.15" text-anchor="end" textLength="20.51" lengthAdjust="spacingAndGlyphs">0.0050</text>
<line x1="521.25" y1="579.46" x2="523.4" y2="579.46" stroke="#3a3a3a" stroke-width="0.8"/>
<text x="519.30" y="581.70" font-size="6.15" text-anchor="end" textLength="20.51" lengthAdjust="spacingAndGlyphs">0.0075</text>
<line x1="521.25" y1="563.74" x2="523.4" y2="563.74" stroke="#3a3a3a" stroke-width="0.8"/>
<text x="519.30" y="565.99" font-size="6.15" text-anchor="end" textLength="20.51" lengthAdjust="spacingAndGlyphs">0.0100</text>
<line x1="521.25" y1="548.03" x2="523.4" y2="548.03" stroke="#3a3a3a" stroke-width="0.8"/>
<text x="519.30" y="550.28" font-size="6.15" text-anchor="end" textLength="20.51" lengthAdjust="spacingAndGlyphs">0.0125</text>
<line x1="521.25" y1="532.31" x2="523.4" y2="532.31" stroke="#3a3a3a" stroke-width="0.8"/>
<text x="519.30" y="534.56" font-size="6.15" text-anchor="end" textLength="20.51" lengthAdjust="spacingAndGlyphs">0.0150</text>
<line x1="521.25" y1="516.60" x2="523.4" y2="516.60" stroke="#3a3a3a" stroke-width="0.8"/>
<text x="519.30" y="518.85" font-size="6.15" text-anchor="end" textLength="20.51" lengthAdjust="spacingAndGlyphs">0.0175</text>
<clipPath id="ylc"><rect x="491.5" y="0" width="100" height="658"/></clipPath>
<g clip-path="url(#ylc)"><text x="0" y="0" font-size="6.15" text-anchor="middle" textLength="88.18" lengthAdjust="spacingAndGlyphs" transform="translate(495.40,568.45) rotate(-90)">Objective (classification error)</text></g>
<rect x="660.53" y="507.33" width="57.04" height="70.52" rx="1.2" fill="#fff" fill-opacity="0.8" stroke="#ccc" stroke-opacity="0.8" stroke-width="0.7"/>
<line x1="662.87" y1="512.12" x2="674.59" y2="512.12" stroke="#ff0000" stroke-width="0.9" stroke-dasharray="3.3,1.45"/>
<path d="M667.37,510.55L670.39,512.12L667.37,513.68Z" fill="#ff0000"/>
<text x="679.28" y="514.26" font-size="6.15" text-anchor="start" textLength="35.90" lengthAdjust="spacingAndGlyphs">ELM-MS-AFS</text>
<line x1="662.87" y1="520.74" x2="674.59" y2="520.74" stroke="#0000ff" stroke-width="0.9"/>
<path d="M667.32,520.74a1.42,1.42 0 1,0 2.83,0a1.42,1.42 0 1,0 -2.83,0" fill="#0000ff"/>
<text x="679.28" y="522.89" font-size="6.15" text-anchor="start" textLength="26.03" lengthAdjust="spacingAndGlyphs">ELM-ABC</text>
<line x1="662.87" y1="529.36" x2="674.59" y2="529.36" stroke="#008000" stroke-width="0.9"/>
<path d="M667.32,529.36a1.42,1.42 0 1,0 2.83,0a1.42,1.42 0 1,0 -2.83,0" fill="#008000"/>
<text x="679.28" y="531.51" font-size="6.15" text-anchor="start" textLength="20.98" lengthAdjust="spacingAndGlyphs">ELM-FA</text>
<line x1="662.87" y1="537.99" x2="674.59" y2="537.99" stroke="#c000c0" stroke-width="0.9"/>
<path d="M667.32,537.99a1.42,1.42 0 1,0 2.83,0a1.42,1.42 0 1,0 -2.83,0" fill="#c000c0"/>
<text x="679.28" y="540.14" font-size="6.15" text-anchor="start" textLength="25.96" lengthAdjust="spacingAndGlyphs">ELM-SCA</text>
<line x1="662.87" y1="546.61" x2="674.59" y2="546.61" stroke="#daa520" stroke-width="0.9"/>
<path d="M667.66,546.61a1.07,1.07 0 1,0 2.15,0a1.07,1.07 0 1,0 -2.15,0" fill="#daa520"/>
<text x="679.28" y="548.76" font-size="6.15" text-anchor="start" textLength="21.96" lengthAdjust="spacingAndGlyphs">ELM-BA</text>
<line x1="662.87" y1="555.24" x2="674.59" y2="555.24" stroke="#5046aa" stroke-width="0.9"/>
<path d="M667.61,554.11h2.25v2.25h-2.25Z" fill="#5046aa"/>
<text x="679.28" y="557.39" font-size="6.15" text-anchor="start" textLength="27.56" lengthAdjust="spacingAndGlyphs">ELM-HHO</text>
<line x1="662.87" y1="563.86" x2="674.59" y2="563.86" stroke="#00ffff" stroke-width="0.9"/>
<path d="M667.32,563.86a1.42,1.42 0 1,0 2.83,0a1.42,1.42 0 1,0 -2.83,0" fill="#00ffff"/>
<text x="679.28" y="566.01" font-size="6.15" text-anchor="start" textLength="28.21" lengthAdjust="spacingAndGlyphs">ELM-WOA</text>
<line x1="662.87" y1="572.49" x2="674.59" y2="572.49" stroke="#00ff00" stroke-width="0.9"/>
<path d="M667.32,572.49a1.42,1.42 0 1,0 2.83,0a1.42,1.42 0 1,0 -2.83,0" fill="#00ff00"/>
<text x="679.28" y="574.64" font-size="6.15" text-anchor="start" textLength="26.27" lengthAdjust="spacingAndGlyphs">ELM-IWO</text>
</svg></body></html>
